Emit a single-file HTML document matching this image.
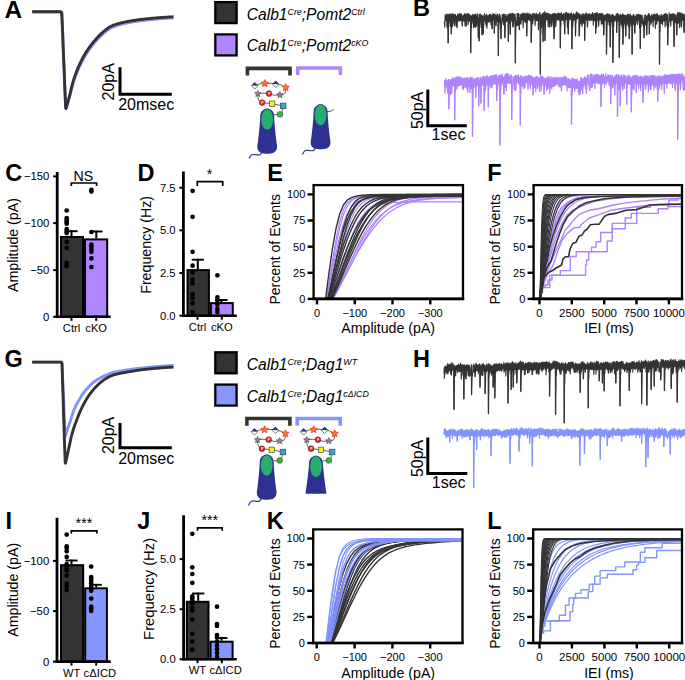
<!DOCTYPE html>
<html><head><meta charset="utf-8"><style>
html,body{margin:0;padding:0;background:#fff;width:685px;height:680px;overflow:hidden}
svg text{font-family:"Liberation Sans", sans-serif}
</style></head><body>
<svg width="685" height="680" viewBox="0 0 685 680" style="position:absolute;left:0;top:0;font-family:'Liberation Sans', sans-serif">
<rect width="685" height="680" fill="#fff"/>
<defs>
<clipPath id="cE"><rect x="313.6" y="185.1" width="149.4" height="113.8"/></clipPath>
<clipPath id="cF"><rect x="533.6" y="185.1" width="148.4" height="113.8"/></clipPath>
<clipPath id="cK"><rect x="313.2" y="529.4" width="149.3" height="113.6"/></clipPath>
<clipPath id="cL"><rect x="533.2" y="529.4" width="148.8" height="113.6"/></clipPath>
</defs>
<text x="4.4" y="17.6" font-size="23.5" text-anchor="start" font-weight="bold" font-style="normal" fill="#000" textLength="17.6" lengthAdjust="spacingAndGlyphs">A</text>
<text x="413" y="16" font-size="23.5" text-anchor="start" font-weight="bold" font-style="normal" fill="#000">B</text>
<text x="5.2" y="181" font-size="23.5" text-anchor="start" font-weight="bold" font-style="normal" fill="#000">C</text>
<text x="137.6" y="181" font-size="23.5" text-anchor="start" font-weight="bold" font-style="normal" fill="#000">D</text>
<text x="267.2" y="181" font-size="23.5" text-anchor="start" font-weight="bold" font-style="normal" fill="#000">E</text>
<text x="487.2" y="181" font-size="23.5" text-anchor="start" font-weight="bold" font-style="normal" fill="#000">F</text>
<text x="4.4" y="367" font-size="23.5" text-anchor="start" font-weight="bold" font-style="normal" fill="#000">G</text>
<text x="413" y="367" font-size="23.5" text-anchor="start" font-weight="bold" font-style="normal" fill="#000">H</text>
<text x="5.4" y="529.2" font-size="23.5" text-anchor="start" font-weight="bold" font-style="normal" fill="#000">I</text>
<text x="137.3" y="529.2" font-size="23.5" text-anchor="start" font-weight="bold" font-style="normal" fill="#000">J</text>
<text x="266.8" y="529.2" font-size="23.5" text-anchor="start" font-weight="bold" font-style="normal" fill="#000">K</text>
<text x="487.2" y="529.2" font-size="23.5" text-anchor="start" font-weight="bold" font-style="normal" fill="#000">L</text>
<polyline points="32.2,11.8 60.4,11.8 61.3,12.1 61.8,13.3 62.3,24.9 62.8,36.5 63.2,48.1 63.7,59.7 64.2,71.2 64.6,82.8 65.1,94.4 65.7,107.7 66,108.5 66.5,107 67,105.4 67.5,103.8 68,102.1 68.5,100.4 69,98.7 69.5,97 70,95.1 70.5,93.2 71,91.2 71.5,89.2 72,87.3 72.5,85.4 73,83.7 73.5,82.1 74,80.6 74.5,79.1 75,77.7 75.5,76.3 76,75 76.5,73.7 77,72.5 77.5,71.3 78,70.1 78.5,68.9 79,67.8 79.5,66.7 80,65.7 80.5,64.6 81,63.6 81.5,62.6 82,61.6 82.5,60.7 83,59.7 83.5,58.8 84,57.9 84.5,57 85,56.1 85.5,55.3 86,54.4 86.5,53.6 87,52.9 87.5,52.1 88,51.4 88.5,50.6 89,49.9 89.5,49.2 90,48.5 90.5,47.8 91,47.2 91.5,46.5 92,45.9 92.5,45.3 93,44.6 93.5,44 94,43.4 94.5,42.8 95,42.3 95.5,41.7 96,41.1 96.5,40.5 97,40 97.5,39.4 98,38.9 98.5,38.3 99,37.8 99.5,37.3 100,36.8 100.5,36.3 101,35.8 101.5,35.3 102,34.8 102.5,34.4 103,33.9 103.5,33.5 104,33.1 104.5,32.7 105,32.2 105.5,31.8 106,31.4 106.5,31 107,30.6 107.5,30.2 108,29.9 108.5,29.5 109,29.2 109.5,28.8 110,28.5 110.5,28.2 111,28 111.5,27.7 112,27.5 112.5,27.3 113,27.1 113.5,26.9 114,26.7 114.5,26.5 115,26.3 115.5,26.1 116,26 116.5,25.8 117,25.6 117.5,25.5 118,25.3 118.5,25.2 119,25 119.5,24.9 120,24.7 120.5,24.6 121,24.5 121.5,24.3 122,24.2 122.5,24.1 123,24 123.5,23.9 124,23.7 124.5,23.6 125,23.5 125.5,23.4 126,23.3 126.5,23.2 127,23.1 127.5,23 128,22.9 128.5,22.8 129,22.7 129.5,22.6 130,22.5 130.5,22.4 131,22.3 131.5,22.2 132,22.1 132.5,22.1 133,22 133.5,21.9 134,21.8 134.5,21.7 135,21.6 135.5,21.6 136,21.5 136.5,21.4 137,21.3 137.5,21.3 138,21.2 138.5,21.1 139,21 139.5,21 140,20.9 140.5,20.8 141,20.8 141.5,20.7 142,20.7 142.5,20.6 143,20.5 143.5,20.5 144,20.4 144.5,20.4 145,20.3 145.5,20.2 146,20.2 146.5,20.1 147,20.1 147.5,20 148,20 148.5,19.9 149,19.9 149.5,19.8 150,19.8 150.5,19.7 151,19.6 151.5,19.6 152,19.5 152.5,19.5 153,19.4 153.5,19.4 154,19.3 154.5,19.3 155,19.2 155.5,19.2 156,19.1 156.5,19.1 157,19 157.5,19 158,19 158.5,18.9 159,18.9 159.5,18.8 160,18.8 160.5,18.7 161,18.7 161.5,18.7 162,18.6 162.5,18.6 163,18.5 163.5,18.5 164,18.5 164.5,18.4 165,18.4 165.5,18.3 166,18.3 166.5,18.3 167,18.2 167.5,18.2 168,18.2 168.5,18.2 169,18.1 169.5,18.1 170,18.1 170.5,18 171,18 171.5,18 172,18 172.5,17.9 173,17.9 173.5,17.9" fill="none" stroke="#ae84fc" stroke-width="2.9" stroke-linejoin="round"/>
<polyline points="32.2,11.8 60.4,11.8 61.3,12.1 61.8,13.3 62.3,24.9 62.8,36.5 63.2,48.1 63.7,59.7 64.2,71.2 64.6,82.8 65.1,94.4 65.7,107.7 66,108.5 66.5,106.8 67,105.1 67.5,103.3 68,101.5 68.5,99.7 69,97.9 69.5,96 70,94 70.5,92 71,89.8 71.5,87.7 72,85.6 72.5,83.7 73,81.9 73.5,80.2 74,78.6 74.5,77.1 75,75.7 75.5,74.2 76,72.9 76.5,71.6 77,70.3 77.5,69.1 78,67.9 78.5,66.7 79,65.6 79.5,64.5 80,63.5 80.5,62.4 81,61.4 81.5,60.4 82,59.4 82.5,58.5 83,57.5 83.5,56.6 84,55.7 84.5,54.8 85,54 85.5,53.1 86,52.3 86.5,51.5 87,50.8 87.5,50 88,49.3 88.5,48.5 89,47.8 89.5,47.1 90,46.5 90.5,45.8 91,45.1 91.5,44.5 92,43.8 92.5,43.2 93,42.6 93.5,42 94,41.4 94.5,40.8 95,40.3 95.5,39.7 96,39.1 96.5,38.6 97,38 97.5,37.5 98,36.9 98.5,36.4 99,35.9 99.5,35.4 100,34.9 100.5,34.4 101,33.9 101.5,33.5 102,33 102.5,32.6 103,32.1 103.5,31.7 104,31.3 104.5,30.9 105,30.5 105.5,30.1 106,29.6 106.5,29.3 107,28.9 107.5,28.5 108,28.1 108.5,27.8 109,27.4 109.5,27.1 110,26.8 110.5,26.5 111,26.3 111.5,26 112,25.8 112.5,25.6 113,25.4 113.5,25.2 114,25 114.5,24.9 115,24.7 115.5,24.5 116,24.3 116.5,24.2 117,24 117.5,23.9 118,23.7 118.5,23.6 119,23.4 119.5,23.3 120,23.2 120.5,23 121,22.9 121.5,22.8 122,22.7 122.5,22.5 123,22.4 123.5,22.3 124,22.2 124.5,22.1 125,22 125.5,21.9 126,21.8 126.5,21.7 127,21.6 127.5,21.5 128,21.4 128.5,21.3 129,21.2 129.5,21.1 130,21.1 130.5,21 131,20.9 131.5,20.8 132,20.7 132.5,20.6 133,20.6 133.5,20.5 134,20.4 134.5,20.3 135,20.2 135.5,20.2 136,20.1 136.5,20 137,20 137.5,19.9 138,19.8 138.5,19.8 139,19.7 139.5,19.6 140,19.6 140.5,19.5 141,19.4 141.5,19.4 142,19.3 142.5,19.3 143,19.2 143.5,19.2 144,19.1 144.5,19.1 145,19 145.5,18.9 146,18.9 146.5,18.8 147,18.8 147.5,18.7 148,18.7 148.5,18.6 149,18.6 149.5,18.5 150,18.5 150.5,18.4 151,18.4 151.5,18.3 152,18.3 152.5,18.3 153,18.2 153.5,18.2 154,18.1 154.5,18.1 155,18 155.5,18 156,17.9 156.5,17.9 157,17.8 157.5,17.8 158,17.8 158.5,17.7 159,17.7 159.5,17.6 160,17.6 160.5,17.6 161,17.5 161.5,17.5 162,17.4 162.5,17.4 163,17.4 163.5,17.3 164,17.3 164.5,17.3 165,17.2 165.5,17.2 166,17.2 166.5,17.1 167,17.1 167.5,17.1 168,17.1 168.5,17 169,17 169.5,17 170,16.9 170.5,16.9 171,16.9 171.5,16.9 172,16.9 172.5,16.8 173,16.8 173.5,16.8" fill="none" stroke="#333333" stroke-width="2.9" stroke-linejoin="round"/>
<polyline points="120,67.2 120,94.2 171.8,94.2" fill="none" stroke="#000" stroke-width="3"/>
<text x="118.2" y="109.8" font-size="16" text-anchor="start" font-weight="normal" font-style="normal" fill="#000">20msec</text>
<text x="113.8" y="81.8" font-size="16" text-anchor="middle" font-weight="normal" font-style="normal" fill="#000" transform="rotate(-90 113.8 81.8)">20pA</text>
<polyline points="32.2,362.1 60.6,362.1 61.5,362.4 62,363.6 62.4,372.4 62.8,381.1 63.1,389.9 63.5,398.6 63.9,407.4 64.2,416.1 64.6,424.9 65.1,435.3 65.4,436.1 65.9,434.3 66.4,432.6 66.9,431 67.4,429.4 67.9,427.9 68.4,426.5 68.9,425.2 69.4,423.8 69.9,422.5 70.4,421 70.9,419.4 71.4,417.7 71.9,416 72.4,414.3 72.9,412.7 73.4,411.3 73.9,410.1 74.4,408.9 74.9,407.8 75.4,406.7 75.9,405.7 76.4,404.7 76.9,403.8 77.4,402.9 77.9,402 78.4,401.1 78.9,400.3 79.4,399.4 79.9,398.6 80.4,397.7 80.9,396.9 81.4,396.1 81.9,395.3 82.4,394.6 82.9,393.8 83.4,393.1 83.9,392.4 84.4,391.8 84.9,391.1 85.4,390.5 85.9,389.9 86.4,389.3 86.9,388.7 87.4,388.2 87.9,387.6 88.4,387.1 88.9,386.5 89.4,386 89.9,385.5 90.4,385 90.9,384.5 91.4,384.1 91.9,383.6 92.4,383.2 92.9,382.8 93.4,382.4 93.9,382 94.4,381.6 94.9,381.3 95.4,380.9 95.9,380.6 96.4,380.3 96.9,379.9 97.4,379.6 97.9,379.3 98.4,379 98.9,378.7 99.4,378.5 99.9,378.2 100.4,377.9 100.9,377.6 101.4,377.4 101.9,377.1 102.4,376.9 102.9,376.6 103.4,376.4 103.9,376.1 104.4,375.9 104.9,375.7 105.4,375.4 105.9,375.2 106.4,375 106.9,374.8 107.4,374.5 107.9,374.3 108.4,374.1 108.9,373.9 109.4,373.7 109.9,373.5 110.4,373.4 110.9,373.2 111.4,373 111.9,372.9 112.4,372.7 112.9,372.6 113.4,372.5 113.9,372.3 114.4,372.2 114.9,372.1 115.4,372 115.9,371.9 116.4,371.8 116.9,371.7 117.4,371.6 117.9,371.5 118.4,371.4 118.9,371.3 119.4,371.2 119.9,371.1 120.4,371 120.9,370.9 121.4,370.8 121.9,370.7 122.4,370.7 122.9,370.6 123.4,370.5 123.9,370.4 124.4,370.3 124.9,370.3 125.4,370.2 125.9,370.1 126.4,370 126.9,370 127.4,369.9 127.9,369.8 128.4,369.7 128.9,369.7 129.4,369.6 129.9,369.5 130.4,369.5 130.9,369.4 131.4,369.3 131.9,369.2 132.4,369.2 132.9,369.1 133.4,369 133.9,369 134.4,368.9 134.9,368.8 135.4,368.8 135.9,368.7 136.4,368.7 136.9,368.6 137.4,368.5 137.9,368.5 138.4,368.4 138.9,368.4 139.4,368.3 139.9,368.2 140.4,368.2 140.9,368.1 141.4,368.1 141.9,368 142.4,368 142.9,367.9 143.4,367.9 143.9,367.8 144.4,367.8 144.9,367.7 145.4,367.7 145.9,367.6 146.4,367.6 146.9,367.5 147.4,367.5 147.9,367.4 148.4,367.4 148.9,367.3 149.4,367.3 149.9,367.2 150.4,367.2 150.9,367.1 151.4,367.1 151.9,367 152.4,367 152.9,366.9 153.4,366.9 153.9,366.8 154.4,366.8 154.9,366.8 155.4,366.7 155.9,366.7 156.4,366.6 156.9,366.6 157.4,366.5 157.9,366.5 158.4,366.5 158.9,366.4 159.4,366.4 159.9,366.3 160.4,366.3 160.9,366.2 161.4,366.2 161.9,366.2 162.4,366.1 162.9,366.1 163.4,366.1 163.9,366 164.4,366 164.9,365.9 165.4,365.9 165.9,365.9 166.4,365.8 166.9,365.8 167.4,365.8 167.9,365.7 168.4,365.7 168.9,365.7 169.4,365.6 169.9,365.6 170.4,365.6 170.9,365.5 171.4,365.5 171.9,365.5 172.4,365.5 172.9,365.4 173.4,365.4" fill="none" stroke="#8393fc" stroke-width="2.9" stroke-linejoin="round"/>
<polyline points="32.2,362.1 60.6,362.1 61.5,362.4 62,363.6 62.4,375.7 62.8,387.9 63.2,400 63.5,412.2 63.9,424.3 64.3,436.4 64.7,448.6 65.2,462.4 65.5,463.2 66,460.9 66.5,458.6 67,456.4 67.5,454.1 68,451.9 68.5,449.6 69,447.3 69.5,444.9 70,442.6 70.5,440.2 71,438 71.5,435.9 72,434 72.5,432.3 73,430.6 73.5,429 74,427.5 74.5,426 75,424.6 75.5,423.2 76,421.9 76.5,420.5 77,419.2 77.5,417.9 78,416.6 78.5,415.4 79,414.1 79.5,412.9 80,411.7 80.5,410.6 81,409.5 81.5,408.4 82,407.4 82.5,406.4 83,405.4 83.5,404.5 84,403.5 84.5,402.6 85,401.7 85.5,400.8 86,400 86.5,399.1 87,398.3 87.5,397.5 88,396.8 88.5,396 89,395.3 89.5,394.6 90,393.9 90.5,393.2 91,392.6 91.5,391.9 92,391.3 92.5,390.7 93,390.1 93.5,389.5 94,388.9 94.5,388.3 95,387.8 95.5,387.2 96,386.7 96.5,386.2 97,385.7 97.5,385.2 98,384.7 98.5,384.3 99,383.8 99.5,383.4 100,382.9 100.5,382.5 101,382.1 101.5,381.7 102,381.3 102.5,380.9 103,380.5 103.5,380.2 104,379.8 104.5,379.5 105,379.1 105.5,378.8 106,378.5 106.5,378.2 107,377.9 107.5,377.6 108,377.3 108.5,377.1 109,376.8 109.5,376.6 110,376.3 110.5,376.1 111,375.9 111.5,375.7 112,375.5 112.5,375.3 113,375.1 113.5,375 114,374.8 114.5,374.7 115,374.6 115.5,374.4 116,374.3 116.5,374.2 117,374.1 117.5,373.9 118,373.8 118.5,373.7 119,373.6 119.5,373.5 120,373.4 120.5,373.3 121,373.2 121.5,373.1 122,373 122.5,372.9 123,372.8 123.5,372.8 124,372.7 124.5,372.6 125,372.5 125.5,372.4 126,372.3 126.5,372.2 127,372.1 127.5,372 128,371.9 128.5,371.8 129,371.8 129.5,371.7 130,371.6 130.5,371.5 131,371.4 131.5,371.3 132,371.2 132.5,371.2 133,371.1 133.5,371 134,370.9 134.5,370.8 135,370.8 135.5,370.7 136,370.6 136.5,370.5 137,370.4 137.5,370.4 138,370.3 138.5,370.2 139,370.2 139.5,370.1 140,370 140.5,369.9 141,369.9 141.5,369.8 142,369.8 142.5,369.7 143,369.6 143.5,369.6 144,369.5 144.5,369.5 145,369.4 145.5,369.3 146,369.3 146.5,369.2 147,369.2 147.5,369.1 148,369.1 148.5,369 149,369 149.5,368.9 150,368.9 150.5,368.8 151,368.8 151.5,368.7 152,368.7 152.5,368.6 153,368.6 153.5,368.5 154,368.5 154.5,368.4 155,368.4 155.5,368.3 156,368.3 156.5,368.2 157,368.2 157.5,368.2 158,368.1 158.5,368.1 159,368 159.5,368 160,367.9 160.5,367.9 161,367.9 161.5,367.8 162,367.8 162.5,367.7 163,367.7 163.5,367.7 164,367.6 164.5,367.6 165,367.6 165.5,367.5 166,367.5 166.5,367.5 167,367.4 167.5,367.4 168,367.4 168.5,367.3 169,367.3 169.5,367.3 170,367.3 170.5,367.2 171,367.2 171.5,367.2 172,367.2 172.5,367.1 173,367.1 173.5,367.1" fill="none" stroke="#333333" stroke-width="2.9" stroke-linejoin="round"/>
<polyline points="120,423 120,447.8 171.8,447.8" fill="none" stroke="#000" stroke-width="3"/>
<text x="118.2" y="463.6" font-size="16" text-anchor="start" font-weight="normal" font-style="normal" fill="#000">20msec</text>
<text x="114" y="435.4" font-size="16" text-anchor="middle" font-weight="normal" font-style="normal" fill="#000" transform="rotate(-90 114 435.4)">20pA</text>
<rect x="215.3" y="2.1" width="21.3" height="21" fill="#333333" stroke="#000" stroke-width="2.3"/>
<rect x="215.3" y="34.4" width="21.3" height="21" fill="#b085fe" stroke="#000" stroke-width="2.3"/>
<text x="246.8" y="19.8" font-size="15.6" font-style="italic"><tspan dy="-0">Calb1</tspan><tspan font-size="8.8" dy="-4.9">Cre</tspan><tspan dy="4.9">;Pomt2</tspan><tspan font-size="8.8" dy="-4.9">Ctrl</tspan></text>
<text x="246.8" y="51.2" font-size="15.6" font-style="italic"><tspan dy="-0">Calb1</tspan><tspan font-size="8.8" dy="-4.9">Cre</tspan><tspan dy="4.9">;Pomt2</tspan><tspan font-size="8.8" dy="-4.9">cKO</tspan></text>
<rect x="215.3" y="352.3" width="21.3" height="21" fill="#333333" stroke="#000" stroke-width="2.3"/>
<rect x="215.3" y="384.6" width="21.3" height="21" fill="#8696fe" stroke="#000" stroke-width="2.3"/>
<text x="246.8" y="369.8" font-size="15.6" font-style="italic"><tspan dy="-0">Calb1</tspan><tspan font-size="8.8" dy="-4.9">Cre</tspan><tspan dy="4.9">;Dag1</tspan><tspan font-size="8.8" dy="-4.9">WT</tspan></text>
<text x="246.8" y="401.6" font-size="15.6" font-style="italic"><tspan dy="-0">Calb1</tspan><tspan font-size="8.8" dy="-4.9">Cre</tspan><tspan dy="4.9">;Dag1</tspan><tspan font-size="8.8" dy="-4.9">c&#916;ICD</tspan></text>
<polyline points="247.4,75.4 247.4,68.4 290,68.4 290,75.4" fill="none" stroke="#333333" stroke-width="3.6" stroke-linejoin="miter"/>
<polyline points="297.7,75 297.7,68 340.4,68 340.4,75" fill="none" stroke="#b085fe" stroke-width="3.6" stroke-linejoin="miter"/>
<path d="M260.3,115.8 C260.3,106.5 274.1,106.5 274.1,115.8 C274.5,124.4 275.4,133.4 276.5,142.3 C277.6,147.4 277.4,150.9 273.2,152.9 C270.2,154 264.2,154 261.2,152.9 C257,150.9 256.8,147.4 257.9,142.3 C259,133.4 259.9,124.4 260.3,115.8 Z" fill="#2e3192"/>
<ellipse cx="267.2" cy="119.4" rx="6.3" ry="10.7" fill="#27ae6f" stroke="#2e3192" stroke-width="0.7"/>
<path d="M262.5,151.5 C260.5,155.7 258.4,155 255.8,154.7 S251,153.6 249,158.5" fill="none" stroke="#2e3192" stroke-width="1.2"/>
<path d="M254.7,85.7 Q259.8,83.2 264.8,83.5 Q270.2,82.5 275.7,84.2 Q280.7,83.7 285.7,87.5" fill="none" stroke="#333" stroke-width="0.75"/>
<path d="M285.7,87.5 Q286.7,95.9 279.9,94.9" fill="none" stroke="#333" stroke-width="0.75"/>
<path d="M279.9,94.9 Q274.4,96.4 269,93.6 Q263.4,92.6 257.8,93.8" fill="none" stroke="#333" stroke-width="0.75"/>
<path d="M257.8,93.8 Q257.3,101.6 262.2,102.6" fill="none" stroke="#333" stroke-width="0.75"/>
<path d="M262.2,102.6 L272.1,103.7 L283.2,105.9 L281.5,114.3 L274,114.8" fill="none" stroke="#333" stroke-width="0.75"/>
<path d="M251.4,85.7 L254.7,82.4 L258,85.7 Z" fill="#2e3192"/>
<path d="M251.4,85.7 L254.7,89 L258,85.7 Z" fill="#fff"/>
<path d="M251.4,85.7 L254.7,82.4 L258,85.7 L254.7,89 Z" fill="none" stroke="#222" stroke-width="0.6"/>
<path d="M272.4,84.2 L275.7,80.9 L279,84.2 Z" fill="#2e3192"/>
<path d="M272.4,84.2 L275.7,87.5 L279,84.2 Z" fill="#fff"/>
<path d="M272.4,84.2 L275.7,80.9 L279,84.2 L275.7,87.5 Z" fill="none" stroke="#222" stroke-width="0.6"/>
<path d="M264.8,79.6 L265.9,82 L268.5,82.3 L266.6,84.1 L267.1,86.7 L264.8,85.4 L262.5,86.7 L263,84.1 L261.1,82.3 L263.7,82Z" fill="#f47920" stroke="#ed1c24" stroke-width="0.6"/>
<path d="M285.7,83.6 L286.8,86 L289.4,86.3 L287.5,88.1 L288,90.7 L285.7,89.4 L283.4,90.7 L283.9,88.1 L282,86.3 L284.6,86Z" fill="#f47920" stroke="#ed1c24" stroke-width="0.6"/>
<path d="M257.8,90.4 L258.7,92.5 L261,92.7 L259.3,94.3 L259.8,96.6 L257.8,95.4 L255.8,96.6 L256.3,94.3 L254.6,92.7 L256.9,92.5Z" fill="#a8789f" stroke="#333" stroke-width="0.5"/>
<path d="M279.9,91.5 L280.8,93.6 L283.1,93.8 L281.4,95.4 L281.9,97.7 L279.9,96.5 L277.9,97.7 L278.4,95.4 L276.7,93.8 L279,93.6Z" fill="#a8789f" stroke="#333" stroke-width="0.5"/>
<circle cx="269" cy="93.6" r="2.9" fill="#ed1c24" stroke="#333" stroke-width="0.5"/>
<text x="269.2" y="94.7" font-size="3.2" font-weight="bold" font-style="italic" fill="#fff" text-anchor="middle">P</text>
<circle cx="262.2" cy="102.6" r="2.9" fill="#ed1c24" stroke="#333" stroke-width="0.5"/>
<text x="262.4" y="103.7" font-size="3.2" font-weight="bold" font-style="italic" fill="#fff" text-anchor="middle">P</text>
<rect x="269.4" y="101" width="5.4" height="5.4" fill="#fff200" stroke="#333" stroke-width="0.6"/>
<rect x="280.4" y="103.1" width="5.6" height="5.6" fill="#29abe2" stroke="#333" stroke-width="0.6"/>
<circle cx="280" cy="114.3" r="2.9" fill="#39b54a" stroke="#333" stroke-width="0.5"/>
<path d="M313.7,111.4 C313.7,102.1 327.5,102.1 327.5,111.4 C327.9,120 328.8,129 329.9,137.9 C331,143 330.8,146.5 326.6,148.5 C323.6,149.6 317.6,149.6 314.6,148.5 C310.4,146.5 310.2,143 311.3,137.9 C312.4,129 313.3,120 313.7,111.4 Z" fill="#2e3192"/>
<ellipse cx="320.6" cy="115" rx="6.3" ry="10.7" fill="#27ae6f" stroke="#2e3192" stroke-width="0.7"/>
<path d="M316,147.3 C314,151.6 311.9,150.9 309.2,150.5 S304.5,149.5 302.5,154.5" fill="none" stroke="#2e3192" stroke-width="1.2"/>
<path d="M327.2,111.6 C330,111.8 332.5,111 333.8,109" fill="none" stroke="#333" stroke-width="0.8"/>
<line x1="326.5" y1="111.6" x2="327.5" y2="111.6" stroke="#333" stroke-width="0.8"/>
<polyline points="246.9,425.7 246.9,418.5 289.9,418.5 289.9,425.7" fill="none" stroke="#333333" stroke-width="3.6" stroke-linejoin="miter"/>
<polyline points="297.2,425.7 297.2,418.5 340.2,418.5 340.2,425.7" fill="none" stroke="#8696fe" stroke-width="3.6" stroke-linejoin="miter"/>
<path d="M254.4,431.8 Q259.4,429.3 264.5,429.6 Q269.9,428.6 275.4,430.3 Q280.4,429.8 285.4,433.6" fill="none" stroke="#333" stroke-width="0.75"/>
<path d="M285.4,433.6 Q286.4,442 279.6,441" fill="none" stroke="#333" stroke-width="0.75"/>
<path d="M279.6,441 Q274.1,442.5 268.7,439.7 Q263.1,438.7 257.5,439.9" fill="none" stroke="#333" stroke-width="0.75"/>
<path d="M257.5,439.9 Q257,447.7 261.9,448.7" fill="none" stroke="#333" stroke-width="0.75"/>
<path d="M261.9,448.7 L271.8,449.8 L282.9,452 L281.2,460.4 L273.7,460.9" fill="none" stroke="#333" stroke-width="0.75"/>
<path d="M251.1,431.8 L254.4,428.5 L257.7,431.8 Z" fill="#2e3192"/>
<path d="M251.1,431.8 L254.4,435.1 L257.7,431.8 Z" fill="#fff"/>
<path d="M251.1,431.8 L254.4,428.5 L257.7,431.8 L254.4,435.1 Z" fill="none" stroke="#222" stroke-width="0.6"/>
<path d="M272.1,430.3 L275.4,427 L278.7,430.3 Z" fill="#2e3192"/>
<path d="M272.1,430.3 L275.4,433.6 L278.7,430.3 Z" fill="#fff"/>
<path d="M272.1,430.3 L275.4,427 L278.7,430.3 L275.4,433.6 Z" fill="none" stroke="#222" stroke-width="0.6"/>
<path d="M264.5,425.7 L265.6,428.1 L268.2,428.4 L266.3,430.2 L266.8,432.8 L264.5,431.5 L262.2,432.8 L262.7,430.2 L260.8,428.4 L263.4,428.1Z" fill="#f47920" stroke="#ed1c24" stroke-width="0.6"/>
<path d="M285.4,429.7 L286.5,432.1 L289.1,432.4 L287.2,434.2 L287.7,436.8 L285.4,435.5 L283.1,436.8 L283.6,434.2 L281.7,432.4 L284.3,432.1Z" fill="#f47920" stroke="#ed1c24" stroke-width="0.6"/>
<path d="M257.5,436.5 L258.4,438.6 L260.7,438.8 L259,440.4 L259.5,442.7 L257.5,441.5 L255.5,442.7 L256,440.4 L254.3,438.8 L256.6,438.6Z" fill="#a8789f" stroke="#333" stroke-width="0.5"/>
<path d="M279.6,437.6 L280.5,439.7 L282.8,439.9 L281.1,441.5 L281.6,443.8 L279.6,442.6 L277.6,443.8 L278.1,441.5 L276.4,439.9 L278.7,439.7Z" fill="#a8789f" stroke="#333" stroke-width="0.5"/>
<circle cx="268.7" cy="439.7" r="2.9" fill="#ed1c24" stroke="#333" stroke-width="0.5"/>
<text x="268.9" y="440.8" font-size="3.2" font-weight="bold" font-style="italic" fill="#fff" text-anchor="middle">P</text>
<circle cx="261.9" cy="448.7" r="2.9" fill="#ed1c24" stroke="#333" stroke-width="0.5"/>
<text x="262.1" y="449.8" font-size="3.2" font-weight="bold" font-style="italic" fill="#fff" text-anchor="middle">P</text>
<rect x="269.1" y="447.1" width="5.4" height="5.4" fill="#fff200" stroke="#333" stroke-width="0.6"/>
<rect x="280.1" y="449.2" width="5.6" height="5.6" fill="#29abe2" stroke="#333" stroke-width="0.6"/>
<circle cx="279.7" cy="460.4" r="2.9" fill="#39b54a" stroke="#333" stroke-width="0.5"/>
<path d="M259.8,461.8 C259.8,452.5 273.6,452.5 273.6,461.8 C274,470.4 274.9,479.4 276,488.3 C277.1,493.4 276.9,496.9 272.7,498.9 C269.7,500 263.7,500 260.7,498.9 C256.5,496.9 256.3,493.4 257.4,488.3 C258.5,479.4 259.4,470.4 259.8,461.8 Z" fill="#2e3192"/>
<ellipse cx="266.7" cy="465.4" rx="6.3" ry="10.7" fill="#27ae6f" stroke="#2e3192" stroke-width="0.7"/>
<path d="M262,497.5 C260,502.3 257.9,501.5 255.2,501.1 S250.5,499.9 248.5,505.5" fill="none" stroke="#2e3192" stroke-width="1.2"/>
<path d="M303.6,431.8 Q308.7,429.3 313.7,429.6 Q319.2,428.6 324.6,430.3 Q329.6,429.8 334.6,433.6" fill="none" stroke="#333" stroke-width="0.75"/>
<path d="M334.6,433.6 Q335.6,442 328.8,441" fill="none" stroke="#333" stroke-width="0.75"/>
<path d="M328.8,441 Q323.4,442.5 317.9,439.7 Q312.3,438.7 306.7,439.9" fill="none" stroke="#333" stroke-width="0.75"/>
<path d="M306.7,439.9 Q306.2,447.7 311.1,448.7" fill="none" stroke="#333" stroke-width="0.75"/>
<path d="M311.1,448.7 L321,449.8 L332.1,452 L330.4,460.4 L322.9,460.9" fill="none" stroke="#333" stroke-width="0.75"/>
<path d="M300.3,431.8 L303.6,428.5 L306.9,431.8 Z" fill="#2e3192"/>
<path d="M300.3,431.8 L303.6,435.1 L306.9,431.8 Z" fill="#fff"/>
<path d="M300.3,431.8 L303.6,428.5 L306.9,431.8 L303.6,435.1 Z" fill="none" stroke="#222" stroke-width="0.6"/>
<path d="M321.3,430.3 L324.6,427 L327.9,430.3 Z" fill="#2e3192"/>
<path d="M321.3,430.3 L324.6,433.6 L327.9,430.3 Z" fill="#fff"/>
<path d="M321.3,430.3 L324.6,427 L327.9,430.3 L324.6,433.6 Z" fill="none" stroke="#222" stroke-width="0.6"/>
<path d="M313.7,425.7 L314.8,428.1 L317.4,428.4 L315.5,430.2 L316,432.8 L313.7,431.5 L311.4,432.8 L311.9,430.2 L310,428.4 L312.6,428.1Z" fill="#f47920" stroke="#ed1c24" stroke-width="0.6"/>
<path d="M334.6,429.7 L335.7,432.1 L338.3,432.4 L336.4,434.2 L336.9,436.8 L334.6,435.5 L332.3,436.8 L332.8,434.2 L330.9,432.4 L333.5,432.1Z" fill="#f47920" stroke="#ed1c24" stroke-width="0.6"/>
<path d="M306.7,436.5 L307.6,438.6 L309.9,438.8 L308.2,440.4 L308.7,442.7 L306.7,441.5 L304.7,442.7 L305.2,440.4 L303.5,438.8 L305.8,438.6Z" fill="#a8789f" stroke="#333" stroke-width="0.5"/>
<path d="M328.8,437.6 L329.7,439.7 L332,439.9 L330.3,441.5 L330.8,443.8 L328.8,442.6 L326.8,443.8 L327.3,441.5 L325.6,439.9 L327.9,439.7Z" fill="#a8789f" stroke="#333" stroke-width="0.5"/>
<circle cx="317.9" cy="439.7" r="2.9" fill="#ed1c24" stroke="#333" stroke-width="0.5"/>
<text x="318.1" y="440.8" font-size="3.2" font-weight="bold" font-style="italic" fill="#fff" text-anchor="middle">P</text>
<circle cx="311.1" cy="448.7" r="2.9" fill="#ed1c24" stroke="#333" stroke-width="0.5"/>
<text x="311.3" y="449.8" font-size="3.2" font-weight="bold" font-style="italic" fill="#fff" text-anchor="middle">P</text>
<rect x="318.3" y="447.1" width="5.4" height="5.4" fill="#fff200" stroke="#333" stroke-width="0.6"/>
<rect x="329.3" y="449.2" width="5.6" height="5.6" fill="#29abe2" stroke="#333" stroke-width="0.6"/>
<circle cx="328.9" cy="460.4" r="2.9" fill="#39b54a" stroke="#333" stroke-width="0.5"/>
<path d="M309.1,463 C309.1,453.7 322.9,453.7 322.9,463 C323.4,471.6 324.6,480.6 326.5,493.8 L305.5,493.8 C307.4,480.6 308.6,471.6 309.1,463 Z" fill="#2e3192"/>
<ellipse cx="316" cy="466.6" rx="6.3" ry="10.7" fill="#27ae6f" stroke="#2e3192" stroke-width="0.7"/>
<polyline points="444.5,21.3 444.7,27.1 444.9,24 445.1,14.9 445.3,20.6 445.5,16.1 445.7,19.6 445.9,16.3 446.1,20.5 446.3,14.6 446.5,19.6 446.7,14.1 446.9,26.5 447.1,23.7 447.3,28.3 447.5,24.8 447.7,22.6 447.9,14.3 448.1,43 448.3,34.7 448.5,29.2 448.7,16.5 448.9,23 449.1,14.1 449.3,21.5 449.5,15.6 449.7,19.3 449.9,14.1 450.1,20.5 450.3,26.5 450.5,24.6 450.7,22.2 450.9,20.5 451.1,14.2 451.3,34 451.5,28.5 451.7,24.7 451.9,13.8 452.1,20.6 452.3,13.5 452.5,26.7 452.7,23.6 452.9,24.5 453.1,23.8 453.3,21.8 453.5,14.4 453.7,19.5 453.9,14.4 454.1,21.3 454.3,16 454.5,19.5 454.7,25.7 454.9,22.9 455.1,14.4 455.3,20.8 455.5,14.6 455.7,19.4 455.9,16.1 456.1,20.7 456.3,26.5 456.5,23.5 456.7,16.2 456.9,21.5 457.1,27.7 457.3,24.3 457.5,14 457.7,21.8 457.9,14.5 458.1,20.1 458.3,14.1 458.5,19.7 458.7,15.4 458.9,20.6 459.1,14.7 459.3,21.1 459.5,15.2 459.7,20.4 459.9,13.4 460.1,18.9 460.3,14.8 460.5,20.6 460.7,13.8 460.9,19.4 461.1,14.3 461.3,20.4 461.5,14.1 461.7,19.2 461.9,16.1 462.1,21.7 462.3,26 462.5,23.2 462.7,15.7 462.9,20.7 463.1,16.1 463.3,20 463.5,15.6 463.7,20.9 463.9,14.5 464.1,21.1 464.3,13.7 464.5,20.6 464.7,14.6 464.9,19.9 465.1,25.9 465.3,23.1 465.5,13.8 465.7,26.1 465.9,23.2 466.1,21.3 466.3,26.2 466.5,23.3 466.7,14.2 466.9,20.6 467.1,13.9 467.3,18.6 467.5,13.5 467.7,20.2 467.9,13.4 468.1,24.7 468.3,22.4 468.5,20.8 468.7,14.1 468.9,21 469.1,14.2 469.3,20.1 469.5,15.1 469.7,20.9 469.9,14.9 470.1,19.8 470.3,15.5 470.5,19.7 470.7,52.8 470.9,41.2 471.1,16 471.3,28.2 471.5,24.7 471.7,22.4 471.9,15.6 472.1,20.8 472.3,15.4 472.5,20.2 472.7,14.2 472.9,21.8 473.1,23.5 473.3,21.5 473.5,27.4 473.7,24.1 473.9,14.8 474.1,20.5 474.3,14.6 474.5,20.1 474.7,27 474.9,23.9 475.1,14.3 475.3,20.4 475.5,14.1 475.7,27.2 475.9,24 476.1,21.9 476.3,16.1 476.5,19.4 476.7,25.9 476.9,23.2 477.1,13.9 477.3,20.1 477.5,15.8 477.7,21.5 477.9,14 478.1,21 478.3,37.8 478.5,31.1 478.7,22.4 478.9,23.7 479.1,41 479.3,33.3 479.5,14.4 479.7,24.6 479.9,14.4 480.1,20.8 480.3,14.3 480.5,20.9 480.7,14 480.9,19.4 481.1,27.5 481.3,24.2 481.5,15.6 481.7,20.6 481.9,16.2 482.1,35 482.3,29.3 482.5,25.4 482.7,15.7 482.9,21.1 483.1,15.1 483.3,34 483.5,28.6 483.7,25 483.9,21.6 484.1,22.1 484.3,16.4 484.5,21.3 484.7,13.4 484.9,19.8 485.1,15.6 485.3,20.3 485.5,15.5 485.7,24.1 485.9,22 486.1,20.5 486.3,26.3 486.5,23.4 486.7,14.2 486.9,28.2 487.1,24.7 487.3,22.4 487.5,15.7 487.7,20.6 487.9,16.5 488.1,22.3 488.3,15.8 488.5,21.6 488.7,15.2 488.9,21.7 489.1,16.8 489.3,22 489.5,14.6 489.7,21.3 489.9,14.5 490.1,20.1 490.3,14.8 490.5,19.9 490.7,14.2 490.9,24.6 491.1,22.3 491.3,20.7 491.5,15.7 491.7,18.6 491.9,15.2 492.1,28.7 492.3,25 492.5,22.6 492.7,13.9 492.9,19.8 493.1,14.6 493.3,19 493.5,14.8 493.7,18.8 493.9,13.9 494.1,20.2 494.3,33.3 494.5,28.1 494.7,21.5 494.9,22.3 495.1,14.1 495.3,20.5 495.5,15.2 495.7,24.4 495.9,22.1 496.1,26 496.3,23.2 496.5,21.3 496.7,15.1 496.9,21.4 497.1,14.1 497.3,21 497.5,14.6 497.7,20.3 497.9,14.2 498.1,21.4 498.3,55.7 498.5,43.1 498.7,23 498.9,29 499.1,16.1 499.3,22.7 499.5,14 499.7,21.2 499.9,15.4 500.1,21.7 500.3,15.5 500.5,24 500.7,21.8 500.9,38.8 501.1,31.8 501.3,27 501.5,23 501.7,21.8 501.9,23.1 502.1,21.2 502.3,14.2 502.5,20.1 502.7,14.9 502.9,20.3 503.1,14.8 503.3,20.2 503.5,24.8 503.7,22.4 503.9,13.8 504.1,19.6 504.3,14.4 504.5,21.2 504.7,16.1 504.9,37.8 505.1,31.1 505.3,26.6 505.5,14.6 505.7,21.5 505.9,14.2 506.1,20.9 506.3,16.1 506.5,21.6 506.7,16.6 506.9,21 507.1,16.3 507.3,20.7 507.5,15.9 507.7,20.8 507.9,14.6 508.1,26.7 508.3,41.5 508.5,33.5 508.7,14.2 508.9,24.6 509.1,14.9 509.3,20.6 509.5,13.7 509.7,20.7 509.9,15.9 510.1,20.5 510.3,34.2 510.5,28.6 510.7,13.4 510.9,22.4 511.1,13.7 511.3,19.6 511.5,14.7 511.7,20.3 511.9,14.8 512.1,18.7 512.3,13.1 512.5,18.1 512.7,27 512.9,23.8 513.1,13.4 513.3,20.2 513.5,26.1 513.7,23.2 513.9,14.7 514.1,20.8 514.3,14.2 514.5,19.9 514.7,14 514.9,19.6 515.1,14.2 515.3,63 515.5,47.9 515.7,37.8 515.9,20.9 516.1,26.4 516.3,23.3 516.5,21.3 516.7,25.7 516.9,22.9 517.1,13.4 517.3,19.7 517.5,13.6 517.7,20.6 517.9,25.6 518.1,22.8 518.3,13.5 518.5,23.4 518.7,24.7 518.9,22.2 519.1,14 519.3,29.6 519.5,25.5 519.7,22.7 519.9,22.8 520.1,20.9 520.3,23.2 520.5,21.1 520.7,14.2 520.9,24.3 521.1,21.9 521.3,20.3 521.5,14 521.7,18.7 521.9,14.9 522.1,18.4 522.3,14.8 522.5,19.5 522.7,13.1 522.9,19.2 523.1,27.7 523.3,24.2 523.5,13.9 523.7,20.2 523.9,13.6 524.1,21.2 524.3,13.1 524.5,20 524.7,14.1 524.9,20.2 525.1,15.4 525.3,22.6 525.5,20.7 525.7,21.2 525.9,13.4 526.1,20.3 526.3,14.6 526.5,18.8 526.7,36 526.9,29.7 527.1,13.8 527.3,22.6 527.5,14.6 527.7,19.8 527.9,12.9 528.1,20 528.3,15.1 528.5,19 528.7,14.1 528.9,19.4 529.1,14.9 529.3,19 529.5,14.1 529.7,20.4 529.9,14 530.1,19.4 530.3,14 530.5,21.2 530.7,14.8 530.9,19.8 531.1,15.8 531.3,42.4 531.5,34 531.7,28.3 531.9,15.1 532.1,21.9 532.3,13.7 532.5,20.9 532.7,23.9 532.9,21.5 533.1,13.4 533.3,20.3 533.5,14.3 533.7,19.3 533.9,13.8 534.1,18.3 534.3,15.2 534.5,18.9 534.7,13.8 534.9,18.7 535.1,25.6 535.3,22.7 535.5,14.7 535.7,20.8 535.9,13.9 536.1,18.5 536.3,13.8 536.5,20.6 536.7,13.3 536.9,19.2 537.1,14.8 537.3,20.4 537.5,14.9 537.7,19.3 537.9,15.7 538.1,20.9 538.3,14.6 538.5,29.6 538.7,25.3 538.9,22.5 539.1,14.2 539.3,19.2 539.5,12.6 539.7,17.7 539.9,12.6 540.1,19.3 540.3,74.3 540.5,55.3 540.7,14.7 540.9,34 541.1,22.5 541.3,24.4 541.5,15.3 541.7,27.2 541.9,23.7 542.1,21.3 542.3,13.6 542.5,19.4 542.7,14.7 542.9,18 543.1,41.5 543.3,33.3 543.5,12.7 543.7,24.1 543.9,13.8 544.1,19.9 544.3,23.3 544.5,21.1 544.7,11.4 544.9,40.6 545.1,32.7 545.3,27.3 545.5,13.5 545.7,21.4 545.9,14.6 546.1,18.7 546.3,12.9 546.5,19.5 546.7,13 546.9,19.5 547.1,14.9 547.3,19.9 547.5,14.7 547.7,18.7 547.9,13.5 548.1,26.8 548.3,23.4 548.5,21.1 548.7,13.5 548.9,19.1 549.1,15.9 549.3,20 549.5,27.3 549.7,23.7 549.9,14 550.1,20.9 550.3,22.9 550.5,20.8 550.7,15 550.9,20.1 551.1,14.6 551.3,26.5 551.5,23.2 551.7,25.3 551.9,22.4 552.1,20.4 552.3,13.7 552.5,19.2 552.7,14.1 552.9,17.6 553.1,14.2 553.3,26 553.5,27.3 553.7,23.7 553.9,13.8 554.1,38.8 554.3,31.4 554.5,26.5 554.7,13.4 554.9,20.9 555.1,13.2 555.3,18.4 555.5,14.1 555.7,26.8 555.9,24.7 556.1,22 556.3,14.6 556.5,19.1 556.7,14.6 556.9,19.5 557.1,13.8 557.3,19.1 557.5,13.4 557.7,20.1 557.9,14.6 558.1,19.3 558.3,15.5 558.5,19.8 558.7,13.1 558.9,19.2 559.1,14.9 559.3,20.3 559.5,13.5 559.7,19 559.9,14.8 560.1,19.5 560.3,47.9 560.5,37.5 560.7,13.2 560.9,25.9 561.1,14.3 561.3,20.7 561.5,12.9 561.7,18.7 561.9,14.2 562.1,20.2 562.3,14.9 562.5,20 562.7,14.8 562.9,20.5 563.1,14.4 563.3,19.9 563.5,14.7 563.7,19.2 563.9,13.2 564.1,24.6 564.3,21.9 564.5,20.1 564.7,34 564.9,28.2 565.1,13.7 565.3,21.7 565.5,12.7 565.7,19.5 565.9,12.9 566.1,19.4 566.3,12.2 566.5,17.4 566.7,13.7 566.9,19.1 567.1,13.1 567.3,24.4 567.5,27.4 567.7,23.8 567.9,13.9 568.1,19.7 568.3,34 568.5,28.2 568.7,13.4 568.9,21.7 569.1,13.9 569.3,18.8 569.5,14.6 569.7,18.6 569.9,14.6 570.1,19.4 570.3,13.6 570.5,19.2 570.7,14.2 570.9,19.3 571.1,14.4 571.3,17.8 571.5,12.9 571.7,26.3 571.9,48.8 572.1,38.1 572.3,14.7 572.5,26.2 572.7,27.3 572.9,23.7 573.1,20.5 573.3,19.7 573.5,13.5 573.7,20.2 573.9,15.1 574.1,19.7 574.3,14.2 574.5,20 574.7,14.8 574.9,19.4 575.1,14.7 575.3,17.9 575.5,36 575.7,29.6 575.9,13.5 576.1,22.4 576.3,12.7 576.5,19.1 576.7,11.9 576.9,18.6 577.1,13 577.3,18.9 577.5,12.7 577.7,18.1 577.9,13.1 578.1,17.8 578.3,13.9 578.5,17.8 578.7,13.9 578.9,18.6 579.1,13.8 579.3,36 579.5,29.6 579.7,25.3 579.9,14 580.1,20.5 580.3,24 580.5,23.7 580.7,21.4 580.9,21.2 581.1,15 581.3,20.8 581.5,14.9 581.7,19.6 581.9,26.2 582.1,23.1 582.3,25.2 582.5,22.4 582.7,13.5 582.9,20.3 583.1,14 583.3,19.5 583.5,23.2 583.7,21 583.9,14 584.1,20.5 584.3,14.9 584.5,20.2 584.7,40.6 584.9,32.7 585.1,15.1 585.3,23.9 585.5,13.8 585.7,19.9 585.9,13.1 586.1,20.2 586.3,13.5 586.5,19.3 586.7,13.3 586.9,18.6 587.1,13.7 587.3,25.8 587.5,27.3 587.7,23.8 587.9,20.8 588.1,19.9 588.3,14.4 588.5,18.2 588.7,14.9 588.9,18.7 589.1,14 589.3,19.9 589.5,13.5 589.7,20.8 589.9,14.9 590.1,20.6 590.3,15 590.5,19.5 590.7,14.6 590.9,19.3 591.1,14.8 591.3,19.1 591.5,15 591.7,20.5 591.9,13.8 592.1,20 592.3,12.9 592.5,18.4 592.7,12.6 592.9,18.9 593.1,14 593.3,25.1 593.5,22.4 593.7,20.5 593.9,15.6 594.1,19 594.3,13.2 594.5,20.6 594.7,13.8 594.9,18.6 595.1,13.8 595.3,19.7 595.5,13.4 595.7,33.3 595.9,27.9 596.1,24.3 596.3,13.1 596.5,27.7 596.7,24.1 596.9,21.8 597.1,12.6 597.3,20.3 597.5,14.4 597.7,18.5 597.9,13.5 598.1,19.6 598.3,14 598.5,20.4 598.7,26.3 598.9,23.3 599.1,15.2 599.3,19.8 599.5,13.5 599.7,19.9 599.9,14.6 600.1,18.9 600.3,13.8 600.5,20.2 600.7,13.5 600.9,19.5 601.1,13.5 601.3,24.1 601.5,21.8 601.7,20.2 601.9,13.7 602.1,19.4 602.3,13.2 602.5,23.7 602.7,21.5 602.9,20 603.1,14.6 603.3,26.4 603.5,26.4 603.7,35 603.9,29.1 604.1,25.1 604.3,15.6 604.5,20.7 604.7,15.1 604.9,19.8 605.1,15.1 605.3,20.3 605.5,15.7 605.7,20 605.9,16.1 606.1,21.4 606.3,14.5 606.5,54.3 606.7,42.1 606.9,33.8 607.1,14 607.3,24.7 607.5,14.3 607.7,20.5 607.9,13.3 608.1,20.5 608.3,14.5 608.5,21.4 608.7,15.5 608.9,21.1 609.1,25.1 609.3,22.5 609.5,14.3 609.7,20.8 609.9,14 610.1,19.1 610.3,47 610.5,37.2 610.7,21.7 610.9,26.2 611.1,15.7 611.3,21.3 611.5,15.3 611.7,20.5 611.9,14.9 612.1,21.9 612.3,15.6 612.5,20.4 612.7,14.2 612.9,62.5 613.1,47.6 613.3,37.6 613.5,15.2 613.7,26.4 613.9,16.2 614.1,21.4 614.3,16.4 614.5,20.7 614.7,16.9 614.9,21.3 615.1,16.2 615.3,20 615.5,15.7 615.7,19.7 615.9,15.7 616.1,19.1 616.3,13.8 616.5,20.8 616.7,32.4 616.9,27.4 617.1,15 617.3,21.9 617.5,13.4 617.7,19.5 617.9,14.4 618.1,20.8 618.3,15.8 618.5,20.3 618.7,14.3 618.9,19.6 619.1,23.4 619.3,57.6 619.5,44.4 619.7,35.5 619.9,15.4 620.1,25.5 620.3,15.6 620.5,21.1 620.7,14.2 620.9,20.5 621.1,15.5 621.3,21.5 621.5,24.7 621.7,22.3 621.9,15.1 622.1,27.7 622.3,24.3 622.5,22 622.7,13.7 622.9,44.2 623.1,35.4 623.3,29.5 623.5,14.7 623.7,28.2 623.9,24.6 624.1,22.3 624.3,15.4 624.5,19.6 624.7,15.1 624.9,19.8 625.1,24 625.3,21.9 625.5,15.6 625.7,36 625.9,29.9 626.1,25.8 626.3,15.2 626.5,21.2 626.7,16.2 626.9,24.5 627.1,24.8 627.3,22.4 627.5,14.4 627.7,19.7 627.9,14 628.1,19.3 628.3,15.9 628.5,26.7 628.7,23.7 628.9,21.7 629.1,14.5 629.3,38.8 629.5,31.8 629.7,27.1 629.9,25.2 630.1,22.7 630.3,14 630.5,20.7 630.7,15.6 630.9,19.7 631.1,15.5 631.3,25.7 631.5,26.2 631.7,23.4 631.9,16.3 632.1,54.3 632.3,42.2 632.5,34.1 632.7,15.8 632.9,25 633.1,15 633.3,20.9 633.5,14.4 633.7,21.7 633.9,14.8 634.1,24.6 634.3,22.3 634.5,20.7 634.7,33.3 634.9,28.1 635.1,16.2 635.3,26.3 635.5,23.4 635.7,21.5 635.9,23.3 636.1,21.4 636.3,14.5 636.5,19.4 636.7,15 636.9,20 637.1,15.2 637.3,19.8 637.5,24.4 637.7,22.2 637.9,14.1 638.1,19.9 638.3,14.7 638.5,18.5 638.7,14.6 638.9,20.4 639.1,15.1 639.3,19.7 639.5,28.2 639.7,24.7 639.9,14.7 640.1,20.8 640.3,48.4 640.5,38.2 640.7,14.8 640.9,26.9 641.1,25.9 641.3,23.1 641.5,15.3 641.7,20.3 641.9,16.1 642.1,20.1 642.3,15.6 642.5,23.6 642.7,21.6 642.9,20.3 643.1,25.2 643.3,22.7 643.5,26.8 643.7,23.7 643.9,21.5 644.1,37.8 644.3,31.1 644.5,26.7 644.7,15 644.9,21.7 645.1,25.2 645.3,22.7 645.5,14.9 645.7,24.3 645.9,22.1 646.1,20.6 646.3,16.1 646.5,19.2 646.7,35 646.9,29.3 647.1,23.6 647.3,22.8 647.5,15.5 647.7,19.9 647.9,15.4 648.1,19.9 648.3,13.5 648.5,20.5 648.7,14 648.9,19.1 649.1,13.6 649.3,34 649.5,28.6 649.7,24.9 649.9,15.2 650.1,22 650.3,16.8 650.5,20.6 650.7,16.8 650.9,20.8 651.1,24.1 651.3,21.9 651.5,15.5 651.7,21.7 651.9,14.3 652.1,21.1 652.3,15.9 652.5,20.5 652.7,15.9 652.9,21.3 653.1,26.7 653.3,23.7 653.5,14.5 653.7,20.3 653.9,14.8 654.1,19.1 654.3,15.6 654.5,19.7 654.7,13.7 654.9,19.7 655.1,14.6 655.3,28.4 655.5,24.8 655.7,22.4 655.9,15.7 656.1,20.3 656.3,14.3 656.5,21.1 656.7,24.3 656.9,22 657.1,13.6 657.3,20.7 657.5,14.9 657.7,18.8 657.9,16 658.1,20.8 658.3,15.5 658.5,20.4 658.7,15.6 658.9,21.3 659.1,15 659.3,20.5 659.5,64.3 659.7,48.8 659.9,17 660.1,31.5 660.3,16.2 660.5,23.8 660.7,16.4 660.9,20.3 661.1,14.4 661.3,21.6 661.5,14.9 661.7,23.4 661.9,21.4 662.1,20.1 662.3,15.9 662.5,25 662.7,22.5 662.9,20.8 663.1,15.1 663.3,20.8 663.5,16 663.7,20.9 663.9,14.8 664.1,20.6 664.3,14.1 664.5,21.1 664.7,14.2 664.9,20.9 665.1,27 665.3,23.8 665.5,13.5 665.7,20.3 665.9,14.9 666.1,20.2 666.3,14.3 666.5,19 666.7,13.9 666.9,25.4 667.1,22.7 667.3,21.3 667.5,14.7 667.7,45 667.9,35.9 668.1,29.7 668.3,21.6 668.5,27.6 668.7,24.2 668.9,21.9 669.1,12.8 669.3,19.3 669.5,14.6 669.7,20.8 669.9,15.4 670.1,20.3 670.3,14.4 670.5,19.3 670.7,26.1 670.9,23.1 671.1,14.2 671.3,20.5 671.5,14.4 671.7,20.2 671.9,15.3 672.1,19.6 672.3,14.3 672.5,19.3 672.7,13.6 672.9,20.3 673.1,14.8 673.3,20.4 673.5,24.8 673.7,22.3 673.9,13.8 674.1,46.6 674.3,36.9 674.5,30.4 674.7,14.8 674.9,23.1 675.1,14.6 675.3,19.8 675.5,15.5 675.7,19.3 675.9,15.4 676.1,22.6 676.3,20.8 676.5,19.6 676.7,35 676.9,29.1 677.1,14.4 677.3,22.5 677.5,12.7 677.7,19.8 677.9,14.3 678.1,23.4 678.3,21.3 678.5,19.9 678.7,12.6 678.9,19.5 679.1,12.3 679.3,18.6 679.5,27.8 679.7,24.2 679.9,26.8 680.1,23.6 680.3,12.9 680.5,19.9 680.7,13.9 680.9,20 681.1,13.1 681.3,20.6 681.5,27.2 681.7,23.8 681.9,15.1 682.1,20.5 682.3,13.9 682.5,20 682.7,13.3 682.9,18.9 683.1,14.4 683.3,19.4 683.5,14.5 683.7,19.5 683.9,27.8 684.1,32.4 684.3,27.3 684.5,23.9 684.7,14.5 684.9,20" fill="none" stroke="#333333" stroke-width="1.1" stroke-linejoin="round" stroke-linejoin="miter"/>
<path d="M448.2,17.9V43M451.3,17.2V34M456.4,17.3V26.5M462.3,17.4V26M470.7,17.5V52.8M474.7,17.6V27M478.3,17.6V37.8M479.2,17.6V41M482,17.6V35M483.4,17.6V34M492,17.6V28.7M494.4,17.5V33.3M498.4,17.5V55.7M501,17.5V38.8M504.8,17.4V37.8M508.4,17.3V41.5M510.3,17.3V34.2M515.4,17.2V63M519.4,17.1V29.6M526.7,16.9V36M531.2,16.8V42.4M538.5,16.6V29.6M540.4,16.6V74.3M543.1,16.6V41.5M545,16.5V40.6M551.3,16.5V26.5M554,16.4V38.8M560.4,16.4V47.9M564.6,16.4V34M568.2,16.4V34M571.9,16.4V48.8M575.5,16.5V36M579.2,16.5V36M584.6,16.6V40.6M595.6,16.9V33.3M603.8,17.1V35M606.5,17.1V54.3M610.2,17.2V47M612.9,17.3V62.5M616.6,17.3V32.4M619.3,17.4V57.6M623,17.5V44.2M625.7,17.5V36M629.3,17.5V38.8M632.1,17.6V54.3M634.8,17.6V33.3M640.3,17.6V48.4M644,17.6V37.8M646.7,17.6V35M649.4,17.6V34M659.5,17.4V64.3M667.7,17.3V45M674,17.1V46.6M676.8,17.1V35M684,16.9V32.4" stroke="#333333" stroke-width="1.2" fill="none"/>
<polyline points="444.5,85.4 444.7,80.5 444.9,93.3 445.1,89.9 445.3,87.7 445.5,79.9 445.7,84.4 445.9,78.4 446.1,85.3 446.3,80.8 446.5,85.6 446.7,80.7 446.9,87.7 447.1,80.8 447.3,87.2 447.5,92.6 447.7,89.6 447.9,93.4 448.1,90.1 448.3,79.6 448.5,87.2 448.7,79.7 448.9,108.8 449.1,100.5 449.3,94.9 449.5,89.1 449.7,88.7 449.9,80.8 450.1,86.4 450.3,79.5 450.5,94.7 450.7,91.1 450.9,88.7 451.1,80.1 451.3,86.5 451.5,79.5 451.7,93.3 451.9,90.2 452.1,86.3 452.3,79.4 452.5,84.7 452.7,77.8 452.9,84.6 453.1,78.4 453.3,85.5 453.5,78.1 453.7,84.8 453.9,79.6 454.1,85 454.3,79.4 454.5,86.4 454.7,120 454.9,107.3 455.1,77.9 455.3,93.2 455.5,78.4 455.7,86.8 455.9,77.3 456.1,83.2 456.3,77.3 456.5,83 456.7,89.1 456.9,86.7 457.1,78 457.3,86 457.5,76.3 457.7,84.6 457.9,77.3 458.1,85.7 458.3,77.1 458.5,83.3 458.7,78 458.9,85.6 459.1,77.1 459.3,83.7 459.5,77.1 459.7,85.4 459.9,78.9 460.1,83.4 460.3,77.5 460.5,84.9 460.7,76.9 460.9,84.5 461.1,79.8 461.3,84.7 461.5,79.2 461.7,84.2 461.9,79.4 462.1,85 462.3,77.7 462.5,84.7 462.7,89.1 462.9,86.7 463.1,79 463.3,89.5 463.5,87 463.7,87 463.9,79.1 464.1,86.3 464.3,78.2 464.5,85.1 464.7,79 464.9,87.4 465.1,78.2 465.3,86.2 465.5,79.2 465.7,86.3 465.9,77.8 466.1,85.1 466.3,78.3 466.5,85.7 466.7,88.6 466.9,86.4 467.1,78.7 467.3,83.5 467.5,77.2 467.7,92.5 467.9,91.6 468.1,88.4 468.3,79.7 468.5,86.2 468.7,80 468.9,85.7 469.1,78.6 469.3,84.1 469.5,78 469.7,85.9 469.9,77.3 470.1,92.4 470.3,88.9 470.5,86.6 470.7,77.4 470.9,84.9 471.1,88.9 471.3,86.6 471.5,79 471.7,84.8 471.9,77.1 472.1,84.9 472.3,77.3 472.5,136.2 472.7,118.3 472.9,106.2 473.1,79.1 473.3,92.8 473.5,79.2 473.7,86.7 473.9,80 474.1,83.9 474.3,79.3 474.5,84.7 474.7,78.5 474.9,87.2 475.1,79.5 475.3,86 475.5,79.1 475.7,97.8 475.9,92.5 476.1,88.9 476.3,77.8 476.5,84.9 476.7,80.4 476.9,85.5 477.1,79.1 477.3,85.6 477.5,77.8 477.7,83.9 477.9,80 478.1,84.9 478.3,77.7 478.5,83.8 478.7,106 478.9,97.9 479.1,91.6 479.3,88.8 479.5,80 479.7,85.3 479.9,78 480.1,84.7 480.3,77.3 480.5,83.4 480.7,78.6 480.9,103.3 481.1,96 481.3,91.1 481.5,79.6 481.7,85.8 481.9,78.7 482.1,85.1 482.3,76.9 482.5,84 482.7,79.1 482.9,84.8 483.1,76.7 483.3,84 483.5,76.7 483.7,86.1 483.9,77.5 484.1,110.6 484.3,100.8 484.5,94.2 484.7,76.6 484.9,92.6 485.1,88.7 485.3,86.1 485.5,77.8 485.7,89.5 485.9,86.6 486.1,84.7 486.3,78.5 486.5,84.8 486.7,75.5 486.9,82.8 487.1,75.7 487.3,83.6 487.5,76.9 487.7,84.8 487.9,78.4 488.1,83.2 488.3,107 488.5,98.2 488.7,77.4 488.9,88.4 489.1,77.3 489.3,84 489.5,76.3 489.7,85.5 489.9,77.8 490.1,84.8 490.3,76.3 490.5,83.1 490.7,77.6 490.9,87.8 491.1,85.3 491.3,83.8 491.5,75.4 491.7,81.7 491.9,76.3 492.1,87.5 492.3,85 492.5,83.4 492.7,76.2 492.9,82.8 493.1,76 493.3,84.3 493.5,75.4 493.7,82.9 493.9,75.7 494.1,81.4 494.3,77 494.5,83.6 494.7,74.8 494.9,82.6 495.1,75 495.3,82.8 495.5,76.7 495.7,84.4 495.9,75.2 496.1,82.9 496.3,74.5 496.5,84.1 496.7,100.6 496.9,93.7 497.1,90 497.3,90.1 497.5,86.6 497.7,84.3 497.9,76.1 498.1,82.3 498.3,76.4 498.5,83.3 498.7,76.1 498.9,82.6 499.1,75.6 499.3,83.2 499.5,89.9 499.7,86.4 499.9,145.3 500.1,123.6 500.3,74.8 500.5,99.2 500.7,90.2 500.9,88.2 501.1,75 501.3,83.3 501.5,76.9 501.7,82.7 501.9,75.6 502.1,81.3 502.3,74 502.5,82.4 502.7,76.6 502.9,81.8 503.1,85.7 503.3,83.5 503.5,77 503.7,81.4 503.9,94.2 504.1,89.2 504.3,85.5 504.5,83.6 504.7,76.4 504.9,81.6 505.1,74.4 505.3,87.4 505.5,84.7 505.7,82.8 505.9,73.9 506.1,80.1 506.3,90.8 506.5,86.9 506.7,76.6 506.9,82.6 507.1,73.4 507.3,82.6 507.5,76.6 507.7,80.3 507.9,73.7 508.1,83.1 508.3,76.6 508.5,83.5 508.7,74.8 508.9,82.2 509.1,76.9 509.3,81.4 509.5,77.1 509.7,82.7 509.9,77.9 510.1,83.4 510.3,75.7 510.5,83.1 510.7,75.4 510.9,81.5 511.1,74.7 511.3,82.6 511.5,76.2 511.7,119.4 511.9,106.1 512.1,97.2 512.3,85.5 512.5,90.1 512.7,86.5 512.9,84 513.1,76.4 513.3,82.3 513.5,76.7 513.7,82.2 513.9,77.4 514.1,83 514.3,77 514.5,90.3 514.7,86.6 514.9,84.1 515.1,76.1 515.3,82.6 515.5,74.8 515.7,90.5 515.9,86.8 516.1,84.3 516.3,76.4 516.5,82.9 516.7,75.9 516.9,82.1 517.1,75.9 517.3,82 517.5,77.2 517.7,81.8 517.9,76.2 518.1,82.8 518.3,74.9 518.5,83.8 518.7,75.9 518.9,82.7 519.1,77.8 519.3,84 519.5,77.6 519.7,82 519.9,77.3 520.1,83.5 520.3,125.2 520.5,110.1 520.7,75.5 520.9,93.2 521.1,78.5 521.3,85.7 521.5,78.7 521.7,83.3 521.9,77.6 522.1,82.9 522.3,76 522.5,86.6 522.7,84.3 522.9,85.3 523.1,78.7 523.3,82.8 523.5,77.4 523.7,82.8 523.9,88.7 524.1,85.7 524.3,76.3 524.5,82.5 524.7,87.7 524.9,85.1 525.1,87.3 525.3,84.8 525.5,77 525.7,81.5 525.9,75.9 526.1,82 526.3,77.4 526.5,81.7 526.7,76.6 526.9,82.2 527.1,76.7 527.3,83.9 527.5,77.6 527.7,82.6 527.9,89.6 528.1,86.5 528.3,75.1 528.5,83 528.7,77.5 528.9,82.3 529.1,76 529.3,81.8 529.5,75.4 529.7,84.8 529.9,86.8 530.1,84.6 530.3,88.9 530.5,86.1 530.7,75.8 530.9,83.7 531.1,75.8 531.3,84 531.5,78.2 531.7,82.7 531.9,76.8 532.1,82.9 532.3,76.5 532.5,84.8 532.7,78.2 532.9,95.1 533.1,90.3 533.3,87.2 533.5,77.8 533.7,83.7 533.9,77.6 534.1,82.5 534.3,77.5 534.5,82.4 534.7,87.9 534.9,85.6 535.1,78.5 535.3,82.9 535.5,77 535.7,91.6 535.9,89.3 536.1,86.5 536.3,76.6 536.5,84.6 536.7,77.6 536.9,84.9 537.1,76.5 537.3,83.5 537.5,88.5 537.7,86.1 537.9,77 538.1,85.5 538.3,78.2 538.5,83.8 538.7,77.8 538.9,82.6 539.1,78.7 539.3,82.7 539.5,91.4 539.7,88.1 539.9,77.7 540.1,85.2 540.3,75.9 540.5,84.7 540.7,78 540.9,84.5 541.1,90.7 541.3,87.7 541.5,75.9 541.7,85.6 541.9,76.7 542.1,83.3 542.3,76.7 542.5,83.6 542.7,79 542.9,83.7 543.1,79 543.3,85 543.5,77.3 543.7,84.4 543.9,78 544.1,94.2 544.3,90.1 544.5,87.3 544.7,78.6 544.9,86.4 545.1,78.7 545.3,84.4 545.5,78.5 545.7,85.2 545.9,79.3 546.1,84.5 546.3,78.8 546.5,84.8 546.7,90.6 546.9,87.7 547.1,76.7 547.3,84.5 547.5,77.9 547.7,82.7 547.9,79.2 548.1,88.5 548.3,86.3 548.5,84.9 548.7,77 548.9,84.9 549.1,76.6 549.3,83.5 549.5,79.2 549.7,93.5 549.9,90.5 550.1,87.7 550.3,78.9 550.5,87 550.7,79.8 550.9,85.5 551.1,76.7 551.3,85.8 551.5,79.1 551.7,88.9 551.9,86.6 552.1,86.2 552.3,78.4 552.5,84 552.7,77.5 552.9,86.5 553.1,79.6 553.3,83.2 553.5,77.8 553.7,86.1 553.9,78.6 554.1,84.6 554.3,78.6 554.5,84.9 554.7,79.3 554.9,86.1 555.1,77 555.3,84 555.5,79.5 555.7,84.8 555.9,77.8 556.1,83.9 556.3,79.7 556.5,83.7 556.7,78.7 556.9,84.2 557.1,79.3 557.3,84.1 557.5,77.2 557.7,83.8 557.9,79.9 558.1,84.8 558.3,79.2 558.5,85.6 558.7,78.9 558.9,86.7 559.1,77.7 559.3,85.6 559.5,80 559.7,84.6 559.9,79 560.1,86.8 560.3,77.6 560.5,84.1 560.7,78.6 560.9,86.8 561.1,78 561.3,90.4 561.5,91.2 561.7,88.1 561.9,80.4 562.1,84.8 562.3,77.6 562.5,85.5 562.7,77.1 562.9,83.2 563.1,78.2 563.3,85.1 563.5,79.6 563.7,84.4 563.9,79 564.1,84.3 564.3,76.2 564.5,83.9 564.7,76.2 564.9,84.1 565.1,77.6 565.3,85 565.5,77.4 565.7,85.1 565.9,77.2 566.1,84.4 566.3,78 566.5,85.2 566.7,77.3 566.9,84.3 567.1,90.8 567.3,88 567.5,80.1 567.7,84.9 567.9,80.1 568.1,86.7 568.3,78.6 568.5,87.3 568.7,78.9 568.9,86.2 569.1,80.7 569.3,87.4 569.5,79.2 569.7,86 569.9,80.1 570.1,86.9 570.3,81.7 570.5,87.4 570.7,80 570.9,85 571.1,80.8 571.3,85.8 571.5,124.3 571.7,110.8 571.9,78.2 572.1,95.6 572.3,91.6 572.5,88.9 572.7,78.8 572.9,87 573.1,78.4 573.3,85.6 573.5,78.9 573.7,86 573.9,79.1 574.1,87.7 574.3,81.9 574.5,85.9 574.7,91.4 574.9,88.8 575.1,79.3 575.3,86.4 575.5,81.9 575.7,88.3 575.9,79.6 576.1,87.5 576.3,80.6 576.5,88.3 576.7,81.3 576.9,87.1 577.1,78.7 577.3,85.3 577.5,80.4 577.7,88.2 577.9,81 578.1,86.8 578.3,91.8 578.5,88.9 578.7,81.6 578.9,87 579.1,94.8 579.3,90.9 579.5,81.4 579.7,93.3 579.9,89.9 580.1,87.5 580.3,94.2 580.5,90.4 580.7,77.6 580.9,90 581.1,87.5 581.3,86.9 581.5,78 581.7,86.6 581.9,78.1 582.1,85.6 582.3,90.8 582.5,87.9 582.7,93.7 582.9,89.9 583.1,79.2 583.3,85.5 583.5,79.8 583.7,86.1 583.9,78.5 584.1,84.2 584.3,77.3 584.5,84.4 584.7,76.7 584.9,83.6 585.1,76.8 585.3,84.7 585.5,88.9 585.7,86.3 585.9,87.6 586.1,85.4 586.3,78.2 586.5,93.3 586.7,89.1 586.9,86.2 587.1,78.5 587.3,82.9 587.5,74.8 587.7,83 587.9,75.8 588.1,83 588.3,75.3 588.5,81.8 588.7,75.4 588.9,86.1 589.1,83.9 589.3,82.4 589.5,90.8 589.7,87 589.9,90.7 590.1,86.9 590.3,74.5 590.5,82.6 590.7,76.4 590.9,83.3 591.1,74.3 591.3,83.6 591.5,87.7 591.7,84.9 591.9,74.2 592.1,83.5 592.3,76.8 592.5,86.6 592.7,84.2 592.9,82.5 593.1,76.8 593.3,83.1 593.5,75.3 593.7,81.6 593.9,75.1 594.1,83.3 594.3,76.7 594.5,82.7 594.7,74.9 594.9,88.5 595.1,85.4 595.3,83.3 595.5,75.2 595.7,82.3 595.9,74.9 596.1,80.6 596.3,75.5 596.5,80.3 596.7,74 596.9,83.5 597.1,74.8 597.3,82.6 597.5,75.3 597.7,82.1 597.9,74.7 598.1,81 598.3,74.5 598.5,83.6 598.7,77.6 598.9,82.9 599.1,75.5 599.3,81.3 599.5,77.3 599.7,83.7 599.9,76.2 600.1,82.3 600.3,75.6 600.5,83.1 600.7,76.3 600.9,106.6 601.1,97.5 601.3,91.4 601.5,74 601.7,84.5 601.9,74.3 602.1,82.6 602.3,75.1 602.5,83.7 602.7,75.5 602.9,82.5 603.1,76 603.3,80.8 603.5,74.2 603.7,82.8 603.9,77 604.1,82.9 604.3,76.9 604.5,87.2 604.7,84.4 604.9,82.6 605.1,76.4 605.3,82.4 605.5,73.9 605.7,83 605.9,77 606.1,82.3 606.3,77.3 606.5,84 606.7,76.8 606.9,82.1 607.1,76.9 607.3,81 607.5,75.8 607.7,81.1 607.9,74.4 608.1,81.3 608.3,74.5 608.5,81.5 608.7,75.3 608.9,80.5 609.1,85.7 609.3,83.5 609.5,76.5 609.7,82.9 609.9,75.7 610.1,82.1 610.3,75 610.5,82.2 610.7,103.7 610.9,95.6 611.1,77.8 611.3,86.5 611.5,76 611.7,87.6 611.9,84.8 612.1,82.9 612.3,75.1 612.5,81.7 612.7,88 612.9,87.6 613.1,84.8 613.3,83 613.5,77.5 613.7,84 613.9,77.3 614.1,83.7 614.3,77.4 614.5,83.1 614.7,95 614.9,89.8 615.1,75.5 615.3,84 615.5,75.9 615.7,83.6 615.9,76.1 616.1,82 616.3,74.6 616.5,83 616.7,75.8 616.9,81.7 617.1,74.7 617.3,80.9 617.5,116.5 617.7,104.3 617.9,86.8 618.1,90.6 618.3,75.6 618.5,84.4 618.7,74.9 618.9,84.4 619.1,75.9 619.3,84.4 619.5,90 619.7,86.5 619.9,76.2 620.1,82.7 620.3,106 620.5,97.3 620.7,78 620.9,87.5 621.1,76.1 621.3,83.2 621.5,74.7 621.7,81.9 621.9,77 622.1,84.3 622.3,77.2 622.5,81.6 622.7,90.1 622.9,86.7 623.1,77.3 623.3,83.4 623.5,75.2 623.7,83.2 623.9,75 624.1,84.3 624.3,88.4 624.5,85.6 624.7,75.6 624.9,84.1 625.1,76.6 625.3,81.9 625.5,75.8 625.7,82.5 625.9,77.6 626.1,82.7 626.3,76.8 626.5,81.7 626.7,104.2 626.9,96.2 627.1,76.9 627.3,87.3 627.5,77 627.7,83.3 627.9,76.7 628.1,83.8 628.3,75.2 628.5,82.3 628.7,74.9 628.9,82.8 629.1,77.8 629.3,83.5 629.5,76.4 629.7,84.2 629.9,77.6 630.1,84.4 630.3,77.1 630.5,83.3 630.7,77.1 630.9,84.8 631.1,77.7 631.3,112 631.5,101.5 631.7,94.5 631.9,90 632.1,86.8 632.3,76.6 632.5,84 632.7,88.7 632.9,85.9 633.1,75.5 633.3,83.8 633.5,76.1 633.7,84.4 633.9,90.5 634.1,87.2 634.3,77.2 634.5,84.1 634.7,75.3 634.9,81.7 635.1,75.2 635.3,83.7 635.5,76.5 635.7,81.9 635.9,76.3 636.1,84.7 636.3,92.4 636.5,88.5 636.7,75.6 636.9,84 637.1,76.5 637.3,82.5 637.5,75.5 637.7,83.3 637.9,76.6 638.1,82.5 638.3,77.5 638.5,83.1 638.7,88.3 638.9,85.7 639.1,76.9 639.3,83.1 639.5,77.1 639.7,83.7 639.9,78.2 640.1,82.6 640.3,76.6 640.5,84 640.7,90.6 640.9,87.3 641.1,76.3 641.3,83.5 641.5,76.9 641.7,83.9 641.9,76.4 642.1,84.2 642.3,77.9 642.5,82.8 642.7,78 642.9,102.4 643.1,95.2 643.3,90.3 643.5,89.8 643.7,86.7 643.9,76 644.1,83.3 644.3,76.3 644.5,82.7 644.7,78.2 644.9,83.3 645.1,75.8 645.3,83.5 645.5,86.9 645.7,89.5 645.9,86.5 646.1,84.5 646.3,75.6 646.5,85 646.7,77.4 646.9,84.1 647.1,76.2 647.3,82.7 647.5,78.3 647.7,82.6 647.9,76.4 648.1,82.7 648.3,92 648.5,88.2 648.7,76.2 648.9,84.3 649.1,76.2 649.3,85.2 649.5,77.5 649.7,85.3 649.9,77.2 650.1,88.8 650.3,86 650.5,84.6 650.7,75.8 650.9,90.1 651.1,86.9 651.3,84.7 651.5,75.5 651.7,83.9 651.9,75.6 652.1,82 652.3,76.9 652.5,84.9 652.7,76.7 652.9,83.2 653.1,75.7 653.3,84.5 653.5,76.9 653.7,82.2 653.9,89.9 654.1,86.7 654.3,75.4 654.5,83.2 654.7,75.7 654.9,82.8 655.1,77.4 655.3,81.8 655.5,87.1 655.7,84.8 655.9,76.5 656.1,83.6 656.3,76.3 656.5,84.7 656.7,77.1 656.9,83.1 657.1,88.9 657.3,86 657.5,77.1 657.7,101.5 657.9,94.4 658.1,89.6 658.3,76.9 658.5,84.2 658.7,75.7 658.9,89.1 659.1,86 659.3,84 659.5,87.1 659.7,84.7 659.9,76 660.1,82.4 660.3,77.3 660.5,84.4 660.7,76.6 660.9,84.8 661.1,76.8 661.3,81.9 661.5,77 661.7,89.6 661.9,86.3 662.1,84.3 662.3,76 662.5,81.8 662.7,77.1 662.9,83.9 663.1,76 663.3,80.7 663.5,77 663.7,82.4 663.9,76 664.1,81.4 664.3,93.3 664.5,88.7 664.7,74.4 664.9,83.6 665.1,75.7 665.3,82.6 665.5,75.6 665.7,82.1 665.9,75.6 666.1,83.5 666.3,75.8 666.5,81.9 666.7,75 666.9,88.1 667.1,85.2 667.3,83.2 667.5,76.4 667.7,81.7 667.9,75.4 668.1,82.5 668.3,75.3 668.5,81.8 668.7,74.9 668.9,83.5 669.1,77 669.3,82.1 669.5,76.5 669.7,81.3 669.9,75 670.1,81 670.3,75.5 670.5,83.8 670.7,74.4 670.9,83.1 671.1,75.2 671.3,81.2 671.5,74.9 671.7,83.3 671.9,74.8 672.1,81.3 672.3,74.2 672.5,87.5 672.7,84.7 672.9,82.8 673.1,75.8 673.3,81.8 673.5,74.7 673.7,82.1 673.9,75.7 674.1,82 674.3,74.4 674.5,81.5 674.7,74 674.9,88.2 675.1,85.1 675.3,90.7 675.5,86.8 675.7,84.2 675.9,74.7 676.1,83.3 676.3,74.9 676.5,83.1 676.7,74.4 676.9,81.3 677.1,76.5 677.3,82.5 677.5,74 677.7,139.5 677.9,119.5 678.1,106.1 678.3,75.9 678.5,91.1 678.7,74.2 678.9,84.4 679.1,76.5 679.3,82.2 679.5,75.2 679.7,81.8 679.9,73.6 680.1,80.6 680.3,75.9 680.5,89.6 680.7,86 680.9,83.7 681.1,74.9 681.3,82.1 681.5,75.3 681.7,79.2 681.9,74.9 682.1,79.4 682.3,75.4 682.5,79.6 682.7,73.4 682.9,81.1 683.1,86.1 683.3,90.1 683.5,86.4 683.7,83.9 683.9,76.6 684.1,83.4 684.3,76.6 684.5,89.8 684.7,86.2 684.9,83.8" fill="none" stroke="#ae84fc" stroke-width="1.2" stroke-linejoin="round" stroke-linejoin="miter"/>
<path d="M448.8,83.5V108.8M454.6,81.5V120M470.1,81.9V92.4M472.5,81.8V136.2M475.6,81.7V97.8M478.7,81.4V106M481,81.2V103.3M484.2,80.9V110.6M488.4,80.5V107M496.6,79.6V100.6M499.9,79.4V145.3M503.9,79.1V94.2M511.7,79V119.4M515.7,79.1V90.5M520.3,79.4V125.2M533,80.6V95.1M544,81.6V94.2M571.5,83.2V124.3M579.7,83V93.3M586.5,80.8V93.3M601,79V106.6M610.7,79V103.7M614.7,79.2V95M617.5,79.3V116.5M620.2,79.5V106M626.6,79.9V104.2M631.2,80.2V112M636.3,80.4V92.4M643,80.5V102.4M657.6,79.9V101.5M664.4,79.4V93.3M677.7,78.9V139.5" stroke="#ae84fc" stroke-width="1.2" fill="none"/>
<polyline points="427.8,89.4 427.8,125.8 466.8,125.8" fill="none" stroke="#000" stroke-width="3"/>
<text x="431.6" y="140.4" font-size="16" text-anchor="start" font-weight="normal" font-style="normal" fill="#000">1sec</text>
<text x="423.1" y="110.4" font-size="16" text-anchor="middle" font-weight="normal" font-style="normal" fill="#000" transform="rotate(-90 423.1 110.4)">50pA</text>
<polyline points="444,373.6 444.2,367.9 444.4,378.1 444.6,375.5 444.8,373.7 445,365.9 445.2,372.1 445.4,366.3 445.6,372 445.8,366.9 446,371.2 446.2,367.6 446.4,372 446.6,366.2 446.8,373.8 447,368.2 447.2,369.2 447.4,364.3 447.6,371.6 447.8,363.5 448,373.7 448.2,371.7 448.4,370.4 448.6,365.7 448.8,371.5 449,364.6 449.2,370 449.4,365.9 449.6,369.1 449.8,364.8 450,370.8 450.2,363.8 450.4,370.4 450.6,373.7 450.8,371.7 451,364.9 451.2,369 451.4,375.3 451.6,372.8 451.8,362.4 452,370 452.2,363.4 452.4,370.1 452.6,364.3 452.8,369.9 453,363.9 453.2,369.8 453.4,365.3 453.6,370.3 453.8,374.8 454,409.6 454.2,395.8 454.4,386.5 454.6,365 454.8,376.2 455,366.2 455.2,372.2 455.4,366.7 455.6,375.7 455.8,373.1 456,371.3 456.2,365.6 456.4,369.7 456.6,366.1 456.8,369.2 457,365.6 457.2,369.9 457.4,366.5 457.6,372.4 457.8,365.2 458,371.1 458.2,366.6 458.4,370 458.6,364.1 458.8,370.8 459,365.4 459.2,371.7 459.4,365 459.6,371.8 459.8,365.3 460,370.9 460.2,364.8 460.4,371.1 460.6,363.1 460.8,369.4 461,364.8 461.2,371 461.4,378.9 461.6,375.2 461.8,365 462,371.1 462.2,364.6 462.4,368.7 462.6,365.6 462.8,369.2 463,375 463.2,372.6 463.4,365.2 463.6,370.7 463.8,399 464,388.7 464.2,364.5 464.4,377.2 464.6,365.4 464.8,372 465,366.5 465.2,370.2 465.4,376.4 465.6,373.5 465.8,365.6 466,378.9 466.2,375.2 466.4,372.8 466.6,364.9 466.8,370 467,365.6 467.2,370.2 467.4,364.7 467.6,370.2 467.8,365.2 468,373.7 468.2,375.5 468.4,373 468.6,365.6 468.8,370.9 469,365 469.2,376.6 469.4,373.6 469.6,371.7 469.8,366.1 470,371.4 470.2,375.8 470.4,373.2 470.6,371.4 470.8,373.5 471,371.6 471.2,370.8 471.4,364.6 471.6,394.7 471.8,385.8 472,379.8 472.2,372.8 472.4,376.3 472.6,373.4 472.8,371.6 473,365.4 473.2,370.5 473.4,366 473.6,372.1 473.8,364.1 474,369.8 474.2,365.7 474.4,371.7 474.6,365.5 474.8,369.4 475,373.2 475.2,376.8 475.4,373.8 475.6,371.8 475.8,363.4 476,369.7 476.2,363.9 476.4,370.8 476.6,364 476.8,370 477,365.3 477.2,370.6 477.4,365.4 477.6,369.6 477.8,365.4 478,370.9 478.2,364.8 478.4,373.5 478.6,371.5 478.8,370.2 479,365.9 479.2,370.3 479.4,364.1 479.6,369.9 479.8,363.8 480,387.3 480.2,380.8 480.4,376.4 480.6,365.3 480.8,371.5 481,365.6 481.2,369.5 481.4,375 481.6,373.2 481.8,371.4 482,370.1 482.2,363.9 482.4,371 482.6,375.7 482.8,373 483,364.2 483.2,370.4 483.4,363.9 483.6,369.9 483.8,364.6 484,369.9 484.2,366 484.4,371.9 484.6,365.4 484.8,372.1 485,373.9 485.2,393.7 485.4,385 485.6,379.2 485.8,365.7 486,372.7 486.2,365.8 486.4,371.5 486.6,364.1 486.8,370.7 487,366.1 487.2,370.4 487.4,365.7 487.6,370.4 487.8,365 488,370 488.2,364 488.4,413.8 488.6,398.5 488.8,388.2 489,363.5 489.2,376.7 489.4,364.8 489.6,373.1 489.8,371.2 490,371.7 490.2,365 490.4,370.1 490.6,365.9 490.8,371.9 491,365.1 491.2,369.8 491.4,375.1 491.6,373 491.8,374.7 492,372.2 492.2,365.8 492.4,372.4 492.6,373.2 492.8,371.3 493,365.7 493.2,387.3 493.4,380.7 493.6,376.2 493.8,364.5 494,371.3 494.2,366.4 494.4,371.2 494.6,363.7 494.8,397.9 495,387.8 495.2,381 495.4,364 495.6,373.3 495.8,366.1 496,370.3 496.2,365.2 496.4,371.1 496.6,363.8 496.8,370.5 497,365.5 497.2,370.8 497.4,364.8 497.6,371 497.8,365.7 498,370.1 498.2,363.8 498.4,370.2 498.6,364.5 498.8,369.1 499,365.3 499.2,368.7 499.4,363.6 499.6,370.6 499.8,364.4 500,370.8 500.2,364.4 500.4,369.2 500.6,365.1 500.8,369.7 501,366.2 501.2,370.2 501.4,363.5 501.6,371.1 501.8,365.4 502,370.4 502.2,365.7 502.4,368.9 502.6,364.8 502.8,368.7 503,364.9 503.2,368.6 503.4,364.7 503.6,369.1 503.8,362.2 504,372.2 504.2,370.4 504.4,369.2 504.6,365 504.8,370.8 505,364 505.2,368.5 505.4,363.5 505.6,368.4 505.8,375.9 506,372.9 506.2,363 506.4,369.6 506.6,363.7 506.8,368.3 507,363.9 507.2,369.7 507.4,364.3 507.6,369.7 507.8,362.6 508,403.2 508.2,391.2 508.4,383.1 508.6,363.6 508.8,374 509,363.9 509.2,369.9 509.4,365.5 509.6,370.1 509.8,363.9 510,369.2 510.2,363 510.4,370 510.6,363.3 510.8,368.9 511,363.4 511.2,389.5 511.4,381.9 511.6,376.8 511.8,364.8 512,371.2 512.2,361.6 512.4,369.7 512.6,362.7 512.8,369.1 513,362 513.2,387.3 513.4,380.4 513.6,375.8 513.8,374.7 514,372 514.2,363.3 514.4,368.9 514.6,363.9 514.8,369.6 515,364.2 515.2,369.5 515.4,363.8 515.6,368.4 515.8,362.6 516,373.6 516.2,371.2 516.4,370 516.6,364.3 516.8,383 517,377.5 517.2,373.8 517.4,364.4 517.6,369.7 517.8,363.3 518,369.4 518.2,363.3 518.4,369.3 518.6,363.8 518.8,369 519,362.5 519.2,369.3 519.4,363.4 519.6,368.2 519.8,363.9 520,369 520.2,361.3 520.4,368.7 520.6,361.5 520.8,391.6 521,383.2 521.2,377.6 521.4,363.4 521.6,371.3 521.8,362.6 522,369.3 522.2,362 522.4,367.9 522.6,362.2 522.8,370 523,363.1 523.2,369.7 523.4,362.3 523.6,369.2 523.8,364.9 524,369 524.2,364 524.4,374.4 524.6,371.6 524.8,374.6 525,371.8 525.2,369.9 525.4,363 525.6,370 525.8,363.5 526,369.3 526.2,364.1 526.4,369.7 526.6,363.6 526.8,368.4 527,363.7 527.2,367.8 527.4,362.9 527.6,373 527.8,370.7 528,371.6 528.2,369.8 528.4,369.2 528.6,362.2 528.8,369.3 529,372.8 529.2,370.6 529.4,362.7 529.6,368.2 529.8,363.1 530,369.7 530.2,362.2 530.4,368.3 530.6,363.6 530.8,369.9 531,363.8 531.2,369 531.4,364.8 531.6,369.8 531.8,362.8 532,368.9 532.2,374.6 532.4,371.7 532.6,373.5 532.8,371 533,363.1 533.2,369.3 533.4,363.6 533.6,369.7 533.8,363.1 534,370.2 534.2,363.6 534.4,369.1 534.6,362.1 534.8,369.9 535,363.9 535.2,368 535.4,363.2 535.6,367.6 535.8,363.7 536,369.6 536.2,362.5 536.4,373.6 536.6,372.7 536.8,370.4 537,362.6 537.2,367.9 537.4,363.3 537.6,369.2 537.8,372.9 538,370.5 538.2,373.9 538.4,371.2 538.6,363.4 538.8,368.2 539,374.2 539.2,371.4 539.4,362.6 539.6,369 539.8,363.3 540,369.5 540.2,363.6 540.4,368.6 540.6,363.5 540.8,367.8 541,362.8 541.2,368.1 541.4,362.5 541.6,370.2 541.8,362.2 542,367.6 542.2,371.5 542.4,369.6 542.6,362.4 542.8,369.2 543,362 543.2,369.1 543.4,363.5 543.6,368.3 543.8,362.6 544,369.3 544.2,362.2 544.4,367.8 544.6,363.4 544.8,367 545,363.5 545.2,368 545.4,362.1 545.6,369.5 545.8,362.2 546,374.7 546.2,371.7 546.4,369.7 546.6,361.8 546.8,367.5 547,361.9 547.2,368.1 547.4,362.4 547.6,368.3 547.8,363.3 548,368.2 548.2,363.7 548.4,367.8 548.6,362.5 548.8,371.5 549,369.6 549.2,368.9 549.4,362 549.6,396.2 549.8,386.1 550,379.4 550.2,364.4 550.4,371.9 550.6,364.3 550.8,369.5 551,363.3 551.2,368.3 551.4,364.8 551.6,369.7 551.8,364.1 552,368.2 552.2,363.2 552.4,368.7 552.6,364.2 552.8,367.7 553,361.3 553.2,368.6 553.4,363.4 553.6,367.3 553.8,362.9 554,367.7 554.2,360.9 554.4,367.7 554.6,362.9 554.8,368.3 555,362.7 555.2,367.3 555.4,361.6 555.6,414.4 555.8,398.4 556,387.6 556.2,362.5 556.4,375.5 556.6,361.5 556.8,370.1 557,363.2 557.2,368.8 557.4,362.3 557.6,368.6 557.8,362 558,368.7 558.2,362.5 558.4,369.3 558.6,364 558.8,368.8 559,364.2 559.2,368 559.4,363.1 559.6,371.8 559.8,369.8 560,368.5 560.2,374.4 560.4,371.5 560.6,364 560.8,370.3 561,374 561.2,371.3 561.4,362.8 561.6,368.8 561.8,363.9 562,368.9 562.2,362.9 562.4,370.1 562.6,365.4 562.8,368.9 563,364.3 563.2,369.8 563.4,363.6 563.6,371.5 563.8,369.6 564,368.3 564.2,422.9 564.4,404.1 564.6,364 564.8,383 565,364.5 565.2,373.5 565.4,362.5 565.6,369.3 565.8,363.2 566,368.2 566.2,373.3 566.4,370.9 566.6,364.7 566.8,368.1 567,365 567.2,368.5 567.4,363.7 567.6,370.3 567.8,364.7 568,368.7 568.2,364.7 568.4,369.7 568.6,362.4 568.8,369.3 569,371.3 569.2,369.5 569.4,363.7 569.6,367.5 569.8,362.6 570,367.7 570.2,374 570.4,371.3 570.6,362.1 570.8,368.4 571,363.3 571.2,367.8 571.4,362.6 571.6,368.1 571.8,363.6 572,367.5 572.2,361.9 572.4,367.4 572.6,363.3 572.8,367.1 573,362.1 573.2,369.2 573.4,363.1 573.6,367.7 573.8,363.6 574,372.3 574.2,370.2 574.4,368.8 574.6,372.2 574.8,370.1 575,364.6 575.2,368.2 575.4,363.1 575.6,368.6 575.8,372.4 576,370.2 576.2,363.5 576.4,370 576.6,363.8 576.8,367.8 577,364.6 577.2,372.1 577.4,370.1 577.6,369.3 577.8,364.5 578,369.4 578.2,363.7 578.4,368.8 578.6,363.8 578.8,370 579,364.1 579.2,373.2 579.4,370.8 579.6,370.5 579.8,364 580,369 580.2,392.6 580.4,383.8 580.6,363.8 580.8,374 581,362.7 581.2,369.6 581.4,371.8 581.6,369.9 581.8,362.1 582,367.6 582.2,362.6 582.4,368.8 582.6,363.6 582.8,368.4 583,361.6 583.2,366.9 583.4,378.9 583.6,374.6 583.8,372.3 584,370.2 584.2,363.2 584.4,369.2 584.6,363.2 584.8,367.9 585,364 585.2,368 585.4,372.1 585.6,370.1 585.8,364.7 586,368 586.2,364.3 586.4,368.8 586.6,364 586.8,367.9 587,364.7 587.2,368.9 587.4,364.3 587.6,368.7 587.8,362.3 588,367.5 588.2,408 588.4,394.1 588.6,364.3 588.8,378.6 589,363.8 589.2,371.7 589.4,363.5 589.6,368.5 589.8,364.1 590,368.3 590.2,363.2 590.4,368.8 590.6,362.1 590.8,369.4 591,361.9 591.2,368.4 591.4,364.1 591.6,369.6 591.8,364 592,369.6 592.2,362.4 592.4,367.8 592.6,363.5 592.8,369 593,363.3 593.2,369.6 593.4,364.4 593.6,368.8 593.8,374.4 594,371.6 594.2,362.4 594.4,369.7 594.6,363.9 594.8,369.1 595,364 595.2,369.4 595.4,363.5 595.6,367.9 595.8,362.5 596,374.3 596.2,371.5 596.4,369.7 596.6,361.4 596.8,368 597,363.5 597.2,369.6 597.4,361.8 597.6,369.8 597.8,362.1 598,369.3 598.2,364.5 598.4,369.2 598.6,361.7 598.8,368.1 599,364 599.2,381 599.4,376 599.6,372.7 599.8,364.7 600,369.1 600.2,363.8 600.4,369.7 600.6,363 600.8,368.4 601,364.3 601.2,367.8 601.4,362.9 601.6,369.4 601.8,363.7 602,369.6 602.2,363.9 602.4,383.1 602.6,377.4 602.8,373.6 603,363.4 603.2,369.3 603.4,363 603.6,368.9 603.8,362.2 604,368.7 604.2,391.1 604.4,382.8 604.6,363.6 604.8,373.4 605,371 605.2,369.3 605.4,362 605.6,368.5 605.8,363.5 606,367.7 606.2,362.3 606.4,368.1 606.6,362.1 606.8,369.3 607,362.5 607.2,368.7 607.4,362.4 607.6,369.2 607.8,362.4 608,369.4 608.2,372.4 608.4,370.2 608.6,373.1 608.8,370.7 609,362.9 609.2,368 609.4,364.1 609.6,369.2 609.8,363.4 610,369.5 610.2,363.1 610.4,372.6 610.6,370.3 610.8,369.2 611,364.7 611.2,370.1 611.4,364.7 611.6,369.1 611.8,362.5 612,372.5 612.2,370.3 612.4,368.7 612.6,363.7 612.8,369.6 613,362 613.2,368.8 613.4,363.5 613.6,367.4 613.8,361.6 614,367.2 614.2,361.6 614.4,367.6 614.6,373.8 614.8,371.1 615,362.3 615.2,373.8 615.4,371.1 615.6,371.5 615.8,383.1 616,377.3 616.2,361.9 616.4,370.8 616.6,361.3 616.8,369.5 617,362.6 617.2,369.6 617.4,361.6 617.6,370.8 617.8,369.1 618,367.9 618.2,363.3 618.4,368.9 618.6,362.3 618.8,367.9 619,363.2 619.2,368 619.4,362 619.6,368.2 619.8,362.1 620,406 620.2,392.6 620.4,383.6 620.6,362.2 620.8,373.6 621,363.2 621.2,369.1 621.4,361.5 621.6,367.3 621.8,361.3 622,367.8 622.2,362.2 622.4,367.8 622.6,362.3 622.8,369 623,361.6 623.2,368.2 623.4,363.6 623.6,369.3 623.8,364.3 624,368.9 624.2,364.3 624.4,369.7 624.6,371.6 624.8,369.5 625,370.7 625.2,368.9 625.4,363.7 625.6,369.5 625.8,364.3 626,368.1 626.2,364.2 626.4,368.6 626.6,362.4 626.8,367.4 627,372.8 627.2,370.2 627.4,362.7 627.6,368.2 627.8,363.5 628,370.7 628.2,368.8 628.4,369.4 628.6,363.2 628.8,369.5 629,363.6 629.2,390.5 629.4,382.1 629.6,376.5 629.8,362.9 630,370.2 630.2,362.6 630.4,372.4 630.6,370 630.8,368.3 631,363.3 631.2,368.9 631.4,363.5 631.6,368.6 631.8,361.7 632,366.4 632.2,362.3 632.4,367.7 632.6,361.5 632.8,372.3 633,369.8 633.2,368.2 633.4,362.5 633.6,368 633.8,361.4 634,367.3 634.2,363.4 634.4,368.5 634.6,362.4 634.8,368.1 635,363.1 635.2,369.8 635.4,364.3 635.6,367.4 635.8,363.5 636,368.6 636.2,363.2 636.4,367.5 636.6,362 636.8,367.7 637,362.4 637.2,368.6 637.4,362.1 637.6,366.2 637.8,372.5 638,369.9 638.2,362.7 638.4,367.5 638.6,370 638.8,368.2 639,360.5 639.2,367.4 639.4,362.1 639.6,366.7 639.8,362.7 640,371.9 640.2,369.5 640.4,367.9 640.6,371.6 640.8,369.3 641,362.5 641.2,368 641.4,360.6 641.6,403.8 641.8,390.9 642,382.2 642.2,361.9 642.4,372.5 642.6,362.8 642.8,368.1 643,362.6 643.2,366.9 643.4,361.5 643.6,366.5 643.8,362 644,368.1 644.2,361.7 644.4,368.4 644.6,362.3 644.8,366.7 645,360.9 645.2,365.9 645.4,360.1 645.6,366.5 645.8,360.5 646,372.2 646.2,369.6 646.4,367.9 646.6,361.6 646.8,405.3 647,391.8 647.2,382.8 647.4,363 647.6,372.7 647.8,372.5 648,369.8 648.2,360.8 648.4,368.4 648.6,363 648.8,366.8 649,371.9 649.2,369.4 649.4,362.6 649.6,369.1 649.8,361.8 650,368.5 650.2,363.7 650.4,368.4 650.6,361.1 650.8,368.9 651,361.7 651.2,389.5 651.4,381.2 651.6,375.6 651.8,369.8 652,369.4 652.2,361.3 652.4,367.7 652.6,362 652.8,366.9 653,360.9 653.2,366.9 653.4,362 653.6,366.6 653.8,360.2 654,365.4 654.2,386.3 654.4,379 654.6,361.3 654.8,370.9 655,360.8 655.2,367.2 655.4,371.3 655.6,369 655.8,359.9 656,366.3 656.2,361.4 656.4,365.9 656.6,359.6 656.8,370.9 657,368.7 657.2,367.2 657.4,360.6 657.6,367.4 657.8,361.4 658,366.1 658.2,361.7 658.4,366.8 658.6,362.3 658.8,366.1 659,372.1 659.2,370.1 659.4,368.1 659.6,371.5 659.8,369.1 660,367.4 660.2,361.7 660.4,367 660.6,362 660.8,379.9 661,374.7 661.2,371.2 661.4,359.2 661.6,367.3 661.8,359.7 662,365.2 662.2,360.6 662.4,366.9 662.6,359.7 662.8,365.5 663,359.7 663.2,364.9 663.4,361 663.6,367.7 663.8,360.3 664,366.5 664.2,361.5 664.4,390.5 664.6,381.8 664.8,375.9 665,362.2 665.2,369.4 665.4,360.6 665.6,366.4 665.8,360.2 666,368 666.2,361.4 666.4,366.3 666.6,361.6 666.8,367.1 667,361.2 667.2,367.1 667.4,360.5 667.6,366.7 667.8,360.3 668,367 668.2,369.2 668.4,367.5 668.6,361 668.8,367.7 669,361.9 669.2,367.8 669.4,362 669.6,367.2 669.8,361.3 670,366.3 670.2,359.8 670.4,365.2 670.6,360.6 670.8,364.8 671,359.1 671.2,388.4 671.4,380.3 671.6,374.9 671.8,370 672,368.9 672.2,360.4 672.4,366.6 672.6,360.1 672.8,373.6 673,370.4 673.2,368.3 673.4,371.4 673.6,369 673.8,359.7 674,366.2 674.2,361.1 674.4,365.2 674.6,361.7 674.8,366.7 675,361.3 675.2,365.2 675.4,359.6 675.6,366.1 675.8,361.4 676,367.1 676.2,372.8 676.4,369.9 676.6,361.2 676.8,367.8 677,361.7 677.2,402.2 677.4,389.6 677.6,381.1 677.8,361.8 678,371.7 678.2,369.5 678.4,367.7 678.6,360.8 678.8,366 679,359.8 679.2,365.6 679.4,361.6 679.6,366.1 679.8,369.2 680,367.5 680.2,361.2 680.4,367.8 680.6,360.3 680.8,365.3 681,359.9 681.2,367.3 681.4,359.7 681.6,371.4 681.8,368.9 682,367.3 682.2,360.9 682.4,365.6 682.6,360.6 682.8,366.2 683,360.1 683.2,365.7 683.4,361.8 683.6,364.7 683.8,360.9 684,367.5 684.2,360.6 684.4,366.2 684.6,360.3 684.8,368 685,369.6" fill="none" stroke="#333333" stroke-width="1.1" stroke-linejoin="round" stroke-linejoin="miter"/>
<path d="M454,367.7V409.6M455.5,367.7V375.7M461.4,367.7V378.9M463.9,367.7V399M466,367.7V378.9M471.5,367.7V394.7M475.1,367.7V376.8M480,367.6V387.3M482.6,367.5V375.7M485.1,367.5V393.7M488.5,367.4V413.8M493.1,367.2V387.3M494.8,367.2V397.9M508,366.7V403.2M511.1,366.6V389.5M513.3,366.5V387.3M516.8,366.3V383M520.7,366.2V391.6M524.9,366.1V374.6M532.3,365.9V374.6M536.5,365.8V373.6M549.5,365.7V396.2M555.5,365.7V414.4M564.3,365.8V422.9M580.2,365.9V392.6M583.4,366V378.9M588.3,366V408M599.3,365.9V381M602.4,365.9V383.1M604.1,365.9V391.1M615.8,365.6V383.1M620,365.4V406M629.3,365.1V390.5M641.6,364.6V403.8M646.9,364.4V405.3M651.1,364.3V389.5M654.3,364.2V386.3M660.7,364.1V379.9M664.5,364V390.5M671.2,364V388.4M672.9,363.9V373.6M677.2,363.9V402.2" stroke="#333333" stroke-width="1.2" fill="none"/>
<polyline points="444,434.6 444.2,429.4 444.4,434.5 444.6,428.7 444.8,434 445,429 445.2,434.3 445.4,428.8 445.6,435.5 445.8,429.9 446,434.8 446.2,437.6 446.4,435.9 446.6,431.2 446.8,437.2 447,435.6 447.2,434.6 447.4,431 447.6,434.6 447.8,431.2 448,436.2 448.2,430.5 448.4,435.1 448.6,431 448.8,436.7 449,435.3 449.2,434.4 449.4,429.6 449.6,442.2 449.8,439 450,436.8 450.2,430.2 450.4,434.4 450.6,430.6 450.8,434.1 451,429.2 451.2,435.1 451.4,429.5 451.6,434.6 451.8,430.1 452,435 452.2,431.2 452.4,438.7 452.6,436.7 452.8,435.3 453,428.9 453.2,434 453.4,430.1 453.6,434.6 453.8,429.7 454,435.2 454.2,430.1 454.4,435.1 454.6,429.7 454.8,436.3 455,431.1 455.2,435.8 455.4,430.3 455.6,434.2 455.8,431.4 456,434.9 456.2,431.4 456.4,436 456.6,431.6 456.8,436.2 457,431.7 457.2,441.2 457.4,438.4 457.6,436.5 457.8,429.8 458,435.1 458.2,432.1 458.4,435.2 458.6,431.2 458.8,435.3 459,430.7 459.2,435.3 459.4,430.5 459.6,435.2 459.8,430.1 460,435.2 460.2,429.5 460.4,435 460.6,429.8 460.8,435.8 461,428.8 461.2,435.2 461.4,430.1 461.6,435.7 461.8,429.5 462,438.7 462.2,436.7 462.4,435.4 462.6,429.6 462.8,435.7 463,429.9 463.2,434.3 463.4,431.6 463.6,436.3 463.8,431.4 464,437.1 464.2,435.7 464.4,434.7 464.6,430.6 464.8,436.9 465,431.4 465.2,435.6 465.4,430.5 465.6,434.4 465.8,431.3 466,436.3 466.2,429.6 466.4,434.2 466.6,430 466.8,436.5 467,431 467.2,435.8 467.4,430.6 467.6,436 467.8,429.7 468,436.2 468.2,431 468.4,435.1 468.6,431.7 468.8,434.3 469,429.5 469.2,436 469.4,430.9 469.6,435.1 469.8,440 470,437.6 470.2,439.4 470.4,437.2 470.6,430.1 470.8,435 471,430.6 471.2,435.4 471.4,428.7 471.6,434.4 471.8,429.5 472,435.4 472.2,429.9 472.4,435.6 472.6,430.6 472.8,434.6 473,429.7 473.2,436.3 473.4,431.6 473.6,487.7 473.8,469.6 474,457.5 474.2,431 474.4,443.9 474.6,438.7 474.8,437.8 475,430.6 475.2,435 475.4,430.6 475.6,436.1 475.8,430.9 476,435.9 476.2,429.6 476.4,435.3 476.6,449.6 476.8,444.1 477,429.7 477.2,437.8 477.4,429.7 477.6,435.7 477.8,431.2 478,435.7 478.2,431.7 478.4,435.1 478.6,430.8 478.8,435.4 479,431.5 479.2,436.1 479.4,432.2 479.6,436.8 479.8,430.6 480,435.6 480.2,430.4 480.4,440 480.6,437.6 480.8,436 481,429.3 481.2,434.3 481.4,430.8 481.6,435.5 481.8,428.6 482,435.7 482.2,430.5 482.4,435.3 482.6,429.4 482.8,435.5 483,431.2 483.2,435.3 483.4,431.5 483.6,434.8 483.8,429.7 484,437.1 484.2,435.6 484.4,435.9 484.6,430.8 484.8,436.2 485,429.9 485.2,435.2 485.4,429.7 485.6,435.1 485.8,431.4 486,435.5 486.2,430.6 486.4,434.2 486.6,431.1 486.8,436.1 487,430.5 487.2,433.9 487.4,430.4 487.6,435.7 487.8,429.9 488,434 488.2,429.4 488.4,434.4 488.6,430.1 488.8,437.8 489,436.1 489.2,434.9 489.4,429.9 489.6,436.3 489.8,431.2 490,436.7 490.2,431.3 490.4,435.8 490.6,431.8 490.8,434.8 491,456 491.2,448.3 491.4,430.4 491.6,439.6 491.8,430.5 492,436 492.2,429.1 492.4,434 492.6,429.9 492.8,434.4 493,430 493.2,435.8 493.4,430.9 493.6,435.2 493.8,429.2 494,435.4 494.2,430.3 494.4,435.4 494.6,429.8 494.8,434.8 495,429.3 495.2,433.9 495.4,429.4 495.6,435.7 495.8,430.6 496,434 496.2,429 496.4,434.2 496.6,429.6 496.8,434 497,430 497.2,434.6 497.4,430.9 497.6,433.9 497.8,429.8 498,435.6 498.2,429.4 498.4,434.1 498.6,429.8 498.8,434.6 499,430.2 499.2,435.3 499.4,430.3 499.6,434.1 499.8,430 500,434.6 500.2,430.8 500.4,434.7 500.6,431.2 500.8,434.7 501,431.5 501.2,436.7 501.4,438.3 501.6,436.3 501.8,431.5 502,435.5 502.2,431.8 502.4,437 502.6,432.4 502.8,435 503,431.3 503.2,435.6 503.4,430.8 503.6,436.4 503.8,431.5 504,436.4 504.2,430.1 504.4,435.1 504.6,437.5 504.8,435.8 505,431.8 505.2,435.7 505.4,430.9 505.6,435.1 505.8,430 506,436.2 506.2,437.8 506.4,436 506.6,436.3 506.8,435.1 507,429.6 507.2,435.9 507.4,431.3 507.6,436.2 507.8,429.7 508,434.5 508.2,431.2 508.4,435 508.6,429.9 508.8,435.3 509,429.2 509.2,435.1 509.4,430.4 509.6,435.8 509.8,430.6 510,463.4 510.2,453.1 510.4,446.1 510.6,429.8 510.8,438.4 511,430.5 511.2,434.9 511.4,428.4 511.6,434 511.8,430.7 512,434.1 512.2,430.6 512.4,435.6 512.6,430.7 512.8,434.8 513,428.9 513.2,434.7 513.4,428.5 513.6,433.8 513.8,429 514,434.3 514.2,429.2 514.4,434.2 514.6,429.6 514.8,433.9 515,430.1 515.2,433.8 515.4,428.9 515.6,433.6 515.8,428.9 516,434.5 516.2,428.6 516.4,435.3 516.6,428.3 516.8,434.3 517,429.1 517.2,435.1 517.4,429.1 517.6,434.5 517.8,430.8 518,433.8 518.2,430.9 518.4,435.6 518.6,430.6 518.8,434 519,451.3 519.2,444.9 519.4,429.8 519.6,437.7 519.8,428.7 520,438.2 520.2,436.1 520.4,434.7 520.6,429.6 520.8,432.2 521,427.6 521.2,432 521.4,429.4 521.6,432.4 521.8,429.2 522,434.5 522.2,428.3 522.4,433.4 522.6,428 522.8,434.2 523,429.4 523.2,434.4 523.4,430.7 523.6,433.7 523.8,429.8 524,435.6 524.2,430.5 524.4,435.5 524.6,430.3 524.8,434 525,428.9 525.2,433.7 525.4,428.7 525.6,433.8 525.8,429.7 526,433.9 526.2,429.3 526.4,434.6 526.6,428.5 526.8,433.7 527,428.9 527.2,433.9 527.4,437.8 527.6,437.1 527.8,435.3 528,434.2 528.2,429.2 528.4,433 528.6,428.3 528.8,433.5 529,428.1 529.2,434.3 529.4,437.1 529.6,443.3 529.8,439.5 530,437 530.2,437.6 530.4,435.7 530.6,429.4 530.8,433.6 531,430.1 531.2,435.2 531.4,428.4 531.6,433.3 531.8,430.2 532,434.1 532.2,466.1 532.4,454.8 532.6,430.5 532.8,442.1 533,429.7 533.2,436.5 533.4,429.3 533.6,436.4 533.8,434.9 534,434.9 534.2,428.8 534.4,436.8 534.6,435.1 534.8,435.1 535,429.6 535.2,435.8 535.4,431.2 535.6,436.2 535.8,429.4 536,434.9 536.2,429.9 536.4,436.4 536.6,429.2 536.8,434.1 537,429.7 537.2,434.7 537.4,429.2 537.6,434.6 537.8,429.9 538,433.8 538.2,428.8 538.4,434.8 538.6,428.4 538.8,434.1 539,429.1 539.2,434.2 539.4,438.5 539.6,436.3 539.8,430.3 540,433.9 540.2,428.1 540.4,434.2 540.6,429.4 540.8,434.6 541,428.3 541.2,434.1 541.4,428 541.6,433.4 541.8,429.3 542,434.8 542.2,429.2 542.4,433.5 542.6,429.4 542.8,433.5 543,429.8 543.2,434.6 543.4,428.7 543.6,434.5 543.8,429.5 544,434.5 544.2,430.5 544.4,435 544.6,429.9 544.8,435.6 545,430.3 545.2,433.7 545.4,430.1 545.6,436 545.8,429.3 546,433.9 546.2,429.6 546.4,435.1 546.6,429 546.8,435.3 547,431 547.2,436 547.4,429.6 547.6,436.3 547.8,431.1 548,434 548.2,429.3 548.4,438.6 548.6,436.4 548.8,436.4 549,435 549.2,435.7 549.4,429.1 549.6,433.8 549.8,430.4 550,435.5 550.2,430.5 550.4,435.8 550.6,431 550.8,436.1 551,429.8 551.2,435.8 551.4,431.5 551.6,435.3 551.8,430.5 552,435.4 552.2,430.3 552.4,435.5 552.6,429.4 552.8,435.2 553,430.7 553.2,434.8 553.4,429.6 553.6,435.1 553.8,430.5 554,434.5 554.2,429.7 554.4,434.2 554.6,429.9 554.8,436 555,430.7 555.2,436.1 555.4,428.9 555.6,435.9 555.8,429.1 556,435.6 556.2,431.2 556.4,435.8 556.6,430.4 556.8,434.9 557,429.2 557.2,436.5 557.4,435.1 557.6,434.5 557.8,437.8 558,436 558.2,431.8 558.4,435.3 558.6,431.6 558.8,436 559,428.9 559.2,435.5 559.4,430.7 559.6,435.2 559.8,429.8 560,435.6 560.2,431.2 560.4,434.8 560.6,429.4 560.8,434.3 561,429.4 561.2,433.5 561.4,429.5 561.6,434.9 561.8,429.2 562,433.8 562.2,430.1 562.4,434.5 562.6,431.1 562.8,435.7 563,430.4 563.2,434.5 563.4,430.9 563.6,436.6 563.8,435.3 564,434.4 564.2,430.6 564.4,436.1 564.6,429.7 564.8,435.8 565,429.7 565.2,434.3 565.4,431.1 565.6,434 565.8,430.3 566,435.8 566.2,430.1 566.4,434.2 566.6,430.6 566.8,433.9 567,428.8 567.2,435.7 567.4,430.8 567.6,434 567.8,429.1 568,433.2 568.2,430 568.4,435.6 568.6,430.8 568.8,435.1 569,430.5 569.2,435.1 569.4,429.3 569.6,434.5 569.8,429.7 570,435.3 570.2,430.7 570.4,434.7 570.6,430.3 570.8,435.2 571,430.3 571.2,437.7 571.4,436.1 571.6,435.3 571.8,438.6 572,436.6 572.2,429.8 572.4,436.3 572.6,431.5 572.8,435.8 573,430 573.2,436.2 573.4,431.3 573.6,436.3 573.8,429.6 574,434.4 574.2,429.9 574.4,436.1 574.6,431.4 574.8,434.6 575,437.5 575.2,435.9 575.4,429.9 575.6,435.7 575.8,430.8 576,434.8 576.2,431 576.4,435.3 576.6,431.8 576.8,436 577,431.2 577.2,436.8 577.4,430.7 577.6,436.8 577.8,437.6 578,436 578.2,431.6 578.4,435.5 578.6,431.6 578.8,436.6 579,430.4 579.2,434.4 579.4,431.4 579.6,435.7 579.8,465.5 580,454.7 580.2,429.4 580.4,442.6 580.6,430.3 580.8,437.2 581,429.5 581.2,435.2 581.4,429.7 581.6,434.5 581.8,428 582,433.3 582.2,430.3 582.4,434.1 582.6,429.8 582.8,435.6 583,431.1 583.2,435 583.4,429 583.6,435.9 583.8,429.3 584,435.1 584.2,430.3 584.4,453.4 584.6,446.6 584.8,442.1 585,439 585.2,437 585.4,431.3 585.6,435.1 585.8,429.6 586,434.5 586.2,430.1 586.4,434.8 586.6,430.9 586.8,435.9 587,431 587.2,434.6 587.4,431 587.6,434.8 587.8,432.3 588,435.4 588.2,430 588.4,436.1 588.6,429.9 588.8,436.3 589,430.2 589.2,439.2 589.4,437.1 589.6,436 589.8,431.8 590,436 590.2,429.7 590.4,436.1 590.6,431.3 590.8,439 591,436.9 591.2,436.5 591.4,429.6 591.6,436.3 591.8,430.6 592,434.6 592.2,430.7 592.4,436.6 592.6,431.2 592.8,435.6 593,430.8 593.2,436.2 593.4,431.3 593.6,435.3 593.8,429 594,434.8 594.2,431.2 594.4,434.2 594.6,429.5 594.8,434 595,428.8 595.2,435.6 595.4,429.2 595.6,434.4 595.8,430.2 596,434.5 596.2,428.3 596.4,435 596.6,429.9 596.8,435.5 597,430.5 597.2,435.1 597.4,430.3 597.6,433.7 597.8,429.2 598,434.8 598.2,429 598.4,434.1 598.6,431.2 598.8,435.2 599,430.1 599.2,435.4 599.4,429.1 599.6,435.4 599.8,428.6 600,435 600.2,459.2 600.4,450.4 600.6,428.3 600.8,440.6 601,430.3 601.2,436.9 601.4,435.5 601.6,434.5 601.8,429.7 602,433.6 602.2,430.9 602.4,435.4 602.6,430.8 602.8,436.2 603,430.3 603.2,434.5 603.4,431.1 603.6,436.4 603.8,430.2 604,436 604.2,429.3 604.4,434.2 604.6,437.6 604.8,435.9 605,430.1 605.2,434.3 605.4,430.9 605.6,434 605.8,430.3 606,433.7 606.2,428.9 606.4,435.4 606.6,430.7 606.8,434.1 607,429.9 607.2,445.4 607.4,441.1 607.6,438.3 607.8,438 608,436.2 608.2,430.4 608.4,435.4 608.6,430.8 608.8,434.3 609,438 609.2,436.1 609.4,431.2 609.6,436.9 609.8,430 610,435.2 610.2,437 610.4,435.5 610.6,431.4 610.8,436.3 611,431.3 611.2,434.2 611.4,431.4 611.6,434.7 611.8,429.1 612,435.6 612.2,429.2 612.4,435.2 612.6,428.9 612.8,438.3 613,436.3 613.2,435 613.4,427.8 613.6,433.6 613.8,429.7 614,434.4 614.2,430.3 614.4,434.9 614.6,429.2 614.8,433.7 615,430.3 615.2,435 615.4,431.2 615.6,435.4 615.8,431 616,434.2 616.2,431.6 616.4,434.9 616.6,430 616.8,435.6 617,429.5 617.2,433.6 617.4,428.7 617.6,434.3 617.8,429.5 618,435.4 618.2,430.7 618.4,434.9 618.6,428.9 618.8,434.8 619,430.3 619.2,435.5 619.4,429.4 619.6,433.5 619.8,429.7 620,434.5 620.2,430.5 620.4,435.1 620.6,431.2 620.8,434.6 621,429.6 621.2,434.9 621.4,436.5 621.6,441.2 621.8,438.2 622,436.2 622.2,429.9 622.4,435.5 622.6,430.2 622.8,435.5 623,429.9 623.2,436.2 623.4,429.6 623.6,435.5 623.8,430.4 624,433.8 624.2,429.9 624.4,434.4 624.6,429.3 624.8,436.4 625,435 625.2,434.4 625.4,429.1 625.6,435.3 625.8,429.8 626,433.5 626.2,430 626.4,433.8 626.6,430.4 626.8,434.5 627,430.1 627.2,435.4 627.4,430 627.6,435.2 627.8,429 628,435.5 628.2,430.7 628.4,435.4 628.6,430.2 628.8,435.8 629,429.4 629.2,433.9 629.4,429 629.6,434.4 629.8,429.7 630,433.8 630.2,429.4 630.4,435.3 630.6,428.2 630.8,434.9 631,428.5 631.2,434.4 631.4,428 631.6,434.9 631.8,429.1 632,432.7 632.2,428.3 632.4,433.6 632.6,428.8 632.8,435.2 633,428.3 633.2,433.4 633.4,429.4 633.6,434.3 633.8,429.6 634,434.6 634.2,429.1 634.4,433.5 634.6,429.8 634.8,433.1 635,429.9 635.2,433.6 635.4,429.9 635.6,434.6 635.8,427.8 636,437.7 636.2,435.8 636.4,434.8 636.6,429.6 636.8,434.2 637,428.8 637.2,434.4 637.4,429.4 637.6,434.9 637.8,429.4 638,433.8 638.2,428 638.4,434.6 638.6,428.5 638.8,434.8 639,430.2 639.2,435 639.4,429 639.6,437.6 639.8,435.7 640,434.4 640.2,429.3 640.4,433.2 640.6,429.5 640.8,434.4 641,428.6 641.2,433.4 641.4,429.6 641.6,443.3 641.8,439.5 642,437 642.2,430 642.4,434.2 642.6,430.3 642.8,433.6 643,427.9 643.2,433.6 643.4,429.4 643.6,432.6 643.8,429.1 644,432.9 644.2,428.7 644.4,433.4 644.6,429.4 644.8,433.1 645,436.1 645.2,434.7 645.4,429.8 645.6,432.6 645.8,467 646,455.4 646.2,429.3 646.4,442.4 646.6,429 646.8,436.6 647,428 647.2,434.3 647.4,428.3 647.6,436.8 647.8,435.2 648,457.7 648.2,449.2 648.4,443.5 648.6,430.3 648.8,437.1 649,428.8 649.2,434.2 649.4,436.2 649.6,437.1 649.8,435.4 650,435.3 650.2,429.3 650.4,434.9 650.6,430.4 650.8,434.4 651,430.2 651.2,434.8 651.4,430.7 651.6,436.8 651.8,435.2 652,435.2 652.2,430.4 652.4,434 652.6,429 652.8,434.3 653,430.2 653.2,436.7 653.4,435.1 653.6,435.2 653.8,430.8 654,435.4 654.2,441.2 654.4,438.1 654.6,429.8 654.8,434.8 655,437.4 655.2,435.6 655.4,428.5 655.6,432.9 655.8,428.7 656,436.9 656.2,435.2 656.4,434.2 656.6,429.7 656.8,433.8 657,429.7 657.2,434.1 657.4,429.7 657.6,438.5 657.8,436.3 658,438.4 658.2,436.3 658.4,434.9 658.6,427.7 658.8,434.7 659,428.7 659.2,434 659.4,427.6 659.6,438.1 659.8,436.1 660,434.8 660.2,429.5 660.4,432.8 660.6,436.9 660.8,435.3 661,430.5 661.2,434.6 661.4,429.6 661.6,434.5 661.8,428.3 662,434.6 662.2,429.8 662.4,434.2 662.6,428.6 662.8,434.6 663,430.2 663.2,435.1 663.4,437.3 663.6,435.6 663.8,446.5 664,441.8 664.2,429.2 664.4,436.5 664.6,428.5 664.8,434.1 665,431 665.2,433.7 665.4,428.7 665.6,435.5 665.8,429.1 666,436.8 666.2,435.3 666.4,434.9 666.6,430.8 666.8,436.7 667,431.7 667.2,437.3 667.4,435.6 667.6,436.2 667.8,438.7 668,436.6 668.2,435.2 668.4,436.1 668.6,431.8 668.8,436.2 669,431.3 669.2,435.2 669.4,432.3 669.6,434.9 669.8,430.3 670,436.9 670.2,454.3 670.4,447.1 670.6,430.3 670.8,438.9 671,431.4 671.2,435.3 671.4,429.1 671.6,434.6 671.8,429.9 672,435.1 672.2,430.5 672.4,433.6 672.6,436.8 672.8,435.3 673,428.9 673.2,433.4 673.4,429.1 673.6,434.5 673.8,428.7 674,433.3 674.2,438.1 674.4,436.2 674.6,429.9 674.8,435.1 675,428.6 675.2,435 675.4,430.5 675.6,434.5 675.8,429.3 676,435.3 676.2,430.5 676.4,436.6 676.6,435.3 676.8,434.5 677,431 677.2,435 677.4,430.7 677.6,439.5 677.8,437.2 678,435.7 678.2,430.2 678.4,434.8 678.6,430.6 678.8,434.8 679,428.7 679.2,435 679.4,429.8 679.6,435.9 679.8,430.7 680,435.3 680.2,437.9 680.4,436.2 680.6,430.2 680.8,434.9 681,437.3 681.2,435.8 681.4,431.5 681.6,436.6 681.8,429.9 682,435.2 682.2,430.5 682.4,434.7 682.6,430.3 682.8,436 683,430.7 683.2,435 683.4,429.6 683.6,433.8 683.8,430.2 684,435.3 684.2,429.8 684.4,435.2 684.6,429.2 684.8,435.2 685,429.3" fill="none" stroke="#8393fc" stroke-width="1.1" stroke-linejoin="round" stroke-linejoin="miter"/>
<path d="M449.7,432.5V442.2M457.2,432.6V441.2M469.9,432.8V440M473.7,432.8V487.7M476.6,432.8V449.6M480.4,432.7V440M491,432.6V456M510,432V463.4M519,431.9V451.3M529.6,431.8V443.3M532.3,431.8V466.1M548.5,432.1V438.6M571.8,432.7V438.6M579.8,432.8V465.5M584.5,432.8V453.4M590.8,432.8V439M600.3,432.6V459.2M607.3,432.5V445.4M621.5,432.1V441.2M641.6,431.8V443.3M645.8,431.8V467M648,431.8V457.7M654.3,431.9V441.2M663.8,432.1V446.5M670.2,432.3V454.3M677.6,432.5V439.5" stroke="#8393fc" stroke-width="1.2" fill="none"/>
<polyline points="427.8,437.4 427.8,473.6 467.3,473.6" fill="none" stroke="#000" stroke-width="3"/>
<text x="431.8" y="488.3" font-size="16" text-anchor="start" font-weight="normal" font-style="normal" fill="#000">1sec</text>
<text x="423.1" y="458.4" font-size="16" text-anchor="middle" font-weight="normal" font-style="normal" fill="#000" transform="rotate(-90 423.1 458.4)">50pA</text>
<rect x="61" y="237" width="22" height="79.8" fill="#333333" stroke="#000" stroke-width="2"/>
<rect x="85" y="239.4" width="22.2" height="77.4" fill="#b085fe" stroke="#000" stroke-width="2"/>
<line x1="71.5" y1="236" x2="71.5" y2="230.3" stroke="#000" stroke-width="2" stroke-linecap="butt"/>
<line x1="65.4" y1="231.2" x2="77.6" y2="231.2" stroke="#000" stroke-width="1.9" stroke-linecap="butt"/>
<line x1="96.3" y1="238.4" x2="96.3" y2="230.6" stroke="#000" stroke-width="2" stroke-linecap="butt"/>
<line x1="90" y1="231.5" x2="102.6" y2="231.5" stroke="#000" stroke-width="1.9" stroke-linecap="butt"/>
<circle cx="66.7" cy="210.5" r="2.35" fill="#000"/>
<circle cx="66.7" cy="218.2" r="2.35" fill="#000"/>
<circle cx="66.7" cy="220.4" r="2.35" fill="#000"/>
<circle cx="66.7" cy="222" r="2.35" fill="#000"/>
<circle cx="66.7" cy="223.7" r="2.35" fill="#000"/>
<circle cx="66.7" cy="229.2" r="2.35" fill="#000"/>
<circle cx="66.7" cy="231.4" r="2.35" fill="#000"/>
<circle cx="66.7" cy="233.1" r="2.35" fill="#000"/>
<circle cx="66.7" cy="241.9" r="2.35" fill="#000"/>
<circle cx="66.7" cy="248" r="2.35" fill="#000"/>
<circle cx="66.7" cy="262.8" r="2.35" fill="#000"/>
<circle cx="66.7" cy="265" r="2.35" fill="#000"/>
<circle cx="66.7" cy="266.2" r="2.35" fill="#000"/>
<circle cx="91.4" cy="189.8" r="2.35" fill="#000"/>
<circle cx="91.4" cy="191.6" r="2.35" fill="#000"/>
<circle cx="91.4" cy="232" r="2.35" fill="#000"/>
<circle cx="91.4" cy="244.7" r="2.35" fill="#000"/>
<circle cx="91.4" cy="246.9" r="2.35" fill="#000"/>
<circle cx="91.4" cy="249.1" r="2.35" fill="#000"/>
<circle cx="91.4" cy="251.8" r="2.35" fill="#000"/>
<circle cx="91.4" cy="258.4" r="2.35" fill="#000"/>
<circle cx="91.4" cy="267" r="2.35" fill="#000"/>
<line x1="57.2" y1="172" x2="57.2" y2="318.1" stroke="#000" stroke-width="2.8" stroke-linecap="butt"/>
<line x1="55.8" y1="316.8" x2="110.6" y2="316.8" stroke="#000" stroke-width="2.6" stroke-linecap="butt"/>
<line x1="53.2" y1="176.4" x2="57.2" y2="176.4" stroke="#000" stroke-width="2" stroke-linecap="butt"/>
<text x="49.4" y="180.4" font-size="11.3" text-anchor="end" font-weight="normal" font-style="normal" fill="#000">&#8722;150</text>
<line x1="53.2" y1="223.1" x2="57.2" y2="223.1" stroke="#000" stroke-width="2" stroke-linecap="butt"/>
<text x="49.4" y="227.1" font-size="11.3" text-anchor="end" font-weight="normal" font-style="normal" fill="#000">&#8722;100</text>
<line x1="53.2" y1="270.1" x2="57.2" y2="270.1" stroke="#000" stroke-width="2" stroke-linecap="butt"/>
<text x="49.4" y="274.1" font-size="11.3" text-anchor="end" font-weight="normal" font-style="normal" fill="#000">&#8722;50</text>
<line x1="53.2" y1="316.8" x2="57.2" y2="316.8" stroke="#000" stroke-width="2" stroke-linecap="butt"/>
<text x="49.4" y="320.8" font-size="11.3" text-anchor="end" font-weight="normal" font-style="normal" fill="#000">0</text>
<line x1="71.5" y1="316.8" x2="71.5" y2="320.8" stroke="#000" stroke-width="2" stroke-linecap="butt"/>
<text x="71.5" y="332" font-size="11.2" text-anchor="middle" font-weight="normal" font-style="normal" fill="#000">Ctrl</text>
<line x1="96.2" y1="316.8" x2="96.2" y2="320.8" stroke="#000" stroke-width="2" stroke-linecap="butt"/>
<text x="96.2" y="332" font-size="11.2" text-anchor="middle" font-weight="normal" font-style="normal" fill="#000">cKO</text>
<polyline points="71.3,186 71.3,183 96.6,183 96.6,186" fill="none" stroke="#000" stroke-width="1.7"/>
<text x="83.3" y="181.2" font-size="14.2" text-anchor="middle" font-weight="normal" font-style="normal" fill="#000">NS</text>
<text x="18.2" y="245" font-size="14.2" text-anchor="middle" font-weight="normal" font-style="normal" fill="#000" transform="rotate(-90 18.2 245)">Amplitude (pA)</text>
<rect x="187.5" y="270.1" width="21.4" height="45.6" fill="#333333" stroke="#000" stroke-width="2"/>
<rect x="210.9" y="303.1" width="21.9" height="12.6" fill="#b085fe" stroke="#000" stroke-width="2"/>
<line x1="197.8" y1="269.1" x2="197.8" y2="258.8" stroke="#000" stroke-width="2" stroke-linecap="butt"/>
<line x1="191.7" y1="259.7" x2="203.9" y2="259.7" stroke="#000" stroke-width="1.9" stroke-linecap="butt"/>
<line x1="221.3" y1="302.1" x2="221.3" y2="299.1" stroke="#000" stroke-width="2" stroke-linecap="butt"/>
<line x1="215" y1="300" x2="227.6" y2="300" stroke="#000" stroke-width="1.9" stroke-linecap="butt"/>
<circle cx="192.6" cy="190.8" r="2.35" fill="#000"/>
<circle cx="192.6" cy="216.8" r="2.35" fill="#000"/>
<circle cx="192.6" cy="251.8" r="2.35" fill="#000"/>
<circle cx="192.6" cy="265.7" r="2.35" fill="#000"/>
<circle cx="192.6" cy="272.6" r="2.35" fill="#000"/>
<circle cx="192.6" cy="279.4" r="2.35" fill="#000"/>
<circle cx="192.6" cy="283.4" r="2.35" fill="#000"/>
<circle cx="192.6" cy="294.4" r="2.35" fill="#000"/>
<circle cx="192.6" cy="298.1" r="2.35" fill="#000"/>
<circle cx="192.6" cy="303.2" r="2.35" fill="#000"/>
<circle cx="192.6" cy="312.1" r="2.35" fill="#000"/>
<circle cx="217.4" cy="275.3" r="2.35" fill="#000"/>
<circle cx="217.4" cy="297.4" r="2.35" fill="#000"/>
<circle cx="217.4" cy="300.3" r="2.35" fill="#000"/>
<circle cx="217.4" cy="304.7" r="2.35" fill="#000"/>
<circle cx="217.4" cy="309.1" r="2.35" fill="#000"/>
<circle cx="217.4" cy="312.1" r="2.35" fill="#000"/>
<line x1="183.4" y1="171.5" x2="183.4" y2="317" stroke="#000" stroke-width="2.8" stroke-linecap="butt"/>
<line x1="182" y1="315.7" x2="236.8" y2="315.7" stroke="#000" stroke-width="2.6" stroke-linecap="butt"/>
<line x1="179.4" y1="187.7" x2="183.4" y2="187.7" stroke="#000" stroke-width="2" stroke-linecap="butt"/>
<text x="175.6" y="191.7" font-size="11.3" text-anchor="end" font-weight="normal" font-style="normal" fill="#000">7.5</text>
<line x1="179.4" y1="230.3" x2="183.4" y2="230.3" stroke="#000" stroke-width="2" stroke-linecap="butt"/>
<text x="175.6" y="234.3" font-size="11.3" text-anchor="end" font-weight="normal" font-style="normal" fill="#000">5.0</text>
<line x1="179.4" y1="273" x2="183.4" y2="273" stroke="#000" stroke-width="2" stroke-linecap="butt"/>
<text x="175.6" y="277" font-size="11.3" text-anchor="end" font-weight="normal" font-style="normal" fill="#000">2.5</text>
<line x1="179.4" y1="315.7" x2="183.4" y2="315.7" stroke="#000" stroke-width="2" stroke-linecap="butt"/>
<text x="175.6" y="319.7" font-size="11.3" text-anchor="end" font-weight="normal" font-style="normal" fill="#000">0.0</text>
<line x1="197.5" y1="315.7" x2="197.5" y2="319.7" stroke="#000" stroke-width="2" stroke-linecap="butt"/>
<text x="197.5" y="330.6" font-size="11.2" text-anchor="middle" font-weight="normal" font-style="normal" fill="#000">Ctrl</text>
<line x1="221.8" y1="315.7" x2="221.8" y2="319.7" stroke="#000" stroke-width="2" stroke-linecap="butt"/>
<text x="221.8" y="330.6" font-size="11.2" text-anchor="middle" font-weight="normal" font-style="normal" fill="#000">cKO</text>
<polyline points="197.3,186 197.3,181.6 222.7,181.6 222.7,186" fill="none" stroke="#000" stroke-width="1.7"/>
<text x="209.6" y="178.5" font-size="14.2" text-anchor="middle" font-weight="normal" font-style="normal" fill="#000">*</text>
<text x="151" y="244.9" font-size="14.2" text-anchor="middle" font-weight="normal" font-style="normal" fill="#000" transform="rotate(-90 151 244.9)">Frequency (Hz)</text>
<rect x="61" y="565.2" width="22.2" height="96.4" fill="#333333" stroke="#000" stroke-width="2"/>
<rect x="85.2" y="588.3" width="21.7" height="73.3" fill="#8696fe" stroke="#000" stroke-width="2"/>
<line x1="71.5" y1="564.2" x2="71.5" y2="559.6" stroke="#000" stroke-width="2" stroke-linecap="butt"/>
<line x1="65.4" y1="560.5" x2="77.6" y2="560.5" stroke="#000" stroke-width="1.9" stroke-linecap="butt"/>
<line x1="96.2" y1="587.3" x2="96.2" y2="583.9" stroke="#000" stroke-width="2" stroke-linecap="butt"/>
<line x1="90.6" y1="584.8" x2="101.8" y2="584.8" stroke="#000" stroke-width="1.9" stroke-linecap="butt"/>
<circle cx="66.7" cy="534.6" r="2.35" fill="#000"/>
<circle cx="66.7" cy="546.4" r="2.35" fill="#000"/>
<circle cx="66.7" cy="548" r="2.35" fill="#000"/>
<circle cx="66.7" cy="551.2" r="2.35" fill="#000"/>
<circle cx="66.7" cy="556.9" r="2.35" fill="#000"/>
<circle cx="66.7" cy="564.2" r="2.35" fill="#000"/>
<circle cx="66.7" cy="565.8" r="2.35" fill="#000"/>
<circle cx="66.7" cy="568.2" r="2.35" fill="#000"/>
<circle cx="66.7" cy="570.6" r="2.35" fill="#000"/>
<circle cx="66.7" cy="575.5" r="2.35" fill="#000"/>
<circle cx="66.7" cy="583.6" r="2.35" fill="#000"/>
<circle cx="66.7" cy="586" r="2.35" fill="#000"/>
<circle cx="66.7" cy="590" r="2.35" fill="#000"/>
<circle cx="91.2" cy="566.6" r="2.35" fill="#000"/>
<circle cx="91.2" cy="577.1" r="2.35" fill="#000"/>
<circle cx="91.2" cy="578.7" r="2.35" fill="#000"/>
<circle cx="91.2" cy="581.1" r="2.35" fill="#000"/>
<circle cx="91.2" cy="583.6" r="2.35" fill="#000"/>
<circle cx="91.2" cy="586" r="2.35" fill="#000"/>
<circle cx="91.2" cy="589.2" r="2.35" fill="#000"/>
<circle cx="91.2" cy="590.8" r="2.35" fill="#000"/>
<circle cx="91.2" cy="598.6" r="2.35" fill="#000"/>
<circle cx="91.2" cy="606.7" r="2.35" fill="#000"/>
<circle cx="91.2" cy="608.6" r="2.35" fill="#000"/>
<circle cx="91.2" cy="611" r="2.35" fill="#000"/>
<line x1="57" y1="517.8" x2="57" y2="662.9" stroke="#000" stroke-width="2.8" stroke-linecap="butt"/>
<line x1="55.6" y1="661.6" x2="110.7" y2="661.6" stroke="#000" stroke-width="2.6" stroke-linecap="butt"/>
<line x1="53" y1="560.9" x2="57" y2="560.9" stroke="#000" stroke-width="2" stroke-linecap="butt"/>
<text x="49.2" y="564.9" font-size="11.3" text-anchor="end" font-weight="normal" font-style="normal" fill="#000">&#8722;100</text>
<line x1="53" y1="611.1" x2="57" y2="611.1" stroke="#000" stroke-width="2" stroke-linecap="butt"/>
<text x="49.2" y="615.1" font-size="11.3" text-anchor="end" font-weight="normal" font-style="normal" fill="#000">&#8722;50</text>
<line x1="53" y1="661.6" x2="57" y2="661.6" stroke="#000" stroke-width="2" stroke-linecap="butt"/>
<text x="49.2" y="665.6" font-size="11.3" text-anchor="end" font-weight="normal" font-style="normal" fill="#000">0</text>
<line x1="71.5" y1="661.6" x2="71.5" y2="665.6" stroke="#000" stroke-width="2" stroke-linecap="butt"/>
<line x1="96.2" y1="661.6" x2="96.2" y2="665.6" stroke="#000" stroke-width="2" stroke-linecap="butt"/>
<text x="63" y="676.6" font-size="11.2" text-anchor="start" font-weight="normal" font-style="normal" fill="#000" textLength="17.2" lengthAdjust="spacingAndGlyphs">WT</text>
<text x="83.6" y="676.6" font-size="11.2" text-anchor="start" font-weight="normal" font-style="normal" fill="#000" textLength="32.6" lengthAdjust="spacingAndGlyphs">c&#916;ICD</text>
<polyline points="71.3,533.6 71.3,530.8 96.9,530.8 96.9,533.6" fill="none" stroke="#000" stroke-width="1.7"/>
<text x="83.9" y="527.8" font-size="14.2" text-anchor="middle" font-weight="normal" font-style="normal" fill="#000">***</text>
<text x="18.2" y="589.8" font-size="14.2" text-anchor="middle" font-weight="normal" font-style="normal" fill="#000" transform="rotate(-90 18.2 589.8)">Amplitude (pA)</text>
<rect x="186.8" y="601.8" width="21.7" height="57.4" fill="#333333" stroke="#000" stroke-width="2"/>
<rect x="210.5" y="641.7" width="22.1" height="17.5" fill="#8696fe" stroke="#000" stroke-width="2"/>
<line x1="198.2" y1="600.8" x2="198.2" y2="592.6" stroke="#000" stroke-width="2" stroke-linecap="butt"/>
<line x1="192.1" y1="593.5" x2="204.3" y2="593.5" stroke="#000" stroke-width="1.9" stroke-linecap="butt"/>
<line x1="221.4" y1="640.7" x2="221.4" y2="637.1" stroke="#000" stroke-width="2" stroke-linecap="butt"/>
<line x1="215.4" y1="638" x2="227.4" y2="638" stroke="#000" stroke-width="1.9" stroke-linecap="butt"/>
<circle cx="192.3" cy="533.8" r="2.35" fill="#000"/>
<circle cx="192.3" cy="567.3" r="2.35" fill="#000"/>
<circle cx="192.3" cy="574" r="2.35" fill="#000"/>
<circle cx="192.3" cy="582.8" r="2.35" fill="#000"/>
<circle cx="192.3" cy="596.4" r="2.35" fill="#000"/>
<circle cx="192.3" cy="598.2" r="2.35" fill="#000"/>
<circle cx="192.3" cy="600.8" r="2.35" fill="#000"/>
<circle cx="192.3" cy="603.4" r="2.35" fill="#000"/>
<circle cx="192.3" cy="608" r="2.35" fill="#000"/>
<circle cx="192.3" cy="610.6" r="2.35" fill="#000"/>
<circle cx="192.3" cy="619.6" r="2.35" fill="#000"/>
<circle cx="192.3" cy="633.8" r="2.35" fill="#000"/>
<circle cx="192.3" cy="641.5" r="2.35" fill="#000"/>
<circle cx="192.3" cy="649.7" r="2.35" fill="#000"/>
<circle cx="217" cy="606.7" r="2.35" fill="#000"/>
<circle cx="217" cy="624" r="2.35" fill="#000"/>
<circle cx="217" cy="626" r="2.35" fill="#000"/>
<circle cx="217" cy="635" r="2.35" fill="#000"/>
<circle cx="217" cy="637.6" r="2.35" fill="#000"/>
<circle cx="217" cy="641.5" r="2.35" fill="#000"/>
<circle cx="217" cy="645.4" r="2.35" fill="#000"/>
<circle cx="217" cy="649.2" r="2.35" fill="#000"/>
<circle cx="217" cy="653.1" r="2.35" fill="#000"/>
<circle cx="217" cy="657" r="2.35" fill="#000"/>
<line x1="183.6" y1="515.3" x2="183.6" y2="660.5" stroke="#000" stroke-width="2.8" stroke-linecap="butt"/>
<line x1="182.2" y1="659.2" x2="236.8" y2="659.2" stroke="#000" stroke-width="2.6" stroke-linecap="butt"/>
<line x1="179.6" y1="559.1" x2="183.6" y2="559.1" stroke="#000" stroke-width="2" stroke-linecap="butt"/>
<text x="175.8" y="563.1" font-size="11.3" text-anchor="end" font-weight="normal" font-style="normal" fill="#000">5.0</text>
<line x1="179.6" y1="609.2" x2="183.6" y2="609.2" stroke="#000" stroke-width="2" stroke-linecap="butt"/>
<text x="175.8" y="613.2" font-size="11.3" text-anchor="end" font-weight="normal" font-style="normal" fill="#000">2.5</text>
<line x1="179.6" y1="659.2" x2="183.6" y2="659.2" stroke="#000" stroke-width="2" stroke-linecap="butt"/>
<text x="175.8" y="663.2" font-size="11.3" text-anchor="end" font-weight="normal" font-style="normal" fill="#000">0.0</text>
<line x1="197.5" y1="659.2" x2="197.5" y2="663.2" stroke="#000" stroke-width="2" stroke-linecap="butt"/>
<line x1="221.8" y1="659.2" x2="221.8" y2="663.2" stroke="#000" stroke-width="2" stroke-linecap="butt"/>
<text x="188.7" y="673.8" font-size="11.2" text-anchor="start" font-weight="normal" font-style="normal" fill="#000" textLength="17.5" lengthAdjust="spacingAndGlyphs">WT</text>
<text x="209.4" y="673.8" font-size="11.2" text-anchor="start" font-weight="normal" font-style="normal" fill="#000" textLength="32.4" lengthAdjust="spacingAndGlyphs">c&#916;ICD</text>
<polyline points="197.5,530.8 197.5,527.8 222.2,527.8 222.2,530.8" fill="none" stroke="#000" stroke-width="1.7"/>
<text x="209.8" y="525" font-size="14.2" text-anchor="middle" font-weight="normal" font-style="normal" fill="#000">***</text>
<text x="154" y="588.9" font-size="14.8" text-anchor="middle" font-weight="normal" font-style="normal" fill="#000" transform="rotate(-90 154 588.9)">Frequency (Hz)</text>
<line x1="307.6" y1="298.9" x2="313.6" y2="298.9" stroke="#000" stroke-width="2.4" stroke-linecap="butt"/>
<text x="305.3" y="302.8" font-size="11" text-anchor="end" font-weight="normal" font-style="normal" fill="#000">0</text>
<line x1="307.6" y1="272.8" x2="313.6" y2="272.8" stroke="#000" stroke-width="2.4" stroke-linecap="butt"/>
<text x="305.3" y="276.7" font-size="11" text-anchor="end" font-weight="normal" font-style="normal" fill="#000">25</text>
<line x1="307.6" y1="246.7" x2="313.6" y2="246.7" stroke="#000" stroke-width="2.4" stroke-linecap="butt"/>
<text x="305.3" y="250.6" font-size="11" text-anchor="end" font-weight="normal" font-style="normal" fill="#000">50</text>
<line x1="307.6" y1="220.5" x2="313.6" y2="220.5" stroke="#000" stroke-width="2.4" stroke-linecap="butt"/>
<text x="305.3" y="224.4" font-size="11" text-anchor="end" font-weight="normal" font-style="normal" fill="#000">75</text>
<line x1="307.6" y1="194.4" x2="313.6" y2="194.4" stroke="#000" stroke-width="2.4" stroke-linecap="butt"/>
<text x="305.3" y="198.3" font-size="11" text-anchor="end" font-weight="normal" font-style="normal" fill="#000">100</text>
<line x1="317" y1="298.9" x2="317" y2="304.4" stroke="#000" stroke-width="2.4" stroke-linecap="butt"/>
<text x="317" y="316.5" font-size="11" text-anchor="middle" font-weight="normal" font-style="normal" fill="#000">0</text>
<line x1="354.8" y1="298.9" x2="354.8" y2="304.4" stroke="#000" stroke-width="2.4" stroke-linecap="butt"/>
<text x="354.8" y="316.5" font-size="11" text-anchor="middle" font-weight="normal" font-style="normal" fill="#000">&#8722;100</text>
<line x1="392.5" y1="298.9" x2="392.5" y2="304.4" stroke="#000" stroke-width="2.4" stroke-linecap="butt"/>
<text x="392.5" y="316.5" font-size="11" text-anchor="middle" font-weight="normal" font-style="normal" fill="#000">&#8722;200</text>
<line x1="430.3" y1="298.9" x2="430.3" y2="304.4" stroke="#000" stroke-width="2.4" stroke-linecap="butt"/>
<text x="430.3" y="316.5" font-size="11" text-anchor="middle" font-weight="normal" font-style="normal" fill="#000">&#8722;300</text>
<text x="388.2" y="333.3" font-size="14.2" text-anchor="middle" font-weight="normal" font-style="normal" fill="#000">Amplitude (pA)</text>
<text x="280" y="249.3" font-size="14" text-anchor="middle" font-weight="normal" font-style="normal" fill="#000" transform="rotate(-90 280 249.3)">Percent of Events</text>
<g clip-path="url(#cE)">
<polyline points="326.3,298.9 328.3,287 332.1,263.1 335.9,240.1 339.7,221.9 343.4,209.8 347.2,203.1 351,199.8 354.8,198.3 358.5,197.5 362.3,197.1 366.1,196.9 369.9,196.7 373.7,196.6 377.4,196.6 470,196.6" fill="none" stroke="#ad82fc" stroke-width="1.2" stroke-linejoin="round"/>
<polyline points="326.6,298.9 328.3,289.1 332.1,267 335.9,245.7 339.7,227.9 343.4,214.8 347.2,206.3 351,201.3 354.8,198.6 358.5,197.1 362.3,196.3 366.1,195.9 369.9,195.5 373.7,195.3 377.4,195.2 381.2,195.1 385,195 470,195" fill="none" stroke="#ad82fc" stroke-width="1.2" stroke-linejoin="round"/>
<polyline points="326.5,298.9 328.3,290.3 332.1,271.6 335.9,253.2 339.7,236.8 343.4,223.7 347.2,214 351,207.6 354.8,203.6 358.5,201.3 362.3,199.9 366.1,199.1 369.9,198.7 373.7,198.3 377.4,198.1 381.2,197.9 385,197.8 388.8,197.7 392.5,197.7 396.3,197.6 470,197.6" fill="none" stroke="#ad82fc" stroke-width="1.2" stroke-linejoin="round"/>
<polyline points="327.9,298.9 328.3,297.3 332.1,283.4 335.9,268.8 339.7,254.2 343.4,240.7 347.2,228.9 351,219.2 354.8,211.8 358.5,206.5 362.3,202.8 366.1,200.3 369.9,198.8 373.7,197.7 377.4,197.1 381.2,196.7 385,196.4 388.8,196.1 392.5,196 396.3,195.8 400.1,195.7 403.9,195.7 407.6,195.6 411.4,195.6 470,195.6" fill="none" stroke="#ad82fc" stroke-width="1.2" stroke-linejoin="round"/>
<polyline points="329.7,298.9 332.1,292.8 335.9,282.1 339.7,270.8 343.4,259.4 347.2,248.4 351,238.3 354.8,229.5 358.5,222.3 362.3,216.5 366.1,212.2 369.9,209 373.7,206.8 377.4,205.3 381.2,204.2 385,203.6 388.8,203.1 392.5,202.7 396.3,202.5 400.1,202.3 403.9,202.2 407.6,202.1 411.4,202 415.2,201.9 419,201.9 422.8,201.8 426.5,201.8 470,201.8" fill="none" stroke="#ad82fc" stroke-width="1.2" stroke-linejoin="round"/>
<polyline points="329.7,298.9 332.1,291.8 335.9,280.4 339.7,268.9 343.4,257.8 347.2,247.4 351,237.9 354.8,229.5 358.5,222.3 362.3,216.4 366.1,211.6 369.9,207.8 373.7,204.9 377.4,202.7 381.2,201.1 385,199.9 388.8,199 392.5,198.4 396.3,197.9 400.1,197.6 403.9,197.3 407.6,197 411.4,196.9 415.2,196.7 419,196.6 422.8,196.5 426.5,196.4 430.3,196.3 434.1,196.2 437.9,196.2 441.6,196.1 445.4,196.1 449.2,196.1 470,196.1" fill="none" stroke="#ad82fc" stroke-width="1.2" stroke-linejoin="round"/>
<polyline points="332.3,298.9 335.9,292.5 339.7,285.1 343.4,277.3 347.2,269.1 351,260.8 354.8,252.6 358.5,244.6 362.3,237.1 366.1,230.2 369.9,224 373.7,218.6 377.4,214 381.2,210.1 385,206.9 388.8,204.3 392.5,202.3 396.3,200.7 400.1,199.5 403.9,198.6 407.6,197.9 411.4,197.4 415.2,197 419,196.7 422.8,196.5 426.5,196.3 430.3,196.2 434.1,196 437.9,195.9 441.6,195.9 445.4,195.8 449.2,195.7 453,195.7 456.7,195.6 460.5,195.6 464.3,195.6 468.1,195.6 470,195.6" fill="none" stroke="#ad82fc" stroke-width="1.2" stroke-linejoin="round"/>
<polyline points="333.2,298.9 335.9,293.4 339.7,285.4 343.4,277.3 347.2,269.2 351,261.3 354.8,253.6 358.5,246.4 362.3,239.6 366.1,233.5 369.9,227.9 373.7,222.9 377.4,218.6 381.2,214.9 385,211.7 388.8,209 392.5,206.8 396.3,205 400.1,203.6 403.9,202.4 407.6,201.4 411.4,200.7 415.2,200.1 419,199.6 422.8,199.2 426.5,198.9 430.3,198.6 434.1,198.4 437.9,198.2 441.6,198.1 445.4,197.9 449.2,197.8 453,197.7 456.7,197.6 460.5,197.5 464.3,197.5 468.1,197.4 471.9,197.4 470,197.4" fill="none" stroke="#ad82fc" stroke-width="1.2" stroke-linejoin="round"/>
<polyline points="332.8,298.9 335.9,293.6 339.7,286.8 343.4,279.7 347.2,272.3 351,264.8 354.8,257.4 358.5,250.1 362.3,243.1 366.1,236.5 369.9,230.5 373.7,225 377.4,220 381.2,215.7 385,212.1 388.8,208.9 392.5,206.3 396.3,204.2 400.1,202.4 403.9,201.1 407.6,200 411.4,199.1 415.2,198.4 419,197.9 422.8,197.4 426.5,197.1 430.3,196.8 434.1,196.6 437.9,196.4 441.6,196.3 445.4,196.2 449.2,196.1 453,196 456.7,195.9 460.5,195.8 464.3,195.8 468.1,195.7 471.9,195.7 470,195.7" fill="none" stroke="#ad82fc" stroke-width="1.2" stroke-linejoin="round"/>
<polyline points="333,298.9 335.9,293.5 339.7,286.4 343.4,279.2 347.2,271.9 351,264.8 354.8,257.8 358.5,251 362.3,244.7 366.1,238.7 369.9,233.1 373.7,228.1 377.4,223.5 381.2,219.5 385,215.9 388.8,212.8 392.5,210.2 396.3,207.9 400.1,206 403.9,204.4 407.6,203.1 411.4,202 415.2,201.1 419,200.4 422.8,199.8 426.5,199.3 430.3,198.9 434.1,198.6 437.9,198.3 441.6,198.1 445.4,197.9 449.2,197.7 453,197.6 456.7,197.5 460.5,197.3 464.3,197.2 468.1,197.2 471.9,197.1 470,197.1" fill="none" stroke="#ad82fc" stroke-width="1.2" stroke-linejoin="round"/>
<polyline points="325.6,298.9 328.3,277.9 332.1,250.7 335.9,229 339.7,214 343.4,205 347.2,200.2 351,197.8 354.8,196.5 358.5,195.8 362.3,195.3 366.1,195 369.9,194.8 373.7,194.6 377.4,194.6 381.2,194.5 470,194.5" fill="none" stroke="#333333" stroke-width="1.4" stroke-linejoin="round"/>
<polyline points="327.9,298.9 328.3,297.2 332.1,280.3 335.9,261.7 339.7,243.5 343.4,227.7 347.2,215.6 351,207.2 354.8,201.9 358.5,198.9 362.3,197.3 366.1,196.4 369.9,195.9 373.7,195.6 377.4,195.4 381.2,195.2 385,195.1 388.8,195.1 392.5,195 470,195" fill="none" stroke="#333333" stroke-width="1.4" stroke-linejoin="round"/>
<polyline points="328,298.9 328.3,297.1 332.1,278.7 335.9,260.8 339.7,244.7 343.4,230.9 347.2,220 351,211.8 354.8,206.1 358.5,202.2 362.3,199.7 366.1,198.1 369.9,197 373.7,196.4 377.4,195.9 381.2,195.5 385,195.3 388.8,195 392.5,194.9 396.3,194.8 400.1,194.7 403.9,194.6 407.6,194.5 411.4,194.5 470,194.5" fill="none" stroke="#333333" stroke-width="1.4" stroke-linejoin="round"/>
<polyline points="328.4,298.9 332.1,284.9 335.9,269 339.7,252.7 343.4,237.6 347.2,224.8 351,214.8 354.8,207.6 358.5,202.9 362.3,200 366.1,198.3 369.9,197.3 373.7,196.7 377.4,196.3 381.2,196.1 385,195.9 388.8,195.7 392.5,195.7 396.3,195.6 400.1,195.5 470,195.5" fill="none" stroke="#333333" stroke-width="1.4" stroke-linejoin="round"/>
<polyline points="328.2,298.9 328.3,298.5 332.1,284.4 335.9,270.3 339.7,257 343.4,244.7 347.2,233.9 351,224.7 354.8,217.2 358.5,211.3 362.3,206.8 366.1,203.5 369.9,201.1 373.7,199.4 377.4,198.2 381.2,197.3 385,196.7 388.8,196.2 392.5,195.9 396.3,195.6 400.1,195.4 403.9,195.2 407.6,195 411.4,194.9 415.2,194.8 419,194.7 422.8,194.7 426.5,194.6 430.3,194.6 434.1,194.5 437.9,194.5 470,194.5" fill="none" stroke="#333333" stroke-width="1.4" stroke-linejoin="round"/>
<polyline points="329,298.9 332.1,288.2 335.9,275.1 339.7,262.3 343.4,250.4 347.2,239.6 351,230.1 354.8,222.1 358.5,215.6 362.3,210.4 366.1,206.5 369.9,203.5 373.7,201.4 377.4,199.8 381.2,198.6 385,197.8 388.8,197.2 392.5,196.8 396.3,196.4 400.1,196.2 403.9,195.9 407.6,195.7 411.4,195.6 415.2,195.5 419,195.4 422.8,195.3 426.5,195.2 430.3,195.2 434.1,195.1 437.9,195.1 441.6,195 470,195" fill="none" stroke="#333333" stroke-width="1.4" stroke-linejoin="round"/>
<polyline points="329.6,298.9 332.1,291.4 335.9,279.9 339.7,268.7 343.4,258 347.2,248 351,239 354.8,231 358.5,224.1 362.3,218.3 366.1,213.5 369.9,209.6 373.7,206.6 377.4,204.2 381.2,202.4 385,201.1 388.8,200 392.5,199.2 396.3,198.6 400.1,198.2 403.9,197.8 407.6,197.5 411.4,197.3 415.2,197.1 419,196.9 422.8,196.8 426.5,196.6 430.3,196.5 434.1,196.4 437.9,196.4 441.6,196.3 445.4,196.2 449.2,196.2 453,196.2 456.7,196.1 460.5,196.1 464.3,196.1 470,196.1" fill="none" stroke="#333333" stroke-width="1.4" stroke-linejoin="round"/>
<polyline points="330.7,298.9 332.1,295.5 335.9,285.6 339.7,275.2 343.4,264.6 347.2,254.3 351,244.5 354.8,235.5 358.5,227.5 362.3,220.5 366.1,214.7 369.9,209.9 373.7,206.2 377.4,203.2 381.2,201 385,199.4 388.8,198.2 392.5,197.3 396.3,196.7 400.1,196.2 403.9,195.9 407.6,195.6 411.4,195.4 415.2,195.2 419,195 422.8,194.9 426.5,194.8 430.3,194.8 434.1,194.7 437.9,194.6 441.6,194.6 445.4,194.6 449.2,194.5 453,194.5 470,194.5" fill="none" stroke="#333333" stroke-width="1.4" stroke-linejoin="round"/>
<polyline points="330.4,298.9 332.1,294.8 335.9,285.5 339.7,275.9 343.4,266.2 347.2,256.8 351,247.8 354.8,239.4 358.5,231.8 362.3,225.1 366.1,219.3 369.9,214.4 373.7,210.3 377.4,207.1 381.2,204.5 385,202.5 388.8,200.9 392.5,199.7 396.3,198.8 400.1,198.2 403.9,197.7 407.6,197.3 411.4,196.9 415.2,196.7 419,196.5 422.8,196.3 426.5,196.2 430.3,196.1 434.1,196 437.9,195.9 441.6,195.8 445.4,195.7 449.2,195.7 453,195.7 456.7,195.6 460.5,195.6 464.3,195.6 470,195.6" fill="none" stroke="#333333" stroke-width="1.4" stroke-linejoin="round"/>
<polyline points="331,298.9 332.1,296.7 335.9,288.4 339.7,279.5 343.4,270.2 347.2,260.7 351,251.4 354.8,242.5 358.5,234.2 362.3,226.7 366.1,220.2 369.9,214.7 373.7,210.1 377.4,206.4 381.2,203.5 385,201.2 388.8,199.6 392.5,198.3 396.3,197.4 400.1,196.7 403.9,196.2 407.6,195.9 411.4,195.6 415.2,195.3 419,195.2 422.8,195 426.5,194.9 430.3,194.8 434.1,194.7 437.9,194.7 441.6,194.6 445.4,194.6 449.2,194.6 453,194.5 456.7,194.5 470,194.5" fill="none" stroke="#333333" stroke-width="1.4" stroke-linejoin="round"/>
<polyline points="332.1,298.9 332.1,298.8 335.9,290.7 339.7,282.1 343.4,273.4 347.2,264.5 351,255.8 354.8,247.5 358.5,239.6 362.3,232.4 366.1,225.9 369.9,220.3 373.7,215.4 377.4,211.3 381.2,207.9 385,205.1 388.8,202.9 392.5,201.2 396.3,199.9 400.1,198.9 403.9,198.1 407.6,197.5 411.4,197 415.2,196.6 419,196.3 422.8,196.1 426.5,195.9 430.3,195.8 434.1,195.6 437.9,195.5 441.6,195.4 445.4,195.4 449.2,195.3 453,195.2 456.7,195.2 460.5,195.1 464.3,195.1 468.1,195.1 471.9,195 470,195" fill="none" stroke="#333333" stroke-width="1.4" stroke-linejoin="round"/>
</g>
<rect x="313.6" y="185.1" width="149.4" height="113.8" fill="none" stroke="#000" stroke-width="2.3"/>
<line x1="312.4" y1="298.9" x2="464.2" y2="298.9" stroke="#000" stroke-width="2.7"/>
<line x1="307.2" y1="643" x2="313.2" y2="643" stroke="#000" stroke-width="2.4" stroke-linecap="butt"/>
<text x="304.9" y="646.9" font-size="11" text-anchor="end" font-weight="normal" font-style="normal" fill="#000">0</text>
<line x1="307.2" y1="616.9" x2="313.2" y2="616.9" stroke="#000" stroke-width="2.4" stroke-linecap="butt"/>
<text x="304.9" y="620.8" font-size="11" text-anchor="end" font-weight="normal" font-style="normal" fill="#000">25</text>
<line x1="307.2" y1="590.8" x2="313.2" y2="590.8" stroke="#000" stroke-width="2.4" stroke-linecap="butt"/>
<text x="304.9" y="594.7" font-size="11" text-anchor="end" font-weight="normal" font-style="normal" fill="#000">50</text>
<line x1="307.2" y1="564.6" x2="313.2" y2="564.6" stroke="#000" stroke-width="2.4" stroke-linecap="butt"/>
<text x="304.9" y="568.5" font-size="11" text-anchor="end" font-weight="normal" font-style="normal" fill="#000">75</text>
<line x1="307.2" y1="538.5" x2="313.2" y2="538.5" stroke="#000" stroke-width="2.4" stroke-linecap="butt"/>
<text x="304.9" y="542.4" font-size="11" text-anchor="end" font-weight="normal" font-style="normal" fill="#000">100</text>
<line x1="316.7" y1="643" x2="316.7" y2="648.5" stroke="#000" stroke-width="2.4" stroke-linecap="butt"/>
<text x="316.7" y="661.1" font-size="11" text-anchor="middle" font-weight="normal" font-style="normal" fill="#000">0</text>
<line x1="354.6" y1="643" x2="354.6" y2="648.5" stroke="#000" stroke-width="2.4" stroke-linecap="butt"/>
<text x="354.6" y="661.1" font-size="11" text-anchor="middle" font-weight="normal" font-style="normal" fill="#000">&#8722;100</text>
<line x1="392.4" y1="643" x2="392.4" y2="648.5" stroke="#000" stroke-width="2.4" stroke-linecap="butt"/>
<text x="392.4" y="661.1" font-size="11" text-anchor="middle" font-weight="normal" font-style="normal" fill="#000">&#8722;200</text>
<line x1="430.2" y1="643" x2="430.2" y2="648.5" stroke="#000" stroke-width="2.4" stroke-linecap="butt"/>
<text x="430.2" y="661.1" font-size="11" text-anchor="middle" font-weight="normal" font-style="normal" fill="#000">&#8722;300</text>
<text x="388.2" y="677.8" font-size="14.2" text-anchor="middle" font-weight="normal" font-style="normal" fill="#000">Amplitude (pA)</text>
<text x="280" y="593.5" font-size="14" text-anchor="middle" font-weight="normal" font-style="normal" fill="#000" transform="rotate(-90 280 593.5)">Percent of Events</text>
<g clip-path="url(#cK)">
<polyline points="328,643 328,642.8 331.8,622.8 335.6,603.6 339.4,586.8 343.1,573.2 346.9,563.1 350.7,556.1 354.5,551.3 358.2,548.2 362,546 365.8,544.4 369.6,543.2 373.4,542.2 377.1,541.4 380.9,540.7 384.7,540.2 388.5,539.8 392.2,539.5 396,539.2 399.8,539 403.6,538.9 407.3,538.8 411.1,538.7 414.9,538.6 418.7,538.6 470,538.6" fill="none" stroke="#333333" stroke-width="1.4" stroke-linejoin="round"/>
<polyline points="328.5,643 331.8,628.9 335.6,612.2 339.4,596 343.1,581.6 346.9,569.9 350.7,561.1 354.5,554.8 358.2,550.5 362,547.6 365.8,545.6 369.6,544.1 373.4,543 377.1,542.2 380.9,541.5 384.7,540.9 388.5,540.5 392.2,540.1 396,539.8 399.8,539.6 403.6,539.5 407.3,539.3 411.1,539.3 414.9,539.2 418.7,539.1 470,539.1" fill="none" stroke="#333333" stroke-width="1.4" stroke-linejoin="round"/>
<polyline points="329,643 331.8,630.5 335.6,613.6 339.4,597.8 343.1,583.9 346.9,572.6 350.7,563.7 354.5,557.2 358.2,552.6 362,549.4 365.8,547 369.6,545.4 373.4,544.1 377.1,543 380.9,542.2 384.7,541.5 388.5,540.9 392.2,540.4 396,540 399.8,539.7 403.6,539.4 407.3,539.2 411.1,539 414.9,538.9 418.7,538.8 422.5,538.7 426.2,538.7 430,538.6 433.8,538.6 470,538.6" fill="none" stroke="#333333" stroke-width="1.4" stroke-linejoin="round"/>
<polyline points="329.5,643 331.8,634.4 335.6,620 339.4,605.7 343.1,592.5 346.9,580.8 350.7,571.1 354.5,563.5 358.2,557.7 362,553.4 365.8,550.3 369.6,548.1 373.4,546.4 377.1,545.2 380.9,544.2 384.7,543.4 388.5,542.7 392.2,542.1 396,541.6 399.8,541.2 403.6,540.9 407.3,540.6 411.1,540.4 414.9,540.2 418.7,540 422.5,539.9 426.2,539.8 430,539.8 433.8,539.7 437.6,539.7 441.3,539.6 470,539.6" fill="none" stroke="#333333" stroke-width="1.4" stroke-linejoin="round"/>
<polyline points="330,643 331.8,635.8 335.6,620.8 339.4,606.5 343.1,593.5 346.9,582.2 350.7,572.8 354.5,565.3 358.2,559.4 362,555 365.8,551.7 369.6,549.3 373.4,547.4 377.1,545.9 380.9,544.8 384.7,543.8 388.5,543 392.2,542.3 396,541.7 399.8,541.2 403.6,540.7 407.3,540.3 411.1,540 414.9,539.7 418.7,539.5 422.5,539.3 426.2,539.1 430,539 433.8,538.9 437.6,538.8 441.3,538.8 445.1,538.7 448.9,538.7 452.7,538.6 470,538.6" fill="none" stroke="#333333" stroke-width="1.4" stroke-linejoin="round"/>
<polyline points="330.3,643 331.8,638.2 335.6,625.4 339.4,612.1 343.1,599.1 346.9,586.9 350.7,576.3 354.5,567.5 358.2,560.6 362,555.3 365.8,551.4 369.6,548.6 373.4,546.6 377.1,545.1 380.9,544 384.7,543.1 388.5,542.3 392.2,541.7 396,541.2 399.8,540.8 403.6,540.4 407.3,540.1 411.1,539.9 414.9,539.7 418.7,539.6 422.5,539.4 426.2,539.3 430,539.3 433.8,539.2 437.6,539.2 441.3,539.1 470,539.1" fill="none" stroke="#333333" stroke-width="1.4" stroke-linejoin="round"/>
<polyline points="330.6,643 331.8,639.2 335.6,626.6 339.4,613.4 343.1,600.4 346.9,588.2 350.7,577.5 354.5,568.5 358.2,561.3 362,555.8 365.8,551.7 369.6,548.7 373.4,546.6 377.1,545 380.9,543.8 384.7,542.8 388.5,542 392.2,541.4 396,540.9 399.8,540.4 403.6,540 407.3,539.7 411.1,539.5 414.9,539.3 418.7,539.1 422.5,539 426.2,538.9 430,538.8 433.8,538.7 437.6,538.7 441.3,538.6 445.1,538.6 470,538.6" fill="none" stroke="#333333" stroke-width="1.4" stroke-linejoin="round"/>
<polyline points="331,643 331.8,640.3 335.6,627.9 339.4,615.7 343.1,604.2 346.9,593.6 350.7,584.2 354.5,576.1 358.2,569.3 362,563.7 365.8,559.2 369.6,555.7 373.4,552.9 377.1,550.8 380.9,549.1 384.7,547.7 388.5,546.6 392.2,545.7 396,544.9 399.8,544.2 403.6,543.6 407.3,543 411.1,542.6 414.9,542.1 418.7,541.8 422.5,541.4 426.2,541.2 430,540.9 433.8,540.7 437.6,540.5 441.3,540.3 445.1,540.2 448.9,540.1 452.7,540 456.4,539.9 460.2,539.9 464,539.8 467.8,539.8 471.6,539.7 470,539.7" fill="none" stroke="#333333" stroke-width="1.4" stroke-linejoin="round"/>
<polyline points="331.3,643 331.8,641.6 335.6,630.4 339.4,618.5 343.1,606.4 346.9,594.8 350.7,584.1 354.5,574.7 358.2,566.8 362,560.5 365.8,555.5 369.6,551.8 373.4,548.9 377.1,546.9 380.9,545.3 384.7,544.1 388.5,543.1 392.2,542.4 396,541.7 399.8,541.2 403.6,540.7 407.3,540.3 411.1,540 414.9,539.7 418.7,539.5 422.5,539.3 426.2,539.1 430,539 433.8,538.9 437.6,538.8 441.3,538.7 445.1,538.7 448.9,538.6 452.7,538.6 470,538.6" fill="none" stroke="#333333" stroke-width="1.4" stroke-linejoin="round"/>
<polyline points="331.6,643 331.8,642.4 335.6,631 339.4,619.7 343.1,608.8 346.9,598.5 350.7,589.1 354.5,580.8 358.2,573.6 362,567.5 365.8,562.4 369.6,558.4 373.4,555.1 377.1,552.5 380.9,550.4 384.7,548.7 388.5,547.4 392.2,546.3 396,545.4 399.8,544.6 403.6,543.9 407.3,543.3 411.1,542.8 414.9,542.3 418.7,541.9 422.5,541.5 426.2,541.1 430,540.8 433.8,540.6 437.6,540.4 441.3,540.2 445.1,540 448.9,539.8 452.7,539.7 456.4,539.6 460.2,539.5 464,539.4 467.8,539.4 471.6,539.3 470,539.3" fill="none" stroke="#333333" stroke-width="1.4" stroke-linejoin="round"/>
<polyline points="332,643 335.6,633.2 339.4,622.8 343.1,612.6 346.9,602.8 350.7,593.6 354.5,585.3 358.2,577.9 362,571.5 365.8,566 369.6,561.5 373.4,557.8 377.1,554.8 380.9,552.4 384.7,550.5 388.5,549 392.2,547.7 396,546.6 399.8,545.8 403.6,545 407.3,544.3 411.1,543.8 414.9,543.3 418.7,542.8 422.5,542.4 426.2,542 430,541.7 433.8,541.4 437.6,541.2 441.3,540.9 445.1,540.7 448.9,540.6 452.7,540.4 456.4,540.3 460.2,540.2 464,540.1 467.8,540 471.6,539.9 470,539.9" fill="none" stroke="#333333" stroke-width="1.4" stroke-linejoin="round"/>
<polyline points="332.3,643 335.6,634.5 339.4,624.4 343.1,614.2 346.9,604.3 350.7,594.8 354.5,586.1 358.2,578.2 362,571.4 365.8,565.5 369.6,560.7 373.4,556.7 377.1,553.5 380.9,551 384.7,549 388.5,547.4 392.2,546.1 396,545 399.8,544.2 403.6,543.4 407.3,542.8 411.1,542.2 414.9,541.7 418.7,541.3 422.5,540.9 426.2,540.6 430,540.3 433.8,540 437.6,539.8 441.3,539.6 445.1,539.4 448.9,539.3 452.7,539.2 456.4,539 460.2,539 464,538.9 467.8,538.8 471.6,538.8 470,538.8" fill="none" stroke="#333333" stroke-width="1.4" stroke-linejoin="round"/>
<polyline points="332.5,643 335.6,636.3 339.4,627.7 343.1,618.8 346.9,609.7 350.7,600.9 354.5,592.4 358.2,584.6 362,577.4 365.8,571.1 369.6,565.7 373.4,561.1 377.1,557.3 380.9,554.3 384.7,551.8 388.5,549.8 392.2,548.2 396,546.9 399.8,545.9 403.6,545 407.3,544.3 411.1,543.7 414.9,543.2 418.7,542.7 422.5,542.3 426.2,541.9 430,541.6 433.8,541.3 437.6,541.1 441.3,540.8 445.1,540.7 448.9,540.5 452.7,540.3 456.4,540.2 460.2,540.1 464,540 467.8,539.9 471.6,539.9 470,539.9" fill="none" stroke="#333333" stroke-width="1.4" stroke-linejoin="round"/>
<polyline points="332.7,643 335.6,637.2 339.4,629.3 343.1,621.2 346.9,613 350.7,604.8 354.5,597 358.2,589.5 362,582.7 365.8,576.4 369.6,570.9 373.4,566.1 377.1,562 380.9,558.5 384.7,555.6 388.5,553.2 392.2,551.3 396,549.7 399.8,548.4 403.6,547.3 407.3,546.4 411.1,545.6 414.9,544.9 418.7,544.4 422.5,543.9 426.2,543.4 430,543 433.8,542.7 437.6,542.4 441.3,542.1 445.1,541.8 448.9,541.6 452.7,541.4 456.4,541.2 460.2,541.1 464,540.9 467.8,540.8 471.6,540.7 470,540.7" fill="none" stroke="#333333" stroke-width="1.4" stroke-linejoin="round"/>
<polyline points="325.9,643 328,624.5 331.8,593.8 335.6,570.9 339.4,557 343.1,549.8 346.9,546 350.7,543.7 354.5,542.2 358.2,541.1 362,540.3 365.8,539.8 369.6,539.5 373.4,539.3 377.1,539.2 380.9,539.1 470,539.1" fill="none" stroke="#8393fc" stroke-width="1.1" stroke-linejoin="round"/>
<polyline points="326.3,643 328,630 331.8,599.2 335.6,572.8 339.4,556.2 343.1,547.8 346.9,543.9 350.7,541.8 354.5,540.5 358.2,539.7 362,539.2 365.8,538.9 369.6,538.7 373.4,538.6 470,538.6" fill="none" stroke="#8393fc" stroke-width="1.1" stroke-linejoin="round"/>
<polyline points="326.8,643 328,635.5 331.8,610.1 335.6,585.5 339.4,566.7 343.1,555.1 346.9,548.8 350.7,545.6 354.5,543.7 358.2,542.4 362,541.6 365.8,541 369.6,540.6 373.4,540.4 377.1,540.3 380.9,540.2 470,540.2" fill="none" stroke="#8393fc" stroke-width="1.1" stroke-linejoin="round"/>
<polyline points="327.2,643 328,637.9 331.8,612.5 335.6,587.7 339.4,568.4 343.1,556 346.9,549.3 350.7,545.7 354.5,543.6 358.2,542.2 362,541.3 365.8,540.7 369.6,540.2 373.4,540 377.1,539.8 380.9,539.7 384.7,539.6 470,539.6" fill="none" stroke="#8393fc" stroke-width="1.1" stroke-linejoin="round"/>
<polyline points="327.6,643 328,641 331.8,620.7 335.6,598.3 339.4,577.8 343.1,562.4 346.9,552.5 350.7,547 354.5,543.9 358.2,542.1 362,541 365.8,540.1 369.6,539.6 373.4,539.2 377.1,538.9 380.9,538.8 384.7,538.7 388.5,538.6 470,538.6" fill="none" stroke="#8393fc" stroke-width="1.1" stroke-linejoin="round"/>
<polyline points="328,643 328,642.8 331.8,621.2 335.6,600 339.4,581.8 343.1,567.9 346.9,558.3 350.7,552.2 354.5,548.5 358.2,546.1 362,544.4 365.8,543.2 369.6,542.3 373.4,541.5 377.1,541 380.9,540.6 384.7,540.3 388.5,540 392.2,539.9 396,539.8 399.8,539.7 403.6,539.6 470,539.6" fill="none" stroke="#8393fc" stroke-width="1.1" stroke-linejoin="round"/>
<polyline points="328.4,643 331.8,626.7 335.6,606.2 339.4,586.2 343.1,569.9 346.9,558.6 350.7,551.8 354.5,547.9 358.2,545.6 362,544.2 365.8,543.3 369.6,542.6 373.4,542.1 377.1,541.7 380.9,541.5 384.7,541.4 388.5,541.3 392.2,541.2 470,541.2" fill="none" stroke="#8393fc" stroke-width="1.1" stroke-linejoin="round"/>
<polyline points="328.8,643 331.8,629.1 335.6,611.8 339.4,595.8 343.1,582 346.9,570.9 350.7,562.4 354.5,556.3 358.2,552 362,549 365.8,546.9 369.6,545.4 373.4,544.1 377.1,543.2 380.9,542.4 384.7,541.7 388.5,541.1 392.2,540.7 396,540.3 399.8,540 403.6,539.8 407.3,539.6 411.1,539.5 414.9,539.3 418.7,539.3 422.5,539.2 426.2,539.2 430,539.1 470,539.1" fill="none" stroke="#8393fc" stroke-width="1.1" stroke-linejoin="round"/>
<polyline points="329.2,643 331.8,631.5 335.6,614.7 339.4,598.7 343.1,584.6 346.9,573 350.7,564.1 354.5,557.6 358.2,553.1 362,550 365.8,547.8 369.6,546.2 373.4,545 377.1,544 380.9,543.2 384.7,542.6 388.5,542 392.2,541.6 396,541.2 399.8,541 403.6,540.7 407.3,540.6 411.1,540.4 414.9,540.3 418.7,540.3 422.5,540.2 426.2,540.2 470,540.2" fill="none" stroke="#8393fc" stroke-width="1.1" stroke-linejoin="round"/>
<polyline points="329.6,643 331.8,634.1 335.6,618.7 339.4,603.8 343.1,590.1 346.9,578.4 350.7,569 354.5,561.7 358.2,556.2 362,552.3 365.8,549.5 369.6,547.5 373.4,546 377.1,544.8 380.9,543.9 384.7,543.1 388.5,542.4 392.2,541.9 396,541.4 399.8,541 403.6,540.7 407.3,540.5 411.1,540.3 414.9,540.1 418.7,540 422.5,539.9 426.2,539.8 430,539.7 433.8,539.7 437.6,539.7 470,539.7" fill="none" stroke="#8393fc" stroke-width="1.1" stroke-linejoin="round"/>
<polyline points="330,643 331.8,636.9 335.6,623.7 339.4,610.3 343.1,597.4 346.9,585.6 350.7,575.4 354.5,566.9 358.2,560.3 362,555.2 365.8,551.4 369.6,548.7 373.4,546.6 377.1,545.1 380.9,543.9 384.7,543 388.5,542.2 392.2,541.6 396,541 399.8,540.6 403.6,540.2 407.3,539.8 411.1,539.6 414.9,539.4 418.7,539.2 422.5,539 426.2,538.9 430,538.8 433.8,538.7 437.6,538.7 441.3,538.6 445.1,538.6 470,538.6" fill="none" stroke="#8393fc" stroke-width="1.1" stroke-linejoin="round"/>
</g>
<rect x="313.2" y="529.4" width="149.3" height="113.6" fill="none" stroke="#000" stroke-width="2.3"/>
<line x1="312" y1="643" x2="463.7" y2="643" stroke="#000" stroke-width="2.7"/>
<line x1="527.6" y1="298.9" x2="533.6" y2="298.9" stroke="#000" stroke-width="2.4" stroke-linecap="butt"/>
<text x="525.3" y="302.8" font-size="11" text-anchor="end" font-weight="normal" font-style="normal" fill="#000">0</text>
<line x1="527.6" y1="272.8" x2="533.6" y2="272.8" stroke="#000" stroke-width="2.4" stroke-linecap="butt"/>
<text x="525.3" y="276.7" font-size="11" text-anchor="end" font-weight="normal" font-style="normal" fill="#000">25</text>
<line x1="527.6" y1="246.7" x2="533.6" y2="246.7" stroke="#000" stroke-width="2.4" stroke-linecap="butt"/>
<text x="525.3" y="250.6" font-size="11" text-anchor="end" font-weight="normal" font-style="normal" fill="#000">50</text>
<line x1="527.6" y1="220.5" x2="533.6" y2="220.5" stroke="#000" stroke-width="2.4" stroke-linecap="butt"/>
<text x="525.3" y="224.4" font-size="11" text-anchor="end" font-weight="normal" font-style="normal" fill="#000">75</text>
<line x1="527.6" y1="194.4" x2="533.6" y2="194.4" stroke="#000" stroke-width="2.4" stroke-linecap="butt"/>
<text x="525.3" y="198.3" font-size="11" text-anchor="end" font-weight="normal" font-style="normal" fill="#000">100</text>
<line x1="539.5" y1="298.9" x2="539.5" y2="304.4" stroke="#000" stroke-width="2.4" stroke-linecap="butt"/>
<text x="539.5" y="316.5" font-size="11.5" text-anchor="middle" font-weight="normal" font-style="normal" fill="#000">0</text>
<line x1="571.8" y1="298.9" x2="571.8" y2="304.4" stroke="#000" stroke-width="2.4" stroke-linecap="butt"/>
<text x="571.8" y="316.5" font-size="11.5" text-anchor="middle" font-weight="normal" font-style="normal" fill="#000">2500</text>
<line x1="604.2" y1="298.9" x2="604.2" y2="304.4" stroke="#000" stroke-width="2.4" stroke-linecap="butt"/>
<text x="604.2" y="316.5" font-size="11.5" text-anchor="middle" font-weight="normal" font-style="normal" fill="#000">5000</text>
<line x1="636.5" y1="298.9" x2="636.5" y2="304.4" stroke="#000" stroke-width="2.4" stroke-linecap="butt"/>
<text x="636.5" y="316.5" font-size="11.5" text-anchor="middle" font-weight="normal" font-style="normal" fill="#000">7500</text>
<line x1="668.9" y1="298.9" x2="668.9" y2="304.4" stroke="#000" stroke-width="2.4" stroke-linecap="butt"/>
<text x="668.9" y="316.5" font-size="11.5" text-anchor="middle" font-weight="normal" font-style="normal" fill="#000">10000</text>
<text x="609" y="333.3" font-size="14.2" text-anchor="middle" font-weight="normal" font-style="normal" fill="#000">IEI (ms)</text>
<text x="500" y="249.3" font-size="14" text-anchor="middle" font-weight="normal" font-style="normal" fill="#000" transform="rotate(-90 500 249.3)">Percent of Events</text>
<g clip-path="url(#cF)">
<polyline points="539.5,298.9 539.8,298.5 540.2,296.8 540.6,294.2 541,290.8 541.4,286.9 541.8,282.6 542.2,278.1 542.6,273.5 543,268.8 543.4,264.2 543.8,259.7 544.2,255.2 544.6,251 545,246.9 545.4,243 545.8,239.4 546.2,235.9 546.6,232.7 547,229.6 547.4,226.8 547.8,224.1 548.2,221.7 548.6,219.4 549,217.3 549.4,215.3 549.8,213.5 550.2,211.9 550.6,210.4 551,209 551.4,207.7 551.5,207.4 553.5,202.6 555.5,199.6 557.5,197.7 559.5,196.6 561.5,195.9 563.5,195.5 565.5,195.3 567.5,195.1 569.5,195.1 571.5,195 690,195" fill="none" stroke="#ad82fc" stroke-width="1.2" stroke-linejoin="round"/>
<polyline points="539.5,298.9 539.8,298.5 540.2,297.3 540.6,295.5 541,293.2 541.4,290.6 541.8,287.7 542.2,284.7 542.6,281.5 543,278.3 543.4,275 543.8,271.7 544.2,268.4 544.6,265.2 545,262 545.4,258.9 545.8,255.8 546.2,252.8 546.6,250 547,247.2 547.4,244.5 547.8,241.9 548.2,239.4 548.6,237.1 549,234.8 549.4,232.6 549.8,230.5 550.2,228.6 550.6,226.7 551,224.9 551.4,223.2 551.5,222.8 553.5,215.6 555.5,210.2 557.5,206.1 559.5,203.2 561.5,201 563.5,199.4 565.5,198.3 567.5,197.4 569.5,196.9 571.5,196.5 573.5,196.2 575.5,196 577.5,195.8 579.5,195.7 581.5,195.6 583.5,195.6 585.5,195.5 690,195.5" fill="none" stroke="#ad82fc" stroke-width="1.2" stroke-linejoin="round"/>
<polyline points="539.5,298.9 539.8,298.5 540.2,297.5 540.6,296 541,294.3 541.4,292.4 541.8,290.3 542.2,288.2 542.6,285.9 543,283.6 543.4,281.2 543.8,278.8 544.2,276.4 544.6,274 545,271.6 545.4,269.3 545.8,266.9 546.2,264.6 546.6,262.4 547,260.1 547.4,257.9 547.8,255.8 548.2,253.7 548.6,251.6 549,249.6 549.4,247.7 549.8,245.8 550.2,243.9 550.6,242.1 551,240.4 551.4,238.7 551.5,238.3 553.5,230.7 555.5,224.2 557.5,218.9 559.5,214.4 561.5,210.8 563.5,207.8 565.5,205.4 567.5,203.4 569.5,201.8 571.5,200.5 573.5,199.5 575.5,198.7 577.5,198 579.5,197.5 581.5,197.1 583.5,196.7 585.5,196.5 587.5,196.3 589.5,196.1 591.5,196 593.5,195.9 595.5,195.8 597.5,195.7 599.5,195.7 601.5,195.6 603.5,195.6 605.5,195.6 690,195.6" fill="none" stroke="#ad82fc" stroke-width="1.2" stroke-linejoin="round"/>
<polyline points="539.5,298.9 539.8,298.6 540.2,297.8 540.6,296.7 541,295.4 541.4,293.9 541.8,292.3 542.2,290.6 542.6,288.8 543,287 543.4,285.1 543.8,283.2 544.2,281.2 544.6,279.2 545,277.2 545.4,275.3 545.8,273.3 546.2,271.3 546.6,269.3 547,267.4 547.4,265.5 547.8,263.6 548.2,261.7 548.6,259.9 549,258 549.4,256.3 549.8,254.5 550.2,252.8 550.6,251.1 551,249.5 551.4,247.8 551.5,247.4 553.5,240 555.5,233.4 557.5,227.7 559.5,222.7 561.5,218.5 563.5,214.9 565.5,211.8 567.5,209.2 569.5,207 571.5,205.1 573.5,203.6 575.5,202.3 577.5,201.2 579.5,200.3 581.5,199.6 583.5,199 585.5,198.4 587.5,198 589.5,197.7 591.5,197.4 593.5,197.1 595.5,196.9 597.5,196.8 599.5,196.6 601.5,196.5 603.5,196.4 605.5,196.3 607.5,196.3 609.5,196.2 611.5,196.2 613.5,196.1 615.5,196.1 617.5,196.1 619.5,196.1 690,196.1" fill="none" stroke="#ad82fc" stroke-width="1.2" stroke-linejoin="round"/>
<polyline points="539.5,298.9 541,288 543,278 545.5,270 547.5,264 549.1,260.8 553.2,246.4 557.3,234.1 561.5,224.8 566.6,215.6 572.8,210.4 579,207.3 586.2,204.3 595,201.2 605.7,199.5 613,198.5 627.6,197 685,196" fill="none" stroke="#ad82fc" stroke-width="1.4" stroke-linejoin="round"/>
<polyline points="539.5,298.9 541.5,290 544,283 547,276 550,270 553.2,265 557.3,252.6 562.5,239.2 567.6,233.1 573.8,227.9 580,227.2 581,224.8 589.2,218 598.4,214.9 610.7,210.3 626,208 650,205 685,203.5" fill="none" stroke="#ad82fc" stroke-width="1.4" stroke-linejoin="round"/>
<polyline points="539.5,298.9 542,280 545,262 548,247 550.6,238 554,225 557.9,213.4 562,207 566.7,203.1 574,198.8 590,196.5 685,195.5" fill="none" stroke="#ad82fc" stroke-width="1.4" stroke-linejoin="round"/>
<polyline points="539.5,298.9 542,287 546,275 550,264 554,255 558,246 561,240 565.2,230 569,226 572.5,221.4 576,217.5 579.8,214.1 589.2,210.3 598.4,208.8 607.6,206.5 613.7,205 622.9,203.4 633.6,201.9 649,200.4 665.8,198.8 685,198.1" fill="none" stroke="#ad82fc" stroke-width="1.4" stroke-linejoin="round"/>
<polyline points="539.7,298.9 540.5,298.9 540.5,293 542.5,293 542.5,287.6 549.8,287.6 549.8,275.3 585.6,275.3 585.6,264.7 586.5,264.7 586.5,260 588.7,260 588.7,251.7 591.5,251.7 591.5,247.1 595.3,247.1 595.3,246.8 596.1,246.8 596.1,241.7 600.7,241.7 600.7,232.5 612.2,232.5 612.2,228.7 625.2,228.7 625.2,218 631.3,218 631.3,213.4 658.2,213.4 658.2,208.8 668,208.8 668,206.5 685,206.5 685,206.5" fill="none" stroke="#ad82fc" stroke-width="1.4" stroke-linejoin="round" stroke-linejoin="miter"/>
<polyline points="539.7,298.9 540.5,298.9 540.5,291 542,291 542,287 545,287 545,285 548,285 548,280 552,280 552,275.3 560.3,275.3 560.3,270.6 570.3,270.6 570.3,256.5 576.2,256.5 576.2,251.7 607.2,251.7 607.2,241 612.2,241 612.2,223.4 636.7,223.4 636.7,207.3 650.5,207.3 650.5,205 668.9,205 668.9,200 678,200 678,198.5 685,198.5 685,198.5" fill="none" stroke="#ad82fc" stroke-width="1.4" stroke-linejoin="round" stroke-linejoin="miter"/>
<polyline points="539.5,298.9 539.8,297.4 540.2,287 540.6,269.7 541,251.1 541.4,234.7 541.8,221.8 542.2,212.4 542.6,205.9 543,201.6 543.4,198.9 543.8,197.1 544.2,196 544.6,195.4 545,195 545.4,194.7 545.8,194.6 546.2,194.5 546.6,194.5 690,194.5" fill="none" stroke="#333333" stroke-width="1.1" stroke-linejoin="round"/>
<polyline points="539.5,298.9 539.8,298.1 540.2,291.7 540.6,279.7 541,265 541.4,250.2 541.8,236.9 542.2,225.9 542.6,217.2 543,210.5 543.4,205.7 543.8,202.2 544.2,199.7 544.6,198 545,196.8 545.4,196 545.8,195.5 546.2,195.1 546.6,194.9 547,194.7 547.4,194.6 547.8,194.5 548.2,194.5 690,194.5" fill="none" stroke="#333333" stroke-width="1.1" stroke-linejoin="round"/>
<polyline points="539.5,298.9 539.8,298.4 540.2,294.2 540.6,285.7 541,274.3 541.4,261.8 541.8,249.6 542.2,238.4 542.6,228.8 543,220.9 543.4,214.5 543.8,209.4 544.2,205.5 544.6,202.5 545,200.3 545.4,198.7 545.8,197.5 546.2,196.6 546.6,196 547,195.5 547.4,195.2 547.8,195 548.2,194.8 548.6,194.7 549,194.6 549.4,194.5 549.8,194.5 690,194.5" fill="none" stroke="#333333" stroke-width="1.1" stroke-linejoin="round"/>
<polyline points="539.5,298.9 539.8,298.6 540.2,295.7 540.6,289.5 541,280.7 541.4,270.3 541.8,259.6 542.2,249.1 542.6,239.6 543,231.1 543.4,223.8 543.8,217.7 544.2,212.7 544.6,208.6 545,205.4 545.4,202.8 545.8,200.8 546.2,199.3 546.6,198.1 547,197.2 547.4,196.5 547.8,195.9 548.2,195.5 548.6,195.3 549,195 549.4,194.9 549.8,194.8 550.2,194.7 550.6,194.6 551,194.5 551.4,194.5 690,194.5" fill="none" stroke="#333333" stroke-width="1.1" stroke-linejoin="round"/>
<polyline points="539.5,298.9 539.8,298.7 540.2,296.6 540.6,292 541,285.1 541.4,276.6 541.8,267.3 542.2,257.9 542.6,248.8 543,240.4 543.4,232.8 543.8,226.2 544.2,220.4 544.6,215.5 545,211.5 545.4,208.1 545.8,205.3 546.2,203 546.6,201.2 547,199.8 547.4,198.6 547.8,197.7 548.2,196.9 548.6,196.4 549,195.9 549.4,195.6 549.8,195.3 550.2,195.1 550.6,194.9 551,194.8 551.4,194.7 551.5,194.7 553.5,194.5 690,194.5" fill="none" stroke="#333333" stroke-width="1.1" stroke-linejoin="round"/>
<polyline points="539.5,298.9 539.8,298.7 540.2,297.2 540.6,293.7 541,288.2 541.4,281.2 541.8,273.3 542.2,265 542.6,256.6 543,248.6 543.4,241.1 543.8,234.2 544.2,228.1 544.6,222.7 545,218 545.4,214 545.8,210.5 546.2,207.6 546.6,205.2 547,203.2 547.4,201.5 547.8,200.2 548.2,199 548.6,198.1 549,197.4 549.4,196.8 549.8,196.3 550.2,195.9 550.6,195.6 551,195.4 551.4,195.2 551.5,195.1 553.5,194.6 555.5,194.5 690,194.5" fill="none" stroke="#333333" stroke-width="1.1" stroke-linejoin="round"/>
<polyline points="539.5,298.9 539.8,298.7 540.2,297.3 540.6,294.3 541,289.6 541.4,283.7 541.8,277 542.2,269.8 542.6,262.5 543,255.3 543.4,248.3 543.8,241.8 544.2,235.8 544.6,230.3 545,225.4 545.4,221 545.8,217.1 546.2,213.8 546.6,210.8 547,208.3 547.4,206.1 547.8,204.2 548.2,202.6 548.6,201.3 549,200.1 549.4,199.2 549.8,198.4 550.2,197.7 550.6,197.1 551,196.6 551.4,196.2 551.5,196.2 553.5,195.1 555.5,194.7 557.5,194.5 690,194.5" fill="none" stroke="#333333" stroke-width="1.1" stroke-linejoin="round"/>
<polyline points="539.5,298.9 539.8,298.8 540.2,297.7 540.6,295.4 541,291.7 541.4,287 541.8,281.4 542.2,275.2 542.6,268.8 543,262.3 543.4,255.9 543.8,249.7 544.2,243.8 544.6,238.2 545,233.1 545.4,228.5 545.8,224.3 546.2,220.4 546.6,217 547,214 547.4,211.4 547.8,209 548.2,207 548.6,205.2 549,203.6 549.4,202.3 549.8,201.1 550.2,200.1 550.6,199.2 551,198.5 551.4,197.9 551.5,197.7 553.5,195.8 555.5,195 557.5,194.7 559.5,194.5 690,194.5" fill="none" stroke="#333333" stroke-width="1.1" stroke-linejoin="round"/>
<polyline points="539.5,298.9 539.8,298.8 540.2,297.8 540.6,295.6 541,292.5 541.4,288.4 541.8,283.7 542.2,278.4 542.6,272.9 543,267.2 543.4,261.5 543.8,256 544.2,250.6 544.6,245.4 545,240.5 545.4,236 545.8,231.7 546.2,227.8 546.6,224.2 547,220.9 547.4,217.9 547.8,215.3 548.2,212.8 548.6,210.7 549,208.7 549.4,207 549.8,205.4 550.2,204.1 550.6,202.9 551,201.8 551.4,200.9 551.5,200.6 553.5,197.5 555.5,195.9 557.5,195.1 559.5,194.8 561.5,194.6 563.5,194.5 690,194.5" fill="none" stroke="#333333" stroke-width="1.1" stroke-linejoin="round"/>
<polyline points="539.5,298.9 539.8,298.8 540.2,298 540.6,296.4 541,293.9 541.4,290.6 541.8,286.7 542.2,282.3 542.6,277.5 543,272.5 543.4,267.5 543.8,262.4 544.2,257.4 544.6,252.5 545,247.8 545.4,243.3 545.8,239.1 546.2,235.1 546.6,231.3 547,227.8 547.4,224.6 547.8,221.6 548.2,218.9 548.6,216.4 549,214.1 549.4,212 549.8,210.2 550.2,208.5 550.6,206.9 551,205.6 551.4,204.3 551.5,204 553.5,199.6 555.5,197.2 557.5,195.9 559.5,195.2 561.5,194.8 563.5,194.6 565.5,194.5 690,194.5" fill="none" stroke="#333333" stroke-width="1.1" stroke-linejoin="round"/>
<polyline points="539.5,298.9 539.8,298.8 540.2,298.1 540.6,296.7 541,294.5 541.4,291.7 541.8,288.4 542.2,284.6 542.6,280.5 543,276.2 543.4,271.8 543.8,267.3 544.2,262.8 544.6,258.3 545,253.9 545.4,249.7 545.8,245.7 546.2,241.8 546.6,238.1 547,234.6 547.4,231.3 547.8,228.2 548.2,225.3 548.6,222.7 549,220.2 549.4,217.9 549.8,215.8 550.2,213.8 550.6,212 551,210.3 551.4,208.8 551.5,208.5 553.5,202.8 555.5,199.3 557.5,197.2 559.5,196 561.5,195.3 563.5,194.9 565.5,194.7 567.5,194.6 569.5,194.5 690,194.5" fill="none" stroke="#333333" stroke-width="1.1" stroke-linejoin="round"/>
<polyline points="539.5,298.9 539.8,298.8 540.2,298.2 540.6,297 541,295.2 541.4,292.9 541.8,290.2 542.2,287 542.6,283.6 543,280 543.4,276.2 543.8,272.3 544.2,268.4 544.6,264.4 545,260.5 545.4,256.7 545.8,252.9 546.2,249.3 546.6,245.8 547,242.4 547.4,239.2 547.8,236.1 548.2,233.2 548.6,230.4 549,227.8 549.4,225.3 549.8,223 550.2,220.8 550.6,218.8 551,216.9 551.4,215.1 551.5,214.7 553.5,207.7 555.5,202.9 557.5,199.8 559.5,197.8 561.5,196.5 563.5,195.7 565.5,195.2 567.5,194.9 569.5,194.7 571.5,194.6 573.5,194.5 690,194.5" fill="none" stroke="#333333" stroke-width="1.1" stroke-linejoin="round"/>
<polyline points="539.5,298.9 539.8,298.8 540.2,298.3 540.6,297.3 541,295.8 541.4,293.9 541.8,291.7 542.2,289.2 542.6,286.4 543,283.3 543.4,280.2 543.8,276.9 544.2,273.6 544.6,270.2 545,266.8 545.4,263.4 545.8,260.1 546.2,256.8 546.6,253.6 547,250.5 547.4,247.4 547.8,244.5 548.2,241.6 548.6,238.9 549,236.3 549.4,233.7 549.8,231.4 550.2,229.1 550.6,226.9 551,224.8 551.4,222.9 551.5,222.4 553.5,214.3 555.5,208.3 557.5,204 559.5,200.9 561.5,198.8 563.5,197.4 565.5,196.4 567.5,195.7 569.5,195.3 571.5,195 573.5,194.8 575.5,194.7 577.5,194.6 579.5,194.5 690,194.5" fill="none" stroke="#333333" stroke-width="1.1" stroke-linejoin="round"/>
<polyline points="539.5,298.9 539.8,298.8 540.2,298.3 540.6,297.5 541,296.2 541.4,294.6 541.8,292.7 542.2,290.6 542.6,288.2 543,285.7 543.4,283 543.8,280.2 544.2,277.3 544.6,274.4 545,271.5 545.4,268.5 545.8,265.5 546.2,262.6 546.6,259.7 547,256.8 547.4,254 547.8,251.3 548.2,248.6 548.6,246 549,243.5 549.4,241.1 549.8,238.7 550.2,236.4 550.6,234.3 551,232.2 551.4,230.2 551.5,229.7 553.5,221 555.5,214.1 557.5,208.9 559.5,205 561.5,202 563.5,199.9 565.5,198.3 567.5,197.2 569.5,196.4 571.5,195.8 573.5,195.4 575.5,195.1 577.5,194.9 579.5,194.8 581.5,194.6 583.5,194.6 585.5,194.5 587.5,194.5 690,194.5" fill="none" stroke="#333333" stroke-width="1.1" stroke-linejoin="round"/>
<polyline points="539.5,298.9 541,285 543,272 545,266 547.1,260.8 549.5,248 552.2,238.2 556.3,225.9 560.4,216.6 564.5,209.4 567.1,205.8 570.2,203.2 575.9,199.6 584.1,197.6 600,196.5 640,195.5 685,195.2" fill="none" stroke="#333333" stroke-width="1.6" stroke-linejoin="round"/>
<polyline points="539.5,298.9 541.5,287 544,276 547,268 549,264 551.2,260.8 555.3,246.4 559.4,234.1 563.5,223.8 567.6,216.6 572.8,211.5 579,206.3 586.2,202.7 594.4,200.7 605.7,198.5 627.6,197 685,196" fill="none" stroke="#333333" stroke-width="1.6" stroke-linejoin="round"/>
<polyline points="539.5,298.9 540.5,290 542.4,279.6 548.1,272.8 552.6,270.5 556,268 559,266.5 561.5,265 563,259 565.6,256.7 568.7,256.7 570,249 572.8,243.4 575.9,242.3 579,236.2 582,235.1 584.5,231 587.2,229 590.3,224.8 595,224.3 599.2,224.1 602.8,218.7 604.5,216.5 607.6,214.6 616.8,213.1 621.8,211.4 626,210.3 636.7,209.6 641.3,208 650.5,205 660,204.5 685,204.3" fill="none" stroke="#333333" stroke-width="1.6" stroke-linejoin="round"/>
</g>
<rect x="533.6" y="185.1" width="148.4" height="113.8" fill="none" stroke="#000" stroke-width="2.3"/>
<line x1="532.4" y1="298.9" x2="683.2" y2="298.9" stroke="#000" stroke-width="2.7"/>
<line x1="527.2" y1="643" x2="533.2" y2="643" stroke="#000" stroke-width="2.4" stroke-linecap="butt"/>
<text x="524.9" y="646.9" font-size="11" text-anchor="end" font-weight="normal" font-style="normal" fill="#000">0</text>
<line x1="527.2" y1="616.9" x2="533.2" y2="616.9" stroke="#000" stroke-width="2.4" stroke-linecap="butt"/>
<text x="524.9" y="620.8" font-size="11" text-anchor="end" font-weight="normal" font-style="normal" fill="#000">25</text>
<line x1="527.2" y1="590.8" x2="533.2" y2="590.8" stroke="#000" stroke-width="2.4" stroke-linecap="butt"/>
<text x="524.9" y="594.7" font-size="11" text-anchor="end" font-weight="normal" font-style="normal" fill="#000">50</text>
<line x1="527.2" y1="564.6" x2="533.2" y2="564.6" stroke="#000" stroke-width="2.4" stroke-linecap="butt"/>
<text x="524.9" y="568.5" font-size="11" text-anchor="end" font-weight="normal" font-style="normal" fill="#000">75</text>
<line x1="527.2" y1="538.5" x2="533.2" y2="538.5" stroke="#000" stroke-width="2.4" stroke-linecap="butt"/>
<text x="524.9" y="542.4" font-size="11" text-anchor="end" font-weight="normal" font-style="normal" fill="#000">100</text>
<line x1="539.5" y1="643" x2="539.5" y2="648.5" stroke="#000" stroke-width="2.4" stroke-linecap="butt"/>
<text x="539.5" y="661.1" font-size="11.5" text-anchor="middle" font-weight="normal" font-style="normal" fill="#000">0</text>
<line x1="571.9" y1="643" x2="571.9" y2="648.5" stroke="#000" stroke-width="2.4" stroke-linecap="butt"/>
<text x="571.9" y="661.1" font-size="11.5" text-anchor="middle" font-weight="normal" font-style="normal" fill="#000">2500</text>
<line x1="604.4" y1="643" x2="604.4" y2="648.5" stroke="#000" stroke-width="2.4" stroke-linecap="butt"/>
<text x="604.4" y="661.1" font-size="11.5" text-anchor="middle" font-weight="normal" font-style="normal" fill="#000">5000</text>
<line x1="636.8" y1="643" x2="636.8" y2="648.5" stroke="#000" stroke-width="2.4" stroke-linecap="butt"/>
<text x="636.8" y="661.1" font-size="11.5" text-anchor="middle" font-weight="normal" font-style="normal" fill="#000">7500</text>
<line x1="669.2" y1="643" x2="669.2" y2="648.5" stroke="#000" stroke-width="2.4" stroke-linecap="butt"/>
<text x="669.2" y="661.1" font-size="11.5" text-anchor="middle" font-weight="normal" font-style="normal" fill="#000">10000</text>
<text x="609" y="677.8" font-size="14.2" text-anchor="middle" font-weight="normal" font-style="normal" fill="#000">IEI (ms)</text>
<text x="500" y="593.5" font-size="14" text-anchor="middle" font-weight="normal" font-style="normal" fill="#000" transform="rotate(-90 500 593.5)">Percent of Events</text>
<g clip-path="url(#cL)">
<polyline points="539.5,643 539.8,637.2 540.2,628.9 540.6,621.1 541,613.7 541.4,606.9 541.8,600.7 542.2,595 542.6,589.8 543,585 543.4,580.7 543.8,576.7 544.2,573.1 544.6,569.9 545,566.9 545.4,564.3 545.8,561.8 546.2,559.7 546.6,557.7 547,555.9 547.4,554.2 547.8,552.8 548.2,551.4 548.6,550.2 549,549.2 549.4,548.2 549.8,547.3 550.2,546.5 550.6,545.8 551,545.1 551.4,544.5 551.5,544.4 553.5,542.2 555.5,540.9 557.5,540.2 559.5,539.7 561.5,539.4 563.5,539.3 565.5,539.2 567.5,539.1 690,539.1" fill="none" stroke="#8393fc" stroke-width="1.2" stroke-linejoin="round"/>
<polyline points="539.5,643 539.8,639.2 540.2,633.8 540.6,628.3 541,623.1 541.4,618.1 541.8,613.3 542.2,608.8 542.6,604.5 543,600.4 543.4,596.6 543.8,593 544.2,589.6 544.6,586.4 545,583.4 545.4,580.6 545.8,578 546.2,575.5 546.6,573.2 547,571 547.4,569 547.8,567.1 548.2,565.3 548.6,563.6 549,562.1 549.4,560.6 549.8,559.2 550.2,557.9 550.6,556.7 551,555.6 551.4,554.6 551.5,554.3 553.5,550.1 555.5,547 557.5,544.9 559.5,543.3 561.5,542.2 563.5,541.5 565.5,540.9 567.5,540.5 569.5,540.2 571.5,540 573.5,539.9 575.5,539.8 577.5,539.7 579.5,539.7 581.5,539.6 690,539.6" fill="none" stroke="#8393fc" stroke-width="1.2" stroke-linejoin="round"/>
<polyline points="539.5,643 539.8,639.4 540.2,634.9 540.6,630.5 541,626.4 541.4,622.4 541.8,618.6 542.2,615 542.6,611.5 543,608.3 543.4,605.1 543.8,602.1 544.2,599.2 544.6,596.5 545,593.9 545.4,591.4 545.8,589 546.2,586.7 546.6,584.5 547,582.4 547.4,580.5 547.8,578.6 548.2,576.8 548.6,575 549,573.4 549.4,571.8 549.8,570.3 550.2,568.9 550.6,567.5 551,566.2 551.4,564.9 551.5,564.6 553.5,559.3 555.5,555 557.5,551.6 559.5,548.9 561.5,546.7 563.5,545 565.5,543.7 567.5,542.6 569.5,541.8 571.5,541.1 573.5,540.6 575.5,540.2 577.5,539.8 579.5,539.5 581.5,539.3 583.5,539.2 585.5,539 587.5,538.9 589.5,538.8 591.5,538.8 593.5,538.7 595.5,538.7 597.5,538.6 599.5,538.6 690,538.6" fill="none" stroke="#8393fc" stroke-width="1.2" stroke-linejoin="round"/>
<polyline points="539.5,643 539.8,640.3 540.2,636.9 540.6,633.6 541,630.4 541.4,627.3 541.8,624.3 542.2,621.4 542.6,618.6 543,615.9 543.4,613.3 543.8,610.8 544.2,608.4 544.6,606.1 545,603.8 545.4,601.6 545.8,599.5 546.2,597.4 546.6,595.5 547,593.6 547.4,591.7 547.8,590 548.2,588.2 548.6,586.6 549,585 549.4,583.4 549.8,581.9 550.2,580.5 550.6,579.1 551,577.8 551.4,576.5 551.5,576.1 553.5,570.3 555.5,565.4 557.5,561.3 559.5,557.8 561.5,554.9 563.5,552.5 565.5,550.4 567.5,548.7 569.5,547.3 571.5,546 573.5,545 575.5,544.1 577.5,543.4 579.5,542.8 581.5,542.3 583.5,541.9 585.5,541.5 587.5,541.2 589.5,540.9 591.5,540.7 593.5,540.5 595.5,540.4 597.5,540.2 599.5,540.1 601.5,540 603.5,540 605.5,539.9 607.5,539.9 609.5,539.8 611.5,539.8 613.5,539.7 615.5,539.7 617.5,539.7 619.5,539.7 690,539.7" fill="none" stroke="#8393fc" stroke-width="1.2" stroke-linejoin="round"/>
<polyline points="539.5,643 539.8,640.9 540.2,638.1 540.6,635.4 541,632.7 541.4,630.2 541.8,627.7 542.2,625.3 542.6,622.9 543,620.6 543.4,618.4 543.8,616.2 544.2,614.1 544.6,612 545,610 545.4,608.1 545.8,606.2 546.2,604.4 546.6,602.6 547,600.9 547.4,599.2 547.8,597.5 548.2,595.9 548.6,594.4 549,592.9 549.4,591.4 549.8,590 550.2,588.6 550.6,587.2 551,585.9 551.4,584.6 551.5,584.3 553.5,578.4 555.5,573.3 557.5,568.9 559.5,565 561.5,561.7 563.5,558.7 565.5,556.2 567.5,554 569.5,552 571.5,550.4 573.5,548.9 575.5,547.6 577.5,546.5 579.5,545.5 581.5,544.7 583.5,544 585.5,543.3 587.5,542.8 589.5,542.3 591.5,541.9 593.5,541.5 595.5,541.2 597.5,540.9 599.5,540.7 601.5,540.5 603.5,540.3 605.5,540.1 607.5,540 609.5,539.9 611.5,539.7 613.5,539.7 615.5,539.6 617.5,539.5 619.5,539.4 621.5,539.4 623.5,539.4 625.5,539.3 627.5,539.3 629.5,539.2 631.5,539.2 633.5,539.2 635.5,539.2 637.5,539.2 639.5,539.1 690,539.1" fill="none" stroke="#8393fc" stroke-width="1.2" stroke-linejoin="round"/>
<polyline points="539.5,643 539.8,640.6 540.2,637.8 540.6,635.3 541,633 541.4,630.7 541.8,628.5 542.2,626.4 542.6,624.4 543,622.4 543.4,620.5 543.8,618.7 544.2,616.9 544.6,615.2 545,613.5 545.4,611.8 545.8,610.2 546.2,608.7 546.6,607.2 547,605.7 547.4,604.2 547.8,602.8 548.2,601.4 548.6,600.1 549,598.8 549.4,597.5 549.8,596.3 550.2,595.1 550.6,593.9 551,592.7 551.4,591.6 551.5,591.3 553.5,586 555.5,581.3 557.5,577.1 559.5,573.3 561.5,570 563.5,566.9 565.5,564.2 567.5,561.8 569.5,559.6 571.5,557.6 573.5,555.8 575.5,554.2 577.5,552.8 579.5,551.5 581.5,550.3 583.5,549.3 585.5,548.3 587.5,547.5 589.5,546.7 591.5,546 593.5,545.4 595.5,544.8 597.5,544.3 599.5,543.8 601.5,543.4 603.5,543.1 605.5,542.7 607.5,542.4 609.5,542.1 611.5,541.9 613.5,541.7 615.5,541.5 617.5,541.3 619.5,541.1 621.5,541 623.5,540.8 625.5,540.7 627.5,540.6 629.5,540.5 631.5,540.4 633.5,540.3 635.5,540.3 637.5,540.2 639.5,540.1 641.5,540.1 643.5,540 645.5,540 647.5,539.9 649.5,539.9 651.5,539.9 653.5,539.8 655.5,539.8 657.5,539.8 659.5,539.8 661.5,539.7 663.5,539.7 665.5,539.7 667.5,539.7 669.5,539.7 671.5,539.7 673.5,539.7 690,539.7" fill="none" stroke="#8393fc" stroke-width="1.2" stroke-linejoin="round"/>
<polyline points="539.5,643 539.8,640.8 540.2,638.4 540.6,636.1 541,634 541.4,631.9 541.8,630 542.2,628.1 542.6,626.2 543,624.4 543.4,622.7 543.8,621 544.2,619.4 544.6,617.8 545,616.2 545.4,614.7 545.8,613.2 546.2,611.8 546.6,610.4 547,609 547.4,607.6 547.8,606.3 548.2,605 548.6,603.8 549,602.5 549.4,601.3 549.8,600.1 550.2,599 550.6,597.9 551,596.7 551.4,595.7 551.5,595.4 553.5,590.3 555.5,585.8 557.5,581.6 559.5,577.9 561.5,574.5 563.5,571.4 565.5,568.6 567.5,566.1 569.5,563.8 571.5,561.7 573.5,559.8 575.5,558 577.5,556.5 579.5,555 581.5,553.7 583.5,552.5 585.5,551.4 587.5,550.4 589.5,549.5 591.5,548.7 593.5,548 595.5,547.3 597.5,546.6 599.5,546.1 601.5,545.6 603.5,545.1 605.5,544.6 607.5,544.2 609.5,543.9 611.5,543.6 613.5,543.3 615.5,543 617.5,542.7 619.5,542.5 621.5,542.3 623.5,542.1 625.5,541.9 627.5,541.8 629.5,541.6 631.5,541.5 633.5,541.4 635.5,541.3 637.5,541.2 639.5,541.1 641.5,541 643.5,540.9 645.5,540.8 647.5,540.8 649.5,540.7 651.5,540.7 653.5,540.6 655.5,540.6 657.5,540.5 659.5,540.5 661.5,540.5 663.5,540.4 665.5,540.4 667.5,540.4 669.5,540.3 671.5,540.3 673.5,540.3 675.5,540.3 677.5,540.3 679.5,540.2 681.5,540.2 683.5,540.2 685.5,540.2 687.5,540.2 689.5,540.2 690,540.2" fill="none" stroke="#8393fc" stroke-width="1.2" stroke-linejoin="round"/>
<polyline points="539.5,643 539.8,641 540.2,638.8 540.6,636.7 541,634.7 541.4,632.8 541.8,631 542.2,629.3 542.6,627.6 543,625.9 543.4,624.3 543.8,622.7 544.2,621.2 544.6,619.7 545,618.3 545.4,616.8 545.8,615.4 546.2,614.1 546.6,612.7 547,611.4 547.4,610.2 547.8,608.9 548.2,607.7 548.6,606.5 549,605.3 549.4,604.2 549.8,603 550.2,601.9 550.6,600.8 551,599.8 551.4,598.7 551.5,598.5 553.5,593.6 555.5,589.1 557.5,585 559.5,581.3 561.5,577.9 563.5,574.8 565.5,571.9 567.5,569.3 569.5,566.9 571.5,564.7 573.5,562.7 575.5,560.9 577.5,559.2 579.5,557.6 581.5,556.2 583.5,554.8 585.5,553.6 587.5,552.5 589.5,551.5 591.5,550.5 593.5,549.7 595.5,548.9 597.5,548.1 599.5,547.5 601.5,546.8 603.5,546.3 605.5,545.7 607.5,545.3 609.5,544.8 611.5,544.4 613.5,544 615.5,543.7 617.5,543.3 619.5,543.1 621.5,542.8 623.5,542.5 625.5,542.3 627.5,542.1 629.5,541.9 631.5,541.7 633.5,541.5 635.5,541.4 637.5,541.2 639.5,541.1 641.5,541 643.5,540.9 645.5,540.8 647.5,540.7 649.5,540.6 651.5,540.5 653.5,540.4 655.5,540.4 657.5,540.3 659.5,540.3 661.5,540.2 663.5,540.1 665.5,540.1 667.5,540.1 669.5,540 671.5,540 673.5,540 675.5,539.9 677.5,539.9 679.5,539.9 681.5,539.8 683.5,539.8 685.5,539.8 687.5,539.8 689.5,539.8 691.5,539.8 693.5,539.7 695.5,539.7 697.5,539.7" fill="none" stroke="#8393fc" stroke-width="1.2" stroke-linejoin="round"/>
<polyline points="539.5,643 539.8,641.2 540.2,639.2 540.6,637.3 541,635.5 541.4,633.7 541.8,632.1 542.2,630.5 542.6,628.9 543,627.4 543.4,625.9 543.8,624.5 544.2,623 544.6,621.7 545,620.3 545.4,619 545.8,617.7 546.2,616.4 546.6,615.2 547,614 547.4,612.8 547.8,611.6 548.2,610.5 548.6,609.3 549,608.2 549.4,607.2 549.8,606.1 550.2,605 550.6,604 551,603 551.4,602 551.5,601.8 553.5,597.1 555.5,592.8 557.5,588.9 559.5,585.3 561.5,581.9 563.5,578.9 565.5,576 567.5,573.4 569.5,571 571.5,568.8 573.5,566.7 575.5,564.8 577.5,563 579.5,561.4 581.5,559.9 583.5,558.5 585.5,557.2 587.5,556 589.5,554.9 591.5,553.8 593.5,552.9 595.5,552 597.5,551.2 599.5,550.4 601.5,549.7 603.5,549 605.5,548.4 607.5,547.9 609.5,547.4 611.5,546.9 613.5,546.4 615.5,546 617.5,545.6 619.5,545.3 621.5,544.9 623.5,544.6 625.5,544.3 627.5,544.1 629.5,543.8 631.5,543.6 633.5,543.4 635.5,543.2 637.5,543 639.5,542.8 641.5,542.7 643.5,542.5 645.5,542.4 647.5,542.3 649.5,542.1 651.5,542 653.5,541.9 655.5,541.8 657.5,541.7 659.5,541.7 661.5,541.6 663.5,541.5 665.5,541.5 667.5,541.4 669.5,541.3 671.5,541.3 673.5,541.2 675.5,541.2 677.5,541.2 679.5,541.1 681.5,541.1 683.5,541 685.5,541 687.5,541 689.5,541 691.5,540.9 693.5,540.9 695.5,540.9 697.5,540.9" fill="none" stroke="#8393fc" stroke-width="1.2" stroke-linejoin="round"/>
<polyline points="539.5,643 539.8,641 540.2,638.9 540.6,637 541,635.2 541.4,633.5 541.8,631.9 542.2,630.4 542.6,628.9 543,627.4 543.4,626 543.8,624.7 544.2,623.3 544.6,622 545,620.8 545.4,619.5 545.8,618.3 546.2,617.1 546.6,616 547,614.8 547.4,613.7 547.8,612.6 548.2,611.6 548.6,610.5 549,609.5 549.4,608.5 549.8,607.5 550.2,606.5 550.6,605.5 551,604.6 551.4,603.7 551.5,603.4 553.5,599 555.5,595 557.5,591.3 559.5,587.8 561.5,584.6 563.5,581.7 565.5,578.9 567.5,576.4 569.5,574 571.5,571.7 573.5,569.7 575.5,567.7 577.5,565.9 579.5,564.3 581.5,562.7 583.5,561.2 585.5,559.8 587.5,558.6 589.5,557.4 591.5,556.2 593.5,555.2 595.5,554.2 597.5,553.3 599.5,552.4 601.5,551.6 603.5,550.9 605.5,550.2 607.5,549.5 609.5,548.9 611.5,548.3 613.5,547.8 615.5,547.3 617.5,546.8 619.5,546.3 621.5,545.9 623.5,545.5 625.5,545.2 627.5,544.8 629.5,544.5 631.5,544.2 633.5,543.9 635.5,543.6 637.5,543.4 639.5,543.2 641.5,542.9 643.5,542.7 645.5,542.5 647.5,542.3 649.5,542.2 651.5,542 653.5,541.9 655.5,541.7 657.5,541.6 659.5,541.5 661.5,541.4 663.5,541.2 665.5,541.1 667.5,541 669.5,541 671.5,540.9 673.5,540.8 675.5,540.7 677.5,540.6 679.5,540.6 681.5,540.5 683.5,540.5 685.5,540.4 687.5,540.4 689.5,540.3 691.5,540.3 693.5,540.2 695.5,540.2 697.5,540.1" fill="none" stroke="#8393fc" stroke-width="1.2" stroke-linejoin="round"/>
<polyline points="539.5,643 539.8,641.2 540.2,639.3 540.6,637.5 541,635.9 541.4,634.4 541.8,632.9 542.2,631.5 542.6,630.1 543,628.8 543.4,627.5 543.8,626.2 544.2,625 544.6,623.8 545,622.6 545.4,621.5 545.8,620.4 546.2,619.3 546.6,618.2 547,617.1 547.4,616.1 547.8,615.1 548.2,614.1 548.6,613.1 549,612.1 549.4,611.2 549.8,610.2 550.2,609.3 550.6,608.4 551,607.5 551.4,606.7 551.5,606.4 553.5,602.3 555.5,598.4 557.5,594.9 559.5,591.5 561.5,588.4 563.5,585.5 565.5,582.8 567.5,580.3 569.5,577.9 571.5,575.7 573.5,573.6 575.5,571.7 577.5,569.8 579.5,568.1 581.5,566.5 583.5,565 585.5,563.5 587.5,562.2 589.5,560.9 591.5,559.7 593.5,558.6 595.5,557.6 597.5,556.6 599.5,555.6 601.5,554.8 603.5,553.9 605.5,553.1 607.5,552.4 609.5,551.7 611.5,551.1 613.5,550.4 615.5,549.9 617.5,549.3 619.5,548.8 621.5,548.3 623.5,547.8 625.5,547.4 627.5,547 629.5,546.6 631.5,546.3 633.5,545.9 635.5,545.6 637.5,545.3 639.5,545 641.5,544.7 643.5,544.5 645.5,544.2 647.5,544 649.5,543.8 651.5,543.6 653.5,543.4 655.5,543.2 657.5,543 659.5,542.9 661.5,542.7 663.5,542.6 665.5,542.4 667.5,542.3 669.5,542.2 671.5,542.1 673.5,541.9 675.5,541.8 677.5,541.7 679.5,541.7 681.5,541.6 683.5,541.5 685.5,541.4 687.5,541.3 689.5,541.3 691.5,541.2 693.5,541.1 695.5,541.1 697.5,541" fill="none" stroke="#8393fc" stroke-width="1.2" stroke-linejoin="round"/>
<polyline points="539.7,643 540.5,643 540.5,632 542.5,632 542.5,626 545,626 545,621 559.4,621 559.4,615.3 565.5,615.3 565.5,605.3 569.1,605.3 569.1,598 575.5,598 575.5,593.4 581,593.4 581,589.7 589.2,589.7 589.2,584.3 594.7,584.3 594.7,576.1 600.1,576.1 600.1,570.6 615.7,570.6 615.7,566.9 624.8,566.9 624.8,562 640.3,562 640.3,552.3 644.9,552.3 644.9,547.8 662.2,547.8 662.2,543.2 685,543.2 685,543.2" fill="none" stroke="#8393fc" stroke-width="1.4" stroke-linejoin="round" stroke-linejoin="miter"/>
<polyline points="539.7,643 541,643 541,633 543.6,633 543.6,630.9 550.4,630.9 550.4,620.7 570,620.7 570,611.6 572.8,611.6 572.8,604.3 573.7,604.3 573.7,598 588.3,598 588.3,591.6 592.8,591.6 592.8,584.3 600.1,584.3 600.1,577.9 607.4,577.9 607.4,574.2 633,574.2 633,569.7 636.6,569.7 636.6,565.1 638.5,565.1 638.5,562.4 644.9,562.4 644.9,557.8 656.7,557.8 656.7,550.5 685,550.5 685,550.5" fill="none" stroke="#8393fc" stroke-width="1.4" stroke-linejoin="round" stroke-linejoin="miter"/>
<polyline points="539.5,643 539.8,640.8 540.2,625.5 540.6,602.2 541,580.4 541.4,564 541.8,553.2 542.2,546.6 542.6,542.9 543,540.8 543.4,539.7 543.8,539.1 544.2,538.8 544.6,538.7 545,538.6 690,538.6" fill="none" stroke="#333333" stroke-width="1.1" stroke-linejoin="round"/>
<polyline points="539.5,643 539.8,641.8 540.2,631.9 540.6,614.5 541,595.3 541.4,578.3 541.8,565.1 542.2,555.6 542.6,549.2 543,545 543.4,542.4 543.8,540.8 544.2,539.8 544.6,539.3 545,538.9 545.4,538.8 545.8,538.7 546.2,538.6 690,538.6" fill="none" stroke="#333333" stroke-width="1.1" stroke-linejoin="round"/>
<polyline points="539.5,643 539.8,642 540.2,634.9 540.6,621.8 541,606.1 541.4,590.8 541.8,577.4 542.2,566.6 542.6,558.3 543,552.2 543.4,547.8 543.8,544.8 544.2,542.7 544.6,541.2 545,540.3 545.4,539.7 545.8,539.2 546.2,539 546.6,538.8 547,538.7 547.4,538.6 547.8,538.6 690,538.6" fill="none" stroke="#333333" stroke-width="1.1" stroke-linejoin="round"/>
<polyline points="539.5,643 539.8,642.4 540.2,637.3 540.6,627.2 541,614.2 541.4,600.5 541.8,587.7 542.2,576.5 542.6,567.2 543,559.7 543.4,554 543.8,549.7 544.2,546.5 544.6,544.1 545,542.4 545.4,541.2 545.8,540.4 546.2,539.8 546.6,539.4 547,539.1 547.4,538.9 547.8,538.8 548.2,538.7 548.6,538.6 549,538.6 690,538.6" fill="none" stroke="#333333" stroke-width="1.1" stroke-linejoin="round"/>
<polyline points="539.5,643 539.8,642.5 540.2,638.8 540.6,630.9 541,620.2 541.4,608.3 541.8,596.4 542.2,585.4 542.6,575.7 543,567.6 543.4,560.9 543.8,555.5 544.2,551.3 544.6,548 545,545.6 545.4,543.7 545.8,542.3 546.2,541.3 546.6,540.5 547,539.9 547.4,539.5 547.8,539.2 548.2,539 548.6,538.9 549,538.8 549.4,538.7 549.8,538.6 550.2,538.6 690,538.6" fill="none" stroke="#333333" stroke-width="1.1" stroke-linejoin="round"/>
<polyline points="539.5,643 539.8,642.7 540.2,639.8 540.6,633.6 541,624.8 541.4,614.4 541.8,603.7 542.2,593.2 542.6,583.7 543,575.2 543.4,567.9 543.8,561.8 544.2,556.8 544.6,552.7 545,549.5 545.4,546.9 545.8,544.9 546.2,543.4 546.6,542.2 547,541.3 547.4,540.6 547.8,540 548.2,539.6 548.6,539.4 549,539.1 549.4,539 549.8,538.9 550.2,538.8 550.6,538.7 551,538.6 551.4,538.6 690,538.6" fill="none" stroke="#333333" stroke-width="1.1" stroke-linejoin="round"/>
<polyline points="539.5,643 539.8,642.7 540.2,640.1 540.6,634.8 541,627.3 541.4,618.4 541.8,609 542.2,599.7 542.6,590.8 543,582.6 543.4,575.3 543.8,568.9 544.2,563.5 544.6,558.8 545,554.9 545.4,551.7 545.8,549.1 546.2,546.9 546.6,545.2 547,543.8 547.4,542.7 547.8,541.8 548.2,541.1 548.6,540.5 549,540.1 549.4,539.7 549.8,539.4 550.2,539.2 550.6,539.1 551,538.9 551.4,538.8 551.5,538.8 553.5,538.6 690,538.6" fill="none" stroke="#333333" stroke-width="1.1" stroke-linejoin="round"/>
<polyline points="539.5,643 539.8,642.7 540.2,640.7 540.6,636.3 541,629.9 541.4,622.2 541.8,613.8 542.2,605.2 542.6,596.8 543,588.8 543.4,581.5 543.8,575 544.2,569.2 544.6,564.1 545,559.7 545.4,556 545.8,552.9 546.2,550.3 546.6,548.1 547,546.3 547.4,544.8 547.8,543.6 548.2,542.6 548.6,541.8 549,541.1 549.4,540.6 549.8,540.2 550.2,539.8 550.6,539.6 551,539.3 551.4,539.2 551.5,539.1 553.5,538.7 555.5,538.6 690,538.6" fill="none" stroke="#333333" stroke-width="1.1" stroke-linejoin="round"/>
<polyline points="539.5,643 539.8,642.8 540.2,641.2 540.6,637.8 541,632.6 541.4,626.2 541.8,619 542.2,611.3 542.6,603.6 543,596.1 543.4,589 543.8,582.4 544.2,576.4 544.6,571.1 545,566.3 545.4,562.1 545.8,558.4 546.2,555.2 546.6,552.5 547,550.2 547.4,548.2 547.8,546.6 548.2,545.2 548.6,544 549,543 549.4,542.2 549.8,541.6 550.2,541 550.6,540.5 551,540.2 551.4,539.9 551.5,539.8 553.5,539 555.5,538.7 557.5,538.6 690,538.6" fill="none" stroke="#333333" stroke-width="1.1" stroke-linejoin="round"/>
<polyline points="539.5,643 539.8,642.8 540.2,641.3 540.6,638.2 541,633.7 541.4,628.2 541.8,622 542.2,615.4 542.6,608.6 543,601.9 543.4,595.4 543.8,589.3 544.2,583.5 544.6,578.2 545,573.3 545.4,569 545.8,565 546.2,561.5 546.6,558.4 547,555.7 547.4,553.3 547.8,551.2 548.2,549.3 548.6,547.8 549,546.4 549.4,545.2 549.8,544.2 550.2,543.3 550.6,542.6 551,542 551.4,541.4 551.5,541.3 553.5,539.7 555.5,539 557.5,538.7 559.5,538.6 690,538.6" fill="none" stroke="#333333" stroke-width="1.1" stroke-linejoin="round"/>
<polyline points="539.5,643 539.8,642.8 540.2,641.7 540.6,639.3 541,635.7 541.4,631.1 541.8,625.9 542.2,620.2 542.6,614.2 543,608.1 543.4,602.1 543.8,596.3 544.2,590.8 544.6,585.5 545,580.6 545.4,576 545.8,571.9 546.2,568.1 546.6,564.6 547,561.5 547.4,558.7 547.8,556.2 548.2,554 548.6,552 549,550.3 549.4,548.7 549.8,547.4 550.2,546.2 550.6,545.2 551,544.3 551.4,543.5 551.5,543.3 553.5,540.8 555.5,539.5 557.5,539 559.5,538.7 561.5,538.6 690,538.6" fill="none" stroke="#333333" stroke-width="1.1" stroke-linejoin="round"/>
<polyline points="539.5,643 539.8,642.8 540.2,641.9 540.6,639.9 541,636.9 541.4,633.2 541.8,628.8 542.2,624 542.6,618.9 543,613.7 543.4,608.4 543.8,603.2 544.2,598.1 544.6,593.1 545,588.4 545.4,584 545.8,579.8 546.2,575.9 546.6,572.3 547,568.9 547.4,565.9 547.8,563.1 548.2,560.5 548.6,558.1 549,556 549.4,554.1 549.8,552.4 550.2,550.8 550.6,549.5 551,548.2 551.4,547.1 551.5,546.8 553.5,543 555.5,540.8 557.5,539.7 559.5,539.1 561.5,538.8 563.5,538.7 565.5,538.6 690,538.6" fill="none" stroke="#333333" stroke-width="1.1" stroke-linejoin="round"/>
<polyline points="539.5,643 539.8,642.9 540.2,642 540.6,640.4 541,637.9 541.4,634.9 541.8,631.3 542.2,627.3 542.6,623 543,618.5 543.4,613.9 543.8,609.3 544.2,604.8 544.6,600.3 545,596 545.4,591.8 545.8,587.8 546.2,583.9 546.6,580.3 547,576.9 547.4,573.7 547.8,570.7 548.2,568 548.6,565.4 549,563 549.4,560.8 549.8,558.7 550.2,556.9 550.6,555.1 551,553.6 551.4,552.1 551.5,551.8 553.5,546.4 555.5,543.1 557.5,541.2 559.5,540 561.5,539.4 563.5,539 565.5,538.8 567.5,538.7 569.5,538.6 690,538.6" fill="none" stroke="#333333" stroke-width="1.1" stroke-linejoin="round"/>
<polyline points="539.5,643 542,625 545,612 548.5,602 552.1,594 556,585 560,575 565.2,568.5 570,563 575,559 579.8,556.8 586,552 594.4,548.1 604,545.5 614.8,543 630,541 660,540 685,539.8" fill="none" stroke="#333333" stroke-width="1.6" stroke-linejoin="round"/>
<polyline points="539.5,643 541.5,620 544,600 547,583 550.6,568.5 555,561 560,555 565.2,549.5 572,546 580,543.5 594.4,541.5 620,540 685,539.5" fill="none" stroke="#333333" stroke-width="1.6" stroke-linejoin="round"/>
</g>
<rect x="533.2" y="529.4" width="148.8" height="113.6" fill="none" stroke="#000" stroke-width="2.3"/>
<line x1="532" y1="643" x2="683.2" y2="643" stroke="#000" stroke-width="2.7"/>
</svg>
</body></html>
